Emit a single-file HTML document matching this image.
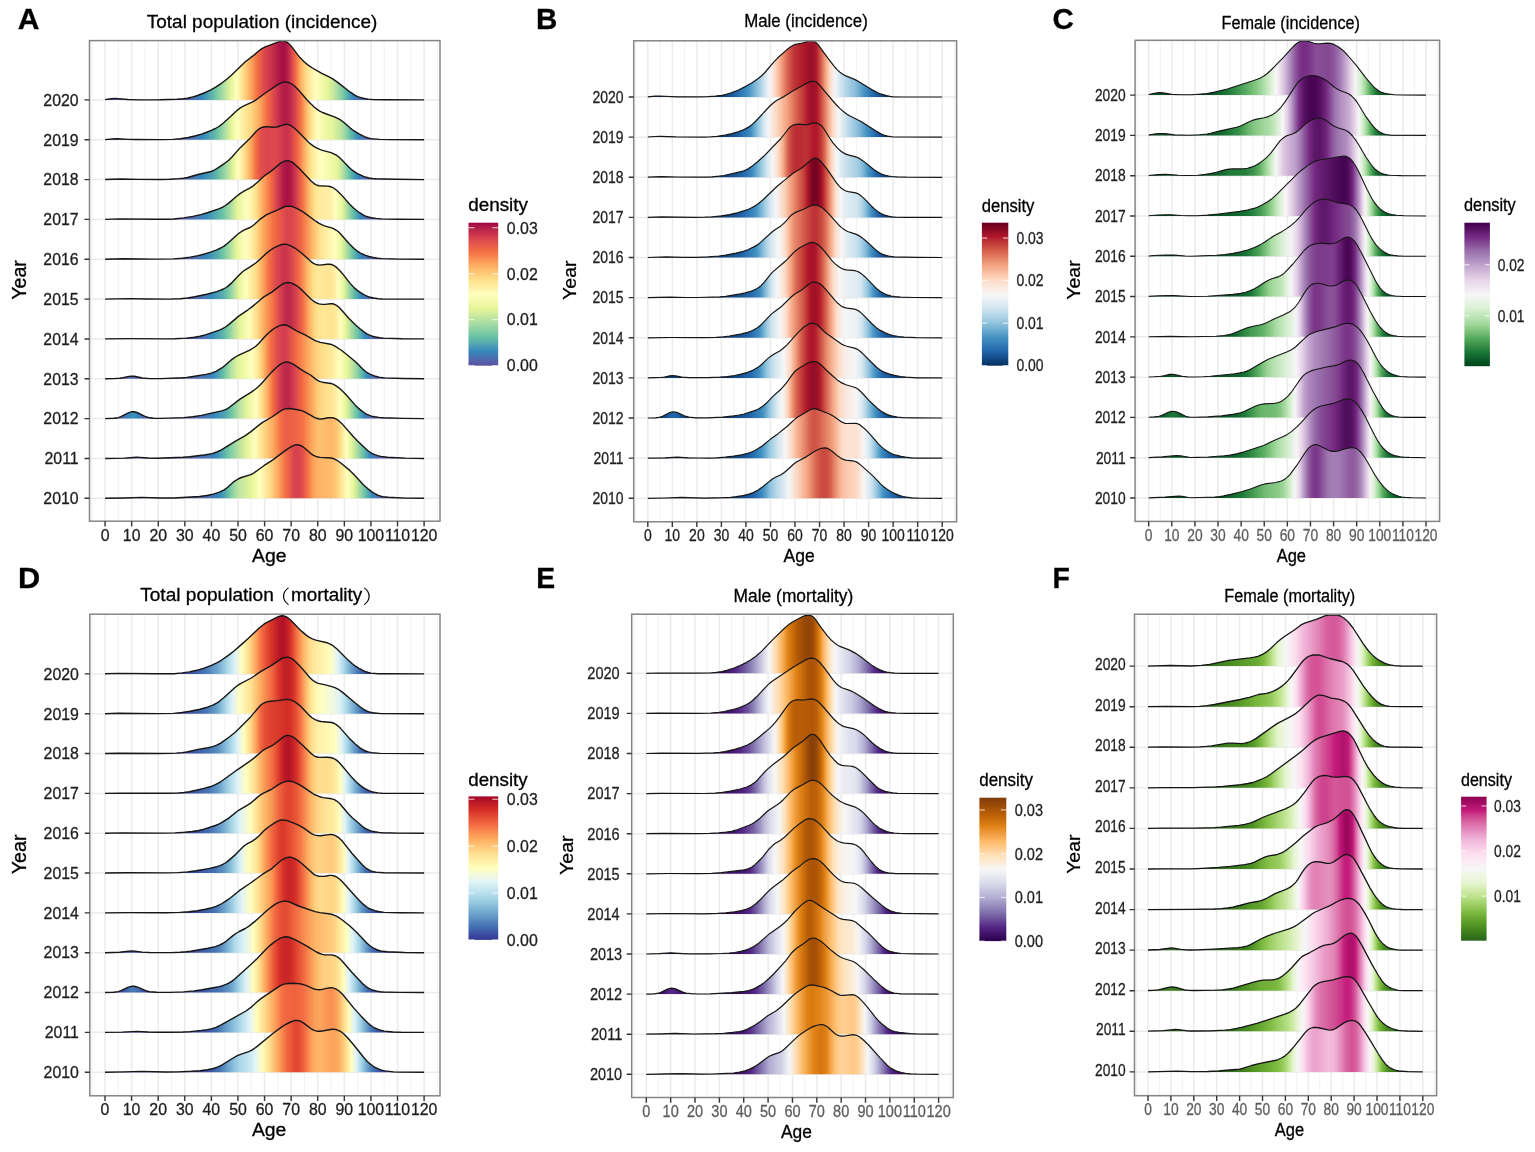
<!DOCTYPE html><html><head><meta charset="utf-8"><title>Ridgeline density plots</title><style>html,body{margin:0;padding:0;background:#fff;}svg{display:block;}text{stroke-width:0.3px;}</style></head><body><svg width="1535" height="1152" viewBox="0 0 1535 1152" style="font-family:'Liberation Sans',Arial,'Noto Sans CJK SC',sans-serif"><defs><clipPath id="clipA"><rect x="89.50" y="40.60" width="350.50" height="480.60"/></clipPath><linearGradient id="gA2020" gradientUnits="userSpaceOnUse" x1="105.10" y1="0" x2="424.10" y2="0"><stop offset="0.0000" stop-color="#5d52a3"/><stop offset="0.0333" stop-color="#585ea9"/><stop offset="0.0938" stop-color="#5e50a2"/><stop offset="0.2042" stop-color="#5c54a4"/><stop offset="0.2562" stop-color="#585ea9"/><stop offset="0.2854" stop-color="#4975b4"/><stop offset="0.3042" stop-color="#3489bd"/><stop offset="0.3292" stop-color="#58abaf"/><stop offset="0.3438" stop-color="#6ac3a5"/><stop offset="0.3771" stop-color="#bde4a1"/><stop offset="0.3937" stop-color="#e7f599"/><stop offset="0.4125" stop-color="#feffbe"/><stop offset="0.4333" stop-color="#fedc88"/><stop offset="0.4583" stop-color="#fca45c"/><stop offset="0.4771" stop-color="#f46f44"/><stop offset="0.4979" stop-color="#dc4a4d"/><stop offset="0.5208" stop-color="#c8334c"/><stop offset="0.5542" stop-color="#a60f44"/><stop offset="0.5625" stop-color="#a71044"/><stop offset="0.5729" stop-color="#b72348"/><stop offset="0.5854" stop-color="#d9454e"/><stop offset="0.5979" stop-color="#f46f44"/><stop offset="0.6125" stop-color="#fdae61"/><stop offset="0.6312" stop-color="#fede8a"/><stop offset="0.6604" stop-color="#ffffbf"/><stop offset="0.6979" stop-color="#e5f598"/><stop offset="0.7188" stop-color="#c0e5a0"/><stop offset="0.7438" stop-color="#7fcba5"/><stop offset="0.7521" stop-color="#65c0a6"/><stop offset="0.7688" stop-color="#4798b7"/><stop offset="0.7771" stop-color="#3487bc"/><stop offset="0.7875" stop-color="#4975b4"/><stop offset="0.8083" stop-color="#5760aa"/><stop offset="0.8396" stop-color="#5d53a4"/><stop offset="1.0000" stop-color="#5e4fa2"/></linearGradient><linearGradient id="gA2019" gradientUnits="userSpaceOnUse" x1="105.10" y1="0" x2="424.10" y2="0"><stop offset="0.0000" stop-color="#5e50a3"/><stop offset="0.0437" stop-color="#5b58a6"/><stop offset="0.1146" stop-color="#5d51a3"/><stop offset="0.2188" stop-color="#5c53a4"/><stop offset="0.2708" stop-color="#516baf"/><stop offset="0.2979" stop-color="#3d81b9"/><stop offset="0.3063" stop-color="#3389bd"/><stop offset="0.3333" stop-color="#56a9b0"/><stop offset="0.3500" stop-color="#66c2a5"/><stop offset="0.3792" stop-color="#b7e1a2"/><stop offset="0.3958" stop-color="#e6f598"/><stop offset="0.4146" stop-color="#feffbe"/><stop offset="0.4417" stop-color="#ffe694"/><stop offset="0.4604" stop-color="#fed27f"/><stop offset="0.4813" stop-color="#fdaf62"/><stop offset="0.5083" stop-color="#f36c44"/><stop offset="0.5375" stop-color="#d13a4e"/><stop offset="0.5542" stop-color="#b62248"/><stop offset="0.5667" stop-color="#b01c46"/><stop offset="0.5813" stop-color="#bd2949"/><stop offset="0.5958" stop-color="#d8434e"/><stop offset="0.6125" stop-color="#f47044"/><stop offset="0.6292" stop-color="#fdb365"/><stop offset="0.6458" stop-color="#fee28e"/><stop offset="0.6667" stop-color="#ffffbf"/><stop offset="0.6937" stop-color="#eef8a4"/><stop offset="0.7125" stop-color="#e3f499"/><stop offset="0.7354" stop-color="#c4e79f"/><stop offset="0.7500" stop-color="#a2d9a4"/><stop offset="0.7688" stop-color="#64bfa7"/><stop offset="0.7896" stop-color="#3f91b9"/><stop offset="0.7937" stop-color="#358abc"/><stop offset="0.7958" stop-color="#3586bc"/><stop offset="0.8083" stop-color="#4a74b3"/><stop offset="0.8292" stop-color="#595da8"/><stop offset="0.8688" stop-color="#5d51a3"/><stop offset="1.0000" stop-color="#5e4fa2"/></linearGradient><linearGradient id="gA2018" gradientUnits="userSpaceOnUse" x1="105.10" y1="0" x2="424.10" y2="0"><stop offset="0.0000" stop-color="#5e50a2"/><stop offset="0.0667" stop-color="#5c54a4"/><stop offset="0.1896" stop-color="#5d52a3"/><stop offset="0.2521" stop-color="#575fa9"/><stop offset="0.2812" stop-color="#4777b5"/><stop offset="0.3042" stop-color="#3288bd"/><stop offset="0.3333" stop-color="#4d9eb4"/><stop offset="0.3521" stop-color="#63bca8"/><stop offset="0.3604" stop-color="#75c7a5"/><stop offset="0.3875" stop-color="#bae3a1"/><stop offset="0.4021" stop-color="#e7f599"/><stop offset="0.4167" stop-color="#fdfebd"/><stop offset="0.4188" stop-color="#fffdbc"/><stop offset="0.4396" stop-color="#fed985"/><stop offset="0.4583" stop-color="#fca65d"/><stop offset="0.4729" stop-color="#f46d43"/><stop offset="0.4875" stop-color="#e1504b"/><stop offset="0.5042" stop-color="#da464e"/><stop offset="0.5354" stop-color="#dc494d"/><stop offset="0.5542" stop-color="#d03a4e"/><stop offset="0.5687" stop-color="#c7324c"/><stop offset="0.5813" stop-color="#d23b4e"/><stop offset="0.6042" stop-color="#f16944"/><stop offset="0.6083" stop-color="#f67647"/><stop offset="0.6271" stop-color="#feb769"/><stop offset="0.6438" stop-color="#fee18c"/><stop offset="0.6646" stop-color="#fff7b2"/><stop offset="0.6750" stop-color="#ffffbf"/><stop offset="0.7188" stop-color="#edf8a2"/><stop offset="0.7271" stop-color="#e6f598"/><stop offset="0.7417" stop-color="#c1e5a0"/><stop offset="0.7604" stop-color="#7ccaa5"/><stop offset="0.7667" stop-color="#65bfa6"/><stop offset="0.7833" stop-color="#4596b7"/><stop offset="0.7917" stop-color="#3387bd"/><stop offset="0.8042" stop-color="#4876b4"/><stop offset="0.8271" stop-color="#585fa9"/><stop offset="0.8646" stop-color="#5c54a4"/><stop offset="1.0000" stop-color="#5e4fa2"/></linearGradient><linearGradient id="gA2017" gradientUnits="userSpaceOnUse" x1="105.10" y1="0" x2="424.10" y2="0"><stop offset="0.0000" stop-color="#5e50a2"/><stop offset="0.0750" stop-color="#5d53a4"/><stop offset="0.2104" stop-color="#5d52a3"/><stop offset="0.2750" stop-color="#506cb0"/><stop offset="0.3042" stop-color="#3e80b9"/><stop offset="0.3146" stop-color="#3489bd"/><stop offset="0.3438" stop-color="#54a6b1"/><stop offset="0.3667" stop-color="#67c2a5"/><stop offset="0.3896" stop-color="#a0d8a4"/><stop offset="0.4146" stop-color="#e5f498"/><stop offset="0.4437" stop-color="#feffbe"/><stop offset="0.4604" stop-color="#fff1a7"/><stop offset="0.4750" stop-color="#fedc87"/><stop offset="0.4958" stop-color="#fca65d"/><stop offset="0.5188" stop-color="#f46d43"/><stop offset="0.5417" stop-color="#d13b4e"/><stop offset="0.5583" stop-color="#b01c46"/><stop offset="0.5708" stop-color="#a71144"/><stop offset="0.5833" stop-color="#b01c46"/><stop offset="0.5979" stop-color="#d03a4e"/><stop offset="0.6188" stop-color="#f46f44"/><stop offset="0.6375" stop-color="#fdb365"/><stop offset="0.6562" stop-color="#fee18d"/><stop offset="0.6687" stop-color="#ffeb9d"/><stop offset="0.7063" stop-color="#fff0a6"/><stop offset="0.7208" stop-color="#fffcba"/><stop offset="0.7229" stop-color="#ffffbf"/><stop offset="0.7438" stop-color="#e3f499"/><stop offset="0.7625" stop-color="#9ed7a4"/><stop offset="0.7771" stop-color="#66c1a5"/><stop offset="0.7937" stop-color="#4798b7"/><stop offset="0.8000" stop-color="#368abc"/><stop offset="0.8021" stop-color="#3586bc"/><stop offset="0.8125" stop-color="#4975b4"/><stop offset="0.8333" stop-color="#5761aa"/><stop offset="0.8750" stop-color="#5d53a4"/><stop offset="1.0000" stop-color="#5e4fa2"/></linearGradient><linearGradient id="gA2016" gradientUnits="userSpaceOnUse" x1="105.10" y1="0" x2="424.10" y2="0"><stop offset="0.0000" stop-color="#5e50a2"/><stop offset="0.0833" stop-color="#5c54a4"/><stop offset="0.2062" stop-color="#5d51a3"/><stop offset="0.2646" stop-color="#5663ab"/><stop offset="0.3021" stop-color="#457ab6"/><stop offset="0.3187" stop-color="#3387bd"/><stop offset="0.3563" stop-color="#5db2ac"/><stop offset="0.3667" stop-color="#66c2a5"/><stop offset="0.3937" stop-color="#b2e0a3"/><stop offset="0.4125" stop-color="#e7f599"/><stop offset="0.4375" stop-color="#fdfebd"/><stop offset="0.4417" stop-color="#fffebd"/><stop offset="0.4604" stop-color="#ffefa4"/><stop offset="0.4729" stop-color="#fedc87"/><stop offset="0.4938" stop-color="#fdad61"/><stop offset="0.5208" stop-color="#f67a48"/><stop offset="0.5312" stop-color="#f36b44"/><stop offset="0.5687" stop-color="#d9454e"/><stop offset="0.5854" stop-color="#db474d"/><stop offset="0.6104" stop-color="#ec6147"/><stop offset="0.6208" stop-color="#f57346"/><stop offset="0.6500" stop-color="#feb96a"/><stop offset="0.6729" stop-color="#fee18d"/><stop offset="0.6979" stop-color="#fff2a9"/><stop offset="0.7208" stop-color="#ffffbe"/><stop offset="0.7375" stop-color="#edf8a3"/><stop offset="0.7417" stop-color="#e7f599"/><stop offset="0.7646" stop-color="#94d3a4"/><stop offset="0.7771" stop-color="#65c0a6"/><stop offset="0.7937" stop-color="#4697b7"/><stop offset="0.8021" stop-color="#3288bd"/><stop offset="0.8146" stop-color="#4877b4"/><stop offset="0.8396" stop-color="#5761aa"/><stop offset="0.8792" stop-color="#5c54a4"/><stop offset="1.0000" stop-color="#5e4fa2"/></linearGradient><linearGradient id="gA2015" gradientUnits="userSpaceOnUse" x1="105.10" y1="0" x2="424.10" y2="0"><stop offset="0.0000" stop-color="#5e4fa2"/><stop offset="0.1021" stop-color="#5d53a4"/><stop offset="0.2250" stop-color="#5d51a3"/><stop offset="0.2708" stop-color="#5760aa"/><stop offset="0.3167" stop-color="#427cb7"/><stop offset="0.3333" stop-color="#3389bd"/><stop offset="0.3667" stop-color="#57a9b0"/><stop offset="0.3812" stop-color="#67c2a5"/><stop offset="0.4062" stop-color="#bae3a1"/><stop offset="0.4188" stop-color="#e4f498"/><stop offset="0.4417" stop-color="#ffffbe"/><stop offset="0.4729" stop-color="#fedc87"/><stop offset="0.4938" stop-color="#fda95f"/><stop offset="0.5125" stop-color="#f46f44"/><stop offset="0.5354" stop-color="#dd4b4c"/><stop offset="0.5563" stop-color="#cc364d"/><stop offset="0.5687" stop-color="#cb364d"/><stop offset="0.5875" stop-color="#dc4a4d"/><stop offset="0.6104" stop-color="#f57145"/><stop offset="0.6333" stop-color="#feb667"/><stop offset="0.6521" stop-color="#fede8a"/><stop offset="0.6667" stop-color="#ffe99a"/><stop offset="0.7063" stop-color="#ffe594"/><stop offset="0.7188" stop-color="#ffeda1"/><stop offset="0.7312" stop-color="#fffebe"/><stop offset="0.7458" stop-color="#eaf79e"/><stop offset="0.7479" stop-color="#e6f599"/><stop offset="0.7667" stop-color="#99d5a4"/><stop offset="0.7792" stop-color="#66c1a5"/><stop offset="0.7979" stop-color="#4192b9"/><stop offset="0.8021" stop-color="#358abc"/><stop offset="0.8042" stop-color="#3586bc"/><stop offset="0.8146" stop-color="#4a75b3"/><stop offset="0.8354" stop-color="#585ea9"/><stop offset="0.8708" stop-color="#5e50a2"/><stop offset="1.0000" stop-color="#5e4fa2"/></linearGradient><linearGradient id="gA2014" gradientUnits="userSpaceOnUse" x1="105.10" y1="0" x2="424.10" y2="0"><stop offset="0.0000" stop-color="#5e4fa2"/><stop offset="0.1708" stop-color="#5e50a2"/><stop offset="0.2354" stop-color="#5c54a4"/><stop offset="0.2917" stop-color="#5466ac"/><stop offset="0.3187" stop-color="#447bb6"/><stop offset="0.3333" stop-color="#3389bd"/><stop offset="0.3667" stop-color="#5bafad"/><stop offset="0.3771" stop-color="#66c2a5"/><stop offset="0.4062" stop-color="#bce4a1"/><stop offset="0.4229" stop-color="#e5f498"/><stop offset="0.4521" stop-color="#fffebd"/><stop offset="0.4771" stop-color="#feda86"/><stop offset="0.5000" stop-color="#fca75e"/><stop offset="0.5250" stop-color="#f57346"/><stop offset="0.5312" stop-color="#ef6546"/><stop offset="0.5542" stop-color="#cf394e"/><stop offset="0.5687" stop-color="#bd294a"/><stop offset="0.5813" stop-color="#bf2b4a"/><stop offset="0.6000" stop-color="#d7424e"/><stop offset="0.6208" stop-color="#f46d43"/><stop offset="0.6396" stop-color="#fdb063"/><stop offset="0.6562" stop-color="#fed582"/><stop offset="0.6687" stop-color="#fee390"/><stop offset="0.6875" stop-color="#ffe797"/><stop offset="0.7125" stop-color="#fee491"/><stop offset="0.7250" stop-color="#ffeb9e"/><stop offset="0.7375" stop-color="#fffdbc"/><stop offset="0.7396" stop-color="#fdfebc"/><stop offset="0.7542" stop-color="#e7f599"/><stop offset="0.7792" stop-color="#94d3a4"/><stop offset="0.7937" stop-color="#64bea7"/><stop offset="0.8104" stop-color="#4394b8"/><stop offset="0.8167" stop-color="#3387bd"/><stop offset="0.8271" stop-color="#4876b4"/><stop offset="0.8500" stop-color="#5761aa"/><stop offset="0.8854" stop-color="#5c56a5"/><stop offset="1.0000" stop-color="#5e4fa2"/></linearGradient><linearGradient id="gA2013" gradientUnits="userSpaceOnUse" x1="105.10" y1="0" x2="424.10" y2="0"><stop offset="0.0000" stop-color="#5e4fa2"/><stop offset="0.0521" stop-color="#5b56a5"/><stop offset="0.0813" stop-color="#5269ae"/><stop offset="0.1000" stop-color="#5662aa"/><stop offset="0.1271" stop-color="#5d53a4"/><stop offset="0.1854" stop-color="#5d52a3"/><stop offset="0.2625" stop-color="#575fa9"/><stop offset="0.3229" stop-color="#427db7"/><stop offset="0.3375" stop-color="#3288bd"/><stop offset="0.3583" stop-color="#55a7b1"/><stop offset="0.3708" stop-color="#67c2a5"/><stop offset="0.3958" stop-color="#b5e1a2"/><stop offset="0.4125" stop-color="#d9f09b"/><stop offset="0.4229" stop-color="#e7f69a"/><stop offset="0.4604" stop-color="#ffffbf"/><stop offset="0.4792" stop-color="#ffe797"/><stop offset="0.4854" stop-color="#feda86"/><stop offset="0.5021" stop-color="#fca65d"/><stop offset="0.5188" stop-color="#f46f44"/><stop offset="0.5417" stop-color="#dc4a4d"/><stop offset="0.5583" stop-color="#d33c4f"/><stop offset="0.5708" stop-color="#d8424e"/><stop offset="0.6021" stop-color="#f46f44"/><stop offset="0.6396" stop-color="#fdb062"/><stop offset="0.6646" stop-color="#fed480"/><stop offset="0.6896" stop-color="#fee28e"/><stop offset="0.7125" stop-color="#ffea9c"/><stop offset="0.7333" stop-color="#fffebd"/><stop offset="0.7458" stop-color="#f4fbae"/><stop offset="0.7604" stop-color="#e4f499"/><stop offset="0.7875" stop-color="#9ad6a4"/><stop offset="0.8021" stop-color="#64bfa6"/><stop offset="0.8187" stop-color="#3d8fba"/><stop offset="0.8229" stop-color="#3487bc"/><stop offset="0.8333" stop-color="#4877b4"/><stop offset="0.8583" stop-color="#5760aa"/><stop offset="0.8958" stop-color="#5c55a5"/><stop offset="1.0000" stop-color="#5e4fa2"/></linearGradient><linearGradient id="gA2012" gradientUnits="userSpaceOnUse" x1="105.10" y1="0" x2="424.10" y2="0"><stop offset="0.0000" stop-color="#5e4fa2"/><stop offset="0.0375" stop-color="#5c56a5"/><stop offset="0.0521" stop-color="#5465ac"/><stop offset="0.0708" stop-color="#3984bb"/><stop offset="0.0750" stop-color="#3389bd"/><stop offset="0.0854" stop-color="#3f90ba"/><stop offset="0.0958" stop-color="#3a8dbb"/><stop offset="0.1000" stop-color="#3489bd"/><stop offset="0.1229" stop-color="#5368ad"/><stop offset="0.1396" stop-color="#5b58a6"/><stop offset="0.1750" stop-color="#5d52a3"/><stop offset="0.2687" stop-color="#585fa9"/><stop offset="0.3125" stop-color="#4975b4"/><stop offset="0.3417" stop-color="#3389bd"/><stop offset="0.3729" stop-color="#4fa0b4"/><stop offset="0.3896" stop-color="#62bba8"/><stop offset="0.3958" stop-color="#70c5a5"/><stop offset="0.4208" stop-color="#b7e2a2"/><stop offset="0.4458" stop-color="#e7f59a"/><stop offset="0.4729" stop-color="#ffffbf"/><stop offset="0.4938" stop-color="#fedc88"/><stop offset="0.5125" stop-color="#fca15b"/><stop offset="0.5271" stop-color="#f26b44"/><stop offset="0.5479" stop-color="#d33d4f"/><stop offset="0.5625" stop-color="#bd294a"/><stop offset="0.5750" stop-color="#bc2849"/><stop offset="0.5938" stop-color="#d6404f"/><stop offset="0.6208" stop-color="#f46e43"/><stop offset="0.6500" stop-color="#fdab5f"/><stop offset="0.6687" stop-color="#fed07d"/><stop offset="0.6875" stop-color="#fede89"/><stop offset="0.7125" stop-color="#ffe695"/><stop offset="0.7292" stop-color="#fff6af"/><stop offset="0.7354" stop-color="#fffebd"/><stop offset="0.7417" stop-color="#f9fcb5"/><stop offset="0.7562" stop-color="#e3f499"/><stop offset="0.7771" stop-color="#96d4a4"/><stop offset="0.7896" stop-color="#65c0a6"/><stop offset="0.8063" stop-color="#4394b8"/><stop offset="0.8125" stop-color="#3487bc"/><stop offset="0.8229" stop-color="#4975b4"/><stop offset="0.8438" stop-color="#5662ab"/><stop offset="0.8833" stop-color="#5c56a5"/><stop offset="1.0000" stop-color="#5e4fa2"/></linearGradient><linearGradient id="gA2011" gradientUnits="userSpaceOnUse" x1="105.10" y1="0" x2="424.10" y2="0"><stop offset="0.0000" stop-color="#5e4fa2"/><stop offset="0.0792" stop-color="#5b57a5"/><stop offset="0.1104" stop-color="#5a5aa7"/><stop offset="0.1625" stop-color="#5d51a3"/><stop offset="0.2687" stop-color="#5761aa"/><stop offset="0.3292" stop-color="#4579b6"/><stop offset="0.3458" stop-color="#3387bd"/><stop offset="0.3708" stop-color="#59adae"/><stop offset="0.3833" stop-color="#6ac3a5"/><stop offset="0.4083" stop-color="#a3daa4"/><stop offset="0.4458" stop-color="#e7f59a"/><stop offset="0.4688" stop-color="#ffffbe"/><stop offset="0.4958" stop-color="#feda86"/><stop offset="0.5271" stop-color="#fca95e"/><stop offset="0.5521" stop-color="#f46d43"/><stop offset="0.5687" stop-color="#ea5e48"/><stop offset="0.5979" stop-color="#ee6446"/><stop offset="0.6188" stop-color="#f57044"/><stop offset="0.6458" stop-color="#fca35b"/><stop offset="0.6625" stop-color="#febc6c"/><stop offset="0.6771" stop-color="#fec272"/><stop offset="0.7083" stop-color="#feb668"/><stop offset="0.7229" stop-color="#fec070"/><stop offset="0.7375" stop-color="#fedc87"/><stop offset="0.7562" stop-color="#ffffbf"/><stop offset="0.7708" stop-color="#e8f69b"/><stop offset="0.7771" stop-color="#d5ee9c"/><stop offset="0.7958" stop-color="#97d5a4"/><stop offset="0.8104" stop-color="#64bfa7"/><stop offset="0.8250" stop-color="#4596b8"/><stop offset="0.8313" stop-color="#3388bd"/><stop offset="0.8438" stop-color="#4876b4"/><stop offset="0.8688" stop-color="#5662aa"/><stop offset="0.9500" stop-color="#5d52a3"/><stop offset="1.0000" stop-color="#5e4fa2"/></linearGradient><linearGradient id="gA2010" gradientUnits="userSpaceOnUse" x1="105.10" y1="0" x2="424.10" y2="0"><stop offset="0.0000" stop-color="#5e4fa2"/><stop offset="0.1333" stop-color="#5b57a5"/><stop offset="0.2146" stop-color="#5d52a3"/><stop offset="0.3083" stop-color="#5466ac"/><stop offset="0.3417" stop-color="#4579b6"/><stop offset="0.3563" stop-color="#3288bd"/><stop offset="0.3750" stop-color="#52a3b2"/><stop offset="0.3875" stop-color="#66c2a5"/><stop offset="0.4042" stop-color="#9ed7a4"/><stop offset="0.4188" stop-color="#bde4a1"/><stop offset="0.4583" stop-color="#e6f598"/><stop offset="0.4854" stop-color="#ffffbe"/><stop offset="0.5188" stop-color="#fed884"/><stop offset="0.5437" stop-color="#fca55d"/><stop offset="0.5667" stop-color="#f26b44"/><stop offset="0.5938" stop-color="#d8444e"/><stop offset="0.6062" stop-color="#d7414e"/><stop offset="0.6208" stop-color="#e2524b"/><stop offset="0.6354" stop-color="#f57245"/><stop offset="0.6500" stop-color="#fb9c58"/><stop offset="0.6625" stop-color="#fdaf62"/><stop offset="0.6875" stop-color="#feb869"/><stop offset="0.7125" stop-color="#febd6d"/><stop offset="0.7292" stop-color="#fed27f"/><stop offset="0.7458" stop-color="#ffec9f"/><stop offset="0.7583" stop-color="#fffdbc"/><stop offset="0.7604" stop-color="#feffbe"/><stop offset="0.7792" stop-color="#e6f598"/><stop offset="0.8021" stop-color="#99d5a4"/><stop offset="0.8146" stop-color="#68c3a5"/><stop offset="0.8333" stop-color="#4193b9"/><stop offset="0.8375" stop-color="#368abc"/><stop offset="0.8396" stop-color="#3487bc"/><stop offset="0.8500" stop-color="#4975b4"/><stop offset="0.8688" stop-color="#5760aa"/><stop offset="0.9104" stop-color="#5c55a5"/><stop offset="1.0000" stop-color="#5e4fa2"/></linearGradient><linearGradient id="legA" x1="0" y1="1" x2="0" y2="0"><stop offset="0.000" stop-color="#5e4fa2"/><stop offset="0.025" stop-color="#585ea9"/><stop offset="0.050" stop-color="#506caf"/><stop offset="0.075" stop-color="#447ab6"/><stop offset="0.100" stop-color="#3288bd"/><stop offset="0.125" stop-color="#4596b7"/><stop offset="0.150" stop-color="#53a4b2"/><stop offset="0.175" stop-color="#5eb3ac"/><stop offset="0.200" stop-color="#66c2a5"/><stop offset="0.225" stop-color="#79c9a5"/><stop offset="0.250" stop-color="#8bcfa5"/><stop offset="0.275" stop-color="#9bd6a4"/><stop offset="0.300" stop-color="#abdda4"/><stop offset="0.325" stop-color="#bae3a1"/><stop offset="0.350" stop-color="#c9e99e"/><stop offset="0.375" stop-color="#d8ef9b"/><stop offset="0.400" stop-color="#e6f598"/><stop offset="0.425" stop-color="#ecf8a2"/><stop offset="0.450" stop-color="#f3faac"/><stop offset="0.475" stop-color="#f9fdb5"/><stop offset="0.500" stop-color="#ffffbf"/><stop offset="0.525" stop-color="#fff7b2"/><stop offset="0.550" stop-color="#ffefa5"/><stop offset="0.575" stop-color="#ffe898"/><stop offset="0.600" stop-color="#fee08b"/><stop offset="0.625" stop-color="#fed480"/><stop offset="0.650" stop-color="#fec776"/><stop offset="0.675" stop-color="#febb6b"/><stop offset="0.700" stop-color="#fdae61"/><stop offset="0.725" stop-color="#fb9f59"/><stop offset="0.750" stop-color="#f98f52"/><stop offset="0.775" stop-color="#f77e4a"/><stop offset="0.800" stop-color="#f46d43"/><stop offset="0.825" stop-color="#ec6247"/><stop offset="0.850" stop-color="#e5574a"/><stop offset="0.875" stop-color="#dd4b4d"/><stop offset="0.900" stop-color="#d53e4f"/><stop offset="0.925" stop-color="#c7324c"/><stop offset="0.950" stop-color="#b92649"/><stop offset="0.975" stop-color="#ac1745"/><stop offset="1.000" stop-color="#9e0142"/></linearGradient><clipPath id="clipB"><rect x="633.70" y="40.80" width="322.90" height="481.00"/></clipPath><linearGradient id="gB2020" gradientUnits="userSpaceOnUse" x1="647.80" y1="0" x2="942.20" y2="0"><stop offset="0.0000" stop-color="#063163"/><stop offset="0.0417" stop-color="#0a396d"/><stop offset="0.1104" stop-color="#063263"/><stop offset="0.2104" stop-color="#073366"/><stop offset="0.2562" stop-color="#0e4179"/><stop offset="0.2875" stop-color="#1b599a"/><stop offset="0.3021" stop-color="#2368ad"/><stop offset="0.3417" stop-color="#4493c3"/><stop offset="0.3833" stop-color="#acd2e5"/><stop offset="0.4000" stop-color="#d8e8f1"/><stop offset="0.4146" stop-color="#f7f6f6"/><stop offset="0.4333" stop-color="#fdd6c0"/><stop offset="0.4521" stop-color="#f4a683"/><stop offset="0.4771" stop-color="#d45d4b"/><stop offset="0.4979" stop-color="#be3536"/><stop offset="0.5312" stop-color="#ae172a"/><stop offset="0.5521" stop-color="#9a1027"/><stop offset="0.5625" stop-color="#9d1128"/><stop offset="0.5729" stop-color="#b31b2c"/><stop offset="0.5896" stop-color="#d7624e"/><stop offset="0.6042" stop-color="#f4a784"/><stop offset="0.6188" stop-color="#fddbc7"/><stop offset="0.6354" stop-color="#f5f6f7"/><stop offset="0.6729" stop-color="#b3d5e7"/><stop offset="0.7042" stop-color="#8abfdb"/><stop offset="0.7229" stop-color="#64a5cd"/><stop offset="0.7354" stop-color="#4392c3"/><stop offset="0.7708" stop-color="#2063a8"/><stop offset="0.7937" stop-color="#124984"/><stop offset="0.8229" stop-color="#073568"/><stop offset="0.8625" stop-color="#053062"/><stop offset="1.0000" stop-color="#053061"/></linearGradient><linearGradient id="gB2019" gradientUnits="userSpaceOnUse" x1="647.80" y1="0" x2="942.20" y2="0"><stop offset="0.0000" stop-color="#053162"/><stop offset="0.0479" stop-color="#08366a"/><stop offset="0.1458" stop-color="#063163"/><stop offset="0.2146" stop-color="#063264"/><stop offset="0.2667" stop-color="#0f437b"/><stop offset="0.3042" stop-color="#1c5d9f"/><stop offset="0.3167" stop-color="#2368ad"/><stop offset="0.3458" stop-color="#3c88be"/><stop offset="0.3521" stop-color="#4393c3"/><stop offset="0.3771" stop-color="#9fcbe1"/><stop offset="0.3937" stop-color="#d4e6f1"/><stop offset="0.4104" stop-color="#f6f6f7"/><stop offset="0.4375" stop-color="#fdd7c1"/><stop offset="0.4708" stop-color="#f4a683"/><stop offset="0.5042" stop-color="#d7634f"/><stop offset="0.5312" stop-color="#bd3234"/><stop offset="0.5417" stop-color="#b2182b"/><stop offset="0.5542" stop-color="#9f1128"/><stop offset="0.5646" stop-color="#9d1128"/><stop offset="0.5729" stop-color="#aa152a"/><stop offset="0.5771" stop-color="#b41e2d"/><stop offset="0.5958" stop-color="#d86450"/><stop offset="0.6146" stop-color="#f6ae8e"/><stop offset="0.6292" stop-color="#fddcc8"/><stop offset="0.6479" stop-color="#f6f7f7"/><stop offset="0.6792" stop-color="#c1dceb"/><stop offset="0.7146" stop-color="#87bdda"/><stop offset="0.7375" stop-color="#559cc8"/><stop offset="0.7438" stop-color="#4393c3"/><stop offset="0.7750" stop-color="#2166ac"/><stop offset="0.7937" stop-color="#134b87"/><stop offset="0.8187" stop-color="#08366a"/><stop offset="0.8458" stop-color="#053162"/><stop offset="1.0000" stop-color="#053061"/></linearGradient><linearGradient id="gB2018" gradientUnits="userSpaceOnUse" x1="647.80" y1="0" x2="942.20" y2="0"><stop offset="0.0000" stop-color="#053162"/><stop offset="0.0625" stop-color="#073467"/><stop offset="0.1854" stop-color="#063163"/><stop offset="0.2417" stop-color="#0a396e"/><stop offset="0.2729" stop-color="#124782"/><stop offset="0.3271" stop-color="#2469ae"/><stop offset="0.3479" stop-color="#3881ba"/><stop offset="0.3583" stop-color="#4393c3"/><stop offset="0.3854" stop-color="#99c8e0"/><stop offset="0.4062" stop-color="#d5e7f1"/><stop offset="0.4229" stop-color="#f6f6f7"/><stop offset="0.4437" stop-color="#fddac6"/><stop offset="0.4604" stop-color="#f5a986"/><stop offset="0.4771" stop-color="#d55f4c"/><stop offset="0.4896" stop-color="#c23d3a"/><stop offset="0.5021" stop-color="#ba2c32"/><stop offset="0.5208" stop-color="#ba2c32"/><stop offset="0.5375" stop-color="#bd3335"/><stop offset="0.5500" stop-color="#b82730"/><stop offset="0.5604" stop-color="#b2182b"/><stop offset="0.5708" stop-color="#b0172b"/><stop offset="0.5792" stop-color="#b6222e"/><stop offset="0.5917" stop-color="#c6433d"/><stop offset="0.6000" stop-color="#d86551"/><stop offset="0.6125" stop-color="#f5a987"/><stop offset="0.6250" stop-color="#fddbc7"/><stop offset="0.6417" stop-color="#f6f7f7"/><stop offset="0.6625" stop-color="#d5e7f1"/><stop offset="0.6875" stop-color="#bad9e9"/><stop offset="0.7125" stop-color="#a4cee3"/><stop offset="0.7271" stop-color="#89beda"/><stop offset="0.7438" stop-color="#589ec9"/><stop offset="0.7500" stop-color="#4292c2"/><stop offset="0.7771" stop-color="#2064aa"/><stop offset="0.7937" stop-color="#154d8a"/><stop offset="0.8187" stop-color="#0b3b70"/><stop offset="0.8562" stop-color="#063263"/><stop offset="1.0000" stop-color="#053061"/></linearGradient><linearGradient id="gB2017" gradientUnits="userSpaceOnUse" x1="647.80" y1="0" x2="942.20" y2="0"><stop offset="0.0000" stop-color="#053062"/><stop offset="0.0688" stop-color="#073366"/><stop offset="0.2021" stop-color="#063264"/><stop offset="0.2604" stop-color="#0e4179"/><stop offset="0.3042" stop-color="#1a5899"/><stop offset="0.3250" stop-color="#2468ad"/><stop offset="0.3604" stop-color="#3e8abf"/><stop offset="0.3667" stop-color="#4393c3"/><stop offset="0.3875" stop-color="#81b9d8"/><stop offset="0.4021" stop-color="#aed3e6"/><stop offset="0.4167" stop-color="#d5e7f1"/><stop offset="0.4354" stop-color="#f6f7f7"/><stop offset="0.4625" stop-color="#fcd5bf"/><stop offset="0.4875" stop-color="#f29f7d"/><stop offset="0.5104" stop-color="#db6b55"/><stop offset="0.5312" stop-color="#c33e3a"/><stop offset="0.5396" stop-color="#b5222e"/><stop offset="0.5417" stop-color="#b2182b"/><stop offset="0.5563" stop-color="#820724"/><stop offset="0.5646" stop-color="#740321"/><stop offset="0.5729" stop-color="#750321"/><stop offset="0.5833" stop-color="#8b0a25"/><stop offset="0.5938" stop-color="#b2192b"/><stop offset="0.6021" stop-color="#c5433c"/><stop offset="0.6125" stop-color="#dd7059"/><stop offset="0.6250" stop-color="#f6ac8b"/><stop offset="0.6375" stop-color="#fddcc8"/><stop offset="0.6542" stop-color="#f7f7f7"/><stop offset="0.6708" stop-color="#e1edf3"/><stop offset="0.7104" stop-color="#d1e5f0"/><stop offset="0.7250" stop-color="#b6d7e8"/><stop offset="0.7396" stop-color="#8bc0db"/><stop offset="0.7583" stop-color="#4291c2"/><stop offset="0.7812" stop-color="#2064a9"/><stop offset="0.7958" stop-color="#144d89"/><stop offset="0.8187" stop-color="#0a3a6f"/><stop offset="0.8479" stop-color="#063264"/><stop offset="1.0000" stop-color="#053061"/></linearGradient><linearGradient id="gB2016" gradientUnits="userSpaceOnUse" x1="647.80" y1="0" x2="942.20" y2="0"><stop offset="0.0000" stop-color="#053062"/><stop offset="0.0792" stop-color="#073467"/><stop offset="0.1771" stop-color="#063264"/><stop offset="0.2562" stop-color="#0e427a"/><stop offset="0.3104" stop-color="#1d5da0"/><stop offset="0.3271" stop-color="#2469ae"/><stop offset="0.3688" stop-color="#4393c3"/><stop offset="0.3875" stop-color="#7bb5d5"/><stop offset="0.4000" stop-color="#a3cde3"/><stop offset="0.4167" stop-color="#d1e5f0"/><stop offset="0.4437" stop-color="#f7f7f7"/><stop offset="0.4625" stop-color="#fce4d6"/><stop offset="0.4708" stop-color="#fcd3bd"/><stop offset="0.4854" stop-color="#f5a987"/><stop offset="0.4979" stop-color="#e98a6d"/><stop offset="0.5437" stop-color="#c94940"/><stop offset="0.5625" stop-color="#bd3235"/><stop offset="0.5750" stop-color="#be3636"/><stop offset="0.5917" stop-color="#cc4f43"/><stop offset="0.6042" stop-color="#dd6f58"/><stop offset="0.6208" stop-color="#f5a987"/><stop offset="0.6375" stop-color="#fddbc7"/><stop offset="0.6583" stop-color="#f6f6f7"/><stop offset="0.6792" stop-color="#deebf2"/><stop offset="0.7063" stop-color="#cbe2ee"/><stop offset="0.7229" stop-color="#afd3e6"/><stop offset="0.7375" stop-color="#8cc0dc"/><stop offset="0.7542" stop-color="#549cc8"/><stop offset="0.7583" stop-color="#4392c3"/><stop offset="0.7812" stop-color="#2166ac"/><stop offset="0.7958" stop-color="#154f8c"/><stop offset="0.8187" stop-color="#0b3c71"/><stop offset="0.8458" stop-color="#073567"/><stop offset="1.0000" stop-color="#053061"/></linearGradient><linearGradient id="gB2015" gradientUnits="userSpaceOnUse" x1="647.80" y1="0" x2="942.20" y2="0"><stop offset="0.0000" stop-color="#053062"/><stop offset="0.0979" stop-color="#073366"/><stop offset="0.1833" stop-color="#063263"/><stop offset="0.2583" stop-color="#0a3a6f"/><stop offset="0.3312" stop-color="#1b5a9b"/><stop offset="0.3521" stop-color="#256aae"/><stop offset="0.3771" stop-color="#3b86bd"/><stop offset="0.3833" stop-color="#4291c2"/><stop offset="0.4000" stop-color="#86bcd9"/><stop offset="0.4167" stop-color="#c9e1ee"/><stop offset="0.4271" stop-color="#e0ecf3"/><stop offset="0.4417" stop-color="#f7f7f7"/><stop offset="0.4667" stop-color="#fdd9c4"/><stop offset="0.4875" stop-color="#f2a07e"/><stop offset="0.5042" stop-color="#da6853"/><stop offset="0.5250" stop-color="#c33f3a"/><stop offset="0.5437" stop-color="#b2182b"/><stop offset="0.5563" stop-color="#a41329"/><stop offset="0.5667" stop-color="#aa152a"/><stop offset="0.5708" stop-color="#b1182b"/><stop offset="0.5896" stop-color="#cc4e43"/><stop offset="0.6000" stop-color="#df745b"/><stop offset="0.6146" stop-color="#f6af8f"/><stop offset="0.6292" stop-color="#fddcc9"/><stop offset="0.6521" stop-color="#f7f6f6"/><stop offset="0.6729" stop-color="#e9f0f4"/><stop offset="0.7104" stop-color="#e0ecf3"/><stop offset="0.7250" stop-color="#d0e5f0"/><stop offset="0.7438" stop-color="#9ecbe1"/><stop offset="0.7542" stop-color="#7ab4d5"/><stop offset="0.7667" stop-color="#4594c4"/><stop offset="0.7875" stop-color="#256aae"/><stop offset="0.8104" stop-color="#144b87"/><stop offset="0.8333" stop-color="#0b3c71"/><stop offset="0.8771" stop-color="#063365"/><stop offset="1.0000" stop-color="#053061"/></linearGradient><linearGradient id="gB2014" gradientUnits="userSpaceOnUse" x1="647.80" y1="0" x2="942.20" y2="0"><stop offset="0.0000" stop-color="#053061"/><stop offset="0.1437" stop-color="#063163"/><stop offset="0.2313" stop-color="#073467"/><stop offset="0.2771" stop-color="#0d4077"/><stop offset="0.3292" stop-color="#1a5899"/><stop offset="0.3500" stop-color="#256aae"/><stop offset="0.3750" stop-color="#3c88bd"/><stop offset="0.3812" stop-color="#4393c3"/><stop offset="0.4042" stop-color="#9ccae1"/><stop offset="0.4208" stop-color="#cfe4ef"/><stop offset="0.4500" stop-color="#f7f6f5"/><stop offset="0.4708" stop-color="#fddbc7"/><stop offset="0.4875" stop-color="#f7af8f"/><stop offset="0.5000" stop-color="#ed9373"/><stop offset="0.5292" stop-color="#d05547"/><stop offset="0.5479" stop-color="#b5202d"/><stop offset="0.5500" stop-color="#b2192b"/><stop offset="0.5604" stop-color="#a01228"/><stop offset="0.5708" stop-color="#9f1228"/><stop offset="0.5833" stop-color="#b2192b"/><stop offset="0.6021" stop-color="#d05647"/><stop offset="0.6146" stop-color="#e78669"/><stop offset="0.6271" stop-color="#f8b495"/><stop offset="0.6417" stop-color="#fdddcb"/><stop offset="0.6604" stop-color="#f9f2ee"/><stop offset="0.6708" stop-color="#f6f7f7"/><stop offset="0.7083" stop-color="#ebf1f5"/><stop offset="0.7271" stop-color="#d2e6f0"/><stop offset="0.7500" stop-color="#8abfdb"/><stop offset="0.7688" stop-color="#4393c3"/><stop offset="0.7917" stop-color="#286db0"/><stop offset="0.8000" stop-color="#2063a8"/><stop offset="0.8250" stop-color="#134984"/><stop offset="0.8583" stop-color="#0a396e"/><stop offset="0.9146" stop-color="#053061"/><stop offset="1.0000" stop-color="#053061"/></linearGradient><linearGradient id="gB2013" gradientUnits="userSpaceOnUse" x1="647.80" y1="0" x2="942.20" y2="0"><stop offset="0.0000" stop-color="#053061"/><stop offset="0.0521" stop-color="#083669"/><stop offset="0.0813" stop-color="#10447d"/><stop offset="0.1000" stop-color="#0d3e75"/><stop offset="0.1271" stop-color="#073366"/><stop offset="0.1979" stop-color="#063264"/><stop offset="0.2667" stop-color="#0a3a6f"/><stop offset="0.3104" stop-color="#144c89"/><stop offset="0.3479" stop-color="#2469ae"/><stop offset="0.3729" stop-color="#3b86bc"/><stop offset="0.3812" stop-color="#4594c4"/><stop offset="0.4042" stop-color="#96c7df"/><stop offset="0.4208" stop-color="#c0dceb"/><stop offset="0.4333" stop-color="#d5e7f1"/><stop offset="0.4625" stop-color="#f7f7f7"/><stop offset="0.4833" stop-color="#fdd9c4"/><stop offset="0.5021" stop-color="#f29f7d"/><stop offset="0.5208" stop-color="#d45d4b"/><stop offset="0.5437" stop-color="#b6242f"/><stop offset="0.5500" stop-color="#b0172b"/><stop offset="0.5604" stop-color="#ab152a"/><stop offset="0.5687" stop-color="#b31b2c"/><stop offset="0.5875" stop-color="#cd5144"/><stop offset="0.6104" stop-color="#ed9374"/><stop offset="0.6292" stop-color="#f9ba9c"/><stop offset="0.6500" stop-color="#fdddcb"/><stop offset="0.6708" stop-color="#faede7"/><stop offset="0.7042" stop-color="#f4f6f6"/><stop offset="0.7229" stop-color="#dfebf3"/><stop offset="0.7333" stop-color="#cae1ee"/><stop offset="0.7542" stop-color="#87bdda"/><stop offset="0.7729" stop-color="#4291c2"/><stop offset="0.7937" stop-color="#286db0"/><stop offset="0.8021" stop-color="#2064a9"/><stop offset="0.8292" stop-color="#144c88"/><stop offset="0.8688" stop-color="#09386d"/><stop offset="0.9208" stop-color="#053162"/><stop offset="1.0000" stop-color="#053061"/></linearGradient><linearGradient id="gB2012" gradientUnits="userSpaceOnUse" x1="647.80" y1="0" x2="942.20" y2="0"><stop offset="0.0000" stop-color="#053061"/><stop offset="0.0375" stop-color="#083568"/><stop offset="0.0521" stop-color="#0f427a"/><stop offset="0.0771" stop-color="#1f62a7"/><stop offset="0.0896" stop-color="#2267ac"/><stop offset="0.1000" stop-color="#1e61a4"/><stop offset="0.1313" stop-color="#0b3c72"/><stop offset="0.1542" stop-color="#073366"/><stop offset="0.2229" stop-color="#063365"/><stop offset="0.2771" stop-color="#0c3d73"/><stop offset="0.3250" stop-color="#175391"/><stop offset="0.3521" stop-color="#2368ad"/><stop offset="0.3812" stop-color="#3983bb"/><stop offset="0.3917" stop-color="#4393c3"/><stop offset="0.4167" stop-color="#9ecbe1"/><stop offset="0.4354" stop-color="#d4e6f0"/><stop offset="0.4562" stop-color="#f7f7f7"/><stop offset="0.4729" stop-color="#fddbc8"/><stop offset="0.4875" stop-color="#f4a582"/><stop offset="0.5000" stop-color="#de725a"/><stop offset="0.5104" stop-color="#d05647"/><stop offset="0.5354" stop-color="#b41f2d"/><stop offset="0.5396" stop-color="#ae172a"/><stop offset="0.5563" stop-color="#960e27"/><stop offset="0.5687" stop-color="#950e27"/><stop offset="0.5792" stop-color="#a31329"/><stop offset="0.5854" stop-color="#b31b2c"/><stop offset="0.6021" stop-color="#d05547"/><stop offset="0.6292" stop-color="#f5a886"/><stop offset="0.6521" stop-color="#fdd9c4"/><stop offset="0.6729" stop-color="#fbe8dd"/><stop offset="0.7083" stop-color="#f6f6f7"/><stop offset="0.7271" stop-color="#d9e9f2"/><stop offset="0.7333" stop-color="#cae1ee"/><stop offset="0.7542" stop-color="#83bad8"/><stop offset="0.7729" stop-color="#4291c2"/><stop offset="0.7958" stop-color="#2267ac"/><stop offset="0.8167" stop-color="#144b87"/><stop offset="0.8417" stop-color="#0b3b70"/><stop offset="0.8792" stop-color="#063264"/><stop offset="1.0000" stop-color="#053061"/></linearGradient><linearGradient id="gB2011" gradientUnits="userSpaceOnUse" x1="647.80" y1="0" x2="942.20" y2="0"><stop offset="0.0000" stop-color="#053061"/><stop offset="0.0771" stop-color="#083669"/><stop offset="0.1083" stop-color="#09396d"/><stop offset="0.1625" stop-color="#063264"/><stop offset="0.2313" stop-color="#063365"/><stop offset="0.2812" stop-color="#0c3e74"/><stop offset="0.3292" stop-color="#185392"/><stop offset="0.3563" stop-color="#266bae"/><stop offset="0.3854" stop-color="#418fc1"/><stop offset="0.3875" stop-color="#4393c3"/><stop offset="0.4146" stop-color="#98c8e0"/><stop offset="0.4417" stop-color="#d2e6f0"/><stop offset="0.4667" stop-color="#f7f6f6"/><stop offset="0.4896" stop-color="#fdd9c4"/><stop offset="0.5042" stop-color="#f8b89a"/><stop offset="0.5271" stop-color="#ec9172"/><stop offset="0.5542" stop-color="#d35b4a"/><stop offset="0.5667" stop-color="#ce5345"/><stop offset="0.5833" stop-color="#d6614e"/><stop offset="0.6229" stop-color="#ef9978"/><stop offset="0.6375" stop-color="#f7b393"/><stop offset="0.6604" stop-color="#fddcc9"/><stop offset="0.6771" stop-color="#fce2d2"/><stop offset="0.7104" stop-color="#fce2d2"/><stop offset="0.7250" stop-color="#faede6"/><stop offset="0.7333" stop-color="#f7f6f6"/><stop offset="0.7542" stop-color="#d1e5f0"/><stop offset="0.7729" stop-color="#8fc2dd"/><stop offset="0.7917" stop-color="#4291c2"/><stop offset="0.8146" stop-color="#266bae"/><stop offset="0.8208" stop-color="#1f62a7"/><stop offset="0.8417" stop-color="#144b87"/><stop offset="0.8729" stop-color="#0a3a6f"/><stop offset="0.9167" stop-color="#053162"/><stop offset="1.0000" stop-color="#053061"/></linearGradient><linearGradient id="gB2010" gradientUnits="userSpaceOnUse" x1="647.80" y1="0" x2="942.20" y2="0"><stop offset="0.0000" stop-color="#053061"/><stop offset="0.1313" stop-color="#08376a"/><stop offset="0.2083" stop-color="#063263"/><stop offset="0.2917" stop-color="#0b3b70"/><stop offset="0.3312" stop-color="#144c89"/><stop offset="0.3563" stop-color="#1e61a5"/><stop offset="0.3646" stop-color="#256aae"/><stop offset="0.3917" stop-color="#4291c2"/><stop offset="0.4167" stop-color="#90c3dd"/><stop offset="0.4354" stop-color="#b4d6e8"/><stop offset="0.4792" stop-color="#f5f6f7"/><stop offset="0.5062" stop-color="#fdd8c3"/><stop offset="0.5437" stop-color="#f3a27f"/><stop offset="0.5750" stop-color="#d55f4c"/><stop offset="0.5938" stop-color="#c94a40"/><stop offset="0.6062" stop-color="#c94a40"/><stop offset="0.6208" stop-color="#d6604d"/><stop offset="0.6479" stop-color="#f5a987"/><stop offset="0.6625" stop-color="#fac0a4"/><stop offset="0.6813" stop-color="#fbcbb2"/><stop offset="0.7042" stop-color="#fcd4be"/><stop offset="0.7229" stop-color="#fbe8dd"/><stop offset="0.7354" stop-color="#f7f7f7"/><stop offset="0.7604" stop-color="#cce2ee"/><stop offset="0.7812" stop-color="#89beda"/><stop offset="0.8000" stop-color="#4292c3"/><stop offset="0.8271" stop-color="#2469ae"/><stop offset="0.8604" stop-color="#10447d"/><stop offset="0.8875" stop-color="#08376a"/><stop offset="0.9313" stop-color="#053162"/><stop offset="1.0000" stop-color="#053061"/></linearGradient><linearGradient id="legB" x1="0" y1="1" x2="0" y2="0"><stop offset="0.000" stop-color="#053061"/><stop offset="0.025" stop-color="#0c3d73"/><stop offset="0.050" stop-color="#134a86"/><stop offset="0.075" stop-color="#1a5899"/><stop offset="0.100" stop-color="#2166ac"/><stop offset="0.125" stop-color="#2b71b2"/><stop offset="0.150" stop-color="#347cb8"/><stop offset="0.175" stop-color="#3c88bd"/><stop offset="0.200" stop-color="#4393c3"/><stop offset="0.225" stop-color="#5a9fca"/><stop offset="0.250" stop-color="#6eacd1"/><stop offset="0.275" stop-color="#80b8d7"/><stop offset="0.300" stop-color="#92c5de"/><stop offset="0.325" stop-color="#a2cde3"/><stop offset="0.350" stop-color="#b2d5e7"/><stop offset="0.375" stop-color="#c2ddec"/><stop offset="0.400" stop-color="#d1e5f0"/><stop offset="0.425" stop-color="#dbe9f2"/><stop offset="0.450" stop-color="#e4eef4"/><stop offset="0.475" stop-color="#eef2f5"/><stop offset="0.500" stop-color="#f7f7f7"/><stop offset="0.525" stop-color="#f9f0eb"/><stop offset="0.550" stop-color="#fbe9df"/><stop offset="0.575" stop-color="#fce2d3"/><stop offset="0.600" stop-color="#fddbc7"/><stop offset="0.625" stop-color="#fccdb5"/><stop offset="0.650" stop-color="#fac0a4"/><stop offset="0.675" stop-color="#f7b293"/><stop offset="0.700" stop-color="#f4a582"/><stop offset="0.725" stop-color="#ed9474"/><stop offset="0.750" stop-color="#e68367"/><stop offset="0.775" stop-color="#de725a"/><stop offset="0.800" stop-color="#d6604d"/><stop offset="0.825" stop-color="#cd5144"/><stop offset="0.850" stop-color="#c4413c"/><stop offset="0.875" stop-color="#bb2f33"/><stop offset="0.900" stop-color="#b2182b"/><stop offset="0.925" stop-color="#9f1128"/><stop offset="0.950" stop-color="#8c0a25"/><stop offset="0.975" stop-color="#790422"/><stop offset="1.000" stop-color="#67001f"/></linearGradient><clipPath id="clipC"><rect x="1135.10" y="40.30" width="304.50" height="481.10"/></clipPath><linearGradient id="gC2020" gradientUnits="userSpaceOnUse" x1="1148.70" y1="0" x2="1426.00" y2="0"><stop offset="0.0000" stop-color="#01471d"/><stop offset="0.0375" stop-color="#085725"/><stop offset="0.0688" stop-color="#034d20"/><stop offset="0.1125" stop-color="#00441b"/><stop offset="0.1833" stop-color="#02491d"/><stop offset="0.2292" stop-color="#085625"/><stop offset="0.2875" stop-color="#1e7a39"/><stop offset="0.3625" stop-color="#66b56a"/><stop offset="0.4021" stop-color="#98d394"/><stop offset="0.4292" stop-color="#c6e8c0"/><stop offset="0.4437" stop-color="#e0f2dc"/><stop offset="0.4604" stop-color="#f7f7f7"/><stop offset="0.4833" stop-color="#e3cee5"/><stop offset="0.5062" stop-color="#b696c5"/><stop offset="0.5271" stop-color="#8f5da0"/><stop offset="0.5417" stop-color="#7e3a8c"/><stop offset="0.5563" stop-color="#762b83"/><stop offset="0.5708" stop-color="#782e85"/><stop offset="0.6021" stop-color="#874d96"/><stop offset="0.6250" stop-color="#874c96"/><stop offset="0.6500" stop-color="#854893"/><stop offset="0.6687" stop-color="#8c569c"/><stop offset="0.6896" stop-color="#a17ab2"/><stop offset="0.7146" stop-color="#ccb1d5"/><stop offset="0.7312" stop-color="#ead9ea"/><stop offset="0.7458" stop-color="#f6f5f6"/><stop offset="0.7646" stop-color="#d5efcf"/><stop offset="0.7812" stop-color="#a1d89c"/><stop offset="0.8000" stop-color="#55a95d"/><stop offset="0.8208" stop-color="#1a7636"/><stop offset="0.8375" stop-color="#0c5d28"/><stop offset="0.8667" stop-color="#024a1e"/><stop offset="0.9167" stop-color="#00441b"/><stop offset="1.0000" stop-color="#00441b"/></linearGradient><linearGradient id="gC2019" gradientUnits="userSpaceOnUse" x1="1148.70" y1="0" x2="1426.00" y2="0"><stop offset="0.0000" stop-color="#01461c"/><stop offset="0.0458" stop-color="#065223"/><stop offset="0.1146" stop-color="#00451b"/><stop offset="0.1812" stop-color="#01471d"/><stop offset="0.2229" stop-color="#065323"/><stop offset="0.2917" stop-color="#1f7a39"/><stop offset="0.3292" stop-color="#3d934c"/><stop offset="0.3604" stop-color="#6ab76e"/><stop offset="0.3875" stop-color="#8ccb89"/><stop offset="0.4333" stop-color="#acdda6"/><stop offset="0.4542" stop-color="#c7e8c0"/><stop offset="0.4813" stop-color="#f3f6f2"/><stop offset="0.4833" stop-color="#f7f7f7"/><stop offset="0.5000" stop-color="#e2cee5"/><stop offset="0.5146" stop-color="#bc9dca"/><stop offset="0.5292" stop-color="#9364a4"/><stop offset="0.5437" stop-color="#752982"/><stop offset="0.5583" stop-color="#5a1566"/><stop offset="0.5792" stop-color="#470552"/><stop offset="0.6021" stop-color="#480553"/><stop offset="0.6229" stop-color="#581364"/><stop offset="0.6438" stop-color="#782e85"/><stop offset="0.6708" stop-color="#9c74ae"/><stop offset="0.6917" stop-color="#b18fc0"/><stop offset="0.7250" stop-color="#cbb0d5"/><stop offset="0.7417" stop-color="#e5d2e7"/><stop offset="0.7583" stop-color="#f6f7f6"/><stop offset="0.7708" stop-color="#d9f0d3"/><stop offset="0.7854" stop-color="#a1d89c"/><stop offset="0.8000" stop-color="#5caf62"/><stop offset="0.8187" stop-color="#1f7b39"/><stop offset="0.8292" stop-color="#11662d"/><stop offset="0.8479" stop-color="#044f21"/><stop offset="0.8771" stop-color="#00441b"/><stop offset="1.0000" stop-color="#00441b"/></linearGradient><linearGradient id="gC2018" gradientUnits="userSpaceOnUse" x1="1148.70" y1="0" x2="1426.00" y2="0"><stop offset="0.0000" stop-color="#00441b"/><stop offset="0.0667" stop-color="#034d20"/><stop offset="0.1458" stop-color="#00441b"/><stop offset="0.2000" stop-color="#034b1f"/><stop offset="0.2479" stop-color="#0f612b"/><stop offset="0.2917" stop-color="#207b3a"/><stop offset="0.3187" stop-color="#247e3c"/><stop offset="0.3458" stop-color="#257f3c"/><stop offset="0.3750" stop-color="#3a904a"/><stop offset="0.3979" stop-color="#5aae61"/><stop offset="0.4208" stop-color="#97d293"/><stop offset="0.4354" stop-color="#bee5b7"/><stop offset="0.4479" stop-color="#def1d9"/><stop offset="0.4604" stop-color="#f6f7f5"/><stop offset="0.4833" stop-color="#e1cce4"/><stop offset="0.5021" stop-color="#cfb5d8"/><stop offset="0.5271" stop-color="#bfa1cc"/><stop offset="0.5458" stop-color="#a580b6"/><stop offset="0.5625" stop-color="#8b539a"/><stop offset="0.5792" stop-color="#752981"/><stop offset="0.5979" stop-color="#5e186a"/><stop offset="0.6167" stop-color="#591465"/><stop offset="0.6333" stop-color="#661e73"/><stop offset="0.6438" stop-color="#772b84"/><stop offset="0.6667" stop-color="#9160a2"/><stop offset="0.6813" stop-color="#9c74ae"/><stop offset="0.7125" stop-color="#af8dbf"/><stop offset="0.7292" stop-color="#c7abd2"/><stop offset="0.7479" stop-color="#ebdceb"/><stop offset="0.7583" stop-color="#f7f6f7"/><stop offset="0.7729" stop-color="#d2edcc"/><stop offset="0.7854" stop-color="#a0d79b"/><stop offset="0.8000" stop-color="#57ab5e"/><stop offset="0.8167" stop-color="#1f7b39"/><stop offset="0.8271" stop-color="#12672e"/><stop offset="0.8479" stop-color="#055021"/><stop offset="0.8771" stop-color="#00441b"/><stop offset="1.0000" stop-color="#00441b"/></linearGradient><linearGradient id="gC2017" gradientUnits="userSpaceOnUse" x1="1148.70" y1="0" x2="1426.00" y2="0"><stop offset="0.0000" stop-color="#00441b"/><stop offset="0.0729" stop-color="#034d20"/><stop offset="0.1562" stop-color="#00441b"/><stop offset="0.2396" stop-color="#044f21"/><stop offset="0.3500" stop-color="#187234"/><stop offset="0.3667" stop-color="#207b3a"/><stop offset="0.4000" stop-color="#429850"/><stop offset="0.4208" stop-color="#62b267"/><stop offset="0.4437" stop-color="#97d293"/><stop offset="0.4583" stop-color="#bae3b4"/><stop offset="0.4750" stop-color="#def1d8"/><stop offset="0.4938" stop-color="#f7f6f7"/><stop offset="0.5167" stop-color="#e4d0e6"/><stop offset="0.5583" stop-color="#a17ab2"/><stop offset="0.5938" stop-color="#793187"/><stop offset="0.6042" stop-color="#6f257c"/><stop offset="0.6354" stop-color="#5e186a"/><stop offset="0.7042" stop-color="#440350"/><stop offset="0.7188" stop-color="#4d0a59"/><stop offset="0.7292" stop-color="#621b6e"/><stop offset="0.7354" stop-color="#752982"/><stop offset="0.7521" stop-color="#a27bb3"/><stop offset="0.7646" stop-color="#d0b6d8"/><stop offset="0.7708" stop-color="#e7d4e8"/><stop offset="0.7792" stop-color="#f5f2f5"/><stop offset="0.7812" stop-color="#f5f7f5"/><stop offset="0.7917" stop-color="#d7efd1"/><stop offset="0.8042" stop-color="#9fd79a"/><stop offset="0.8167" stop-color="#5db064"/><stop offset="0.8333" stop-color="#28823e"/><stop offset="0.8396" stop-color="#197535"/><stop offset="0.8583" stop-color="#0b5b27"/><stop offset="0.8875" stop-color="#024a1e"/><stop offset="0.9333" stop-color="#00441b"/><stop offset="1.0000" stop-color="#00441b"/></linearGradient><linearGradient id="gC2016" gradientUnits="userSpaceOnUse" x1="1148.70" y1="0" x2="1426.00" y2="0"><stop offset="0.0000" stop-color="#00441b"/><stop offset="0.0771" stop-color="#034d20"/><stop offset="0.1583" stop-color="#00441b"/><stop offset="0.2729" stop-color="#055122"/><stop offset="0.3312" stop-color="#12672e"/><stop offset="0.3583" stop-color="#1e7a39"/><stop offset="0.3979" stop-color="#4ea258"/><stop offset="0.4125" stop-color="#66b56b"/><stop offset="0.4417" stop-color="#a9dca3"/><stop offset="0.4792" stop-color="#daf0d4"/><stop offset="0.5125" stop-color="#f6f5f6"/><stop offset="0.5375" stop-color="#e3cfe5"/><stop offset="0.5583" stop-color="#b898c6"/><stop offset="0.5792" stop-color="#905ea0"/><stop offset="0.6000" stop-color="#752982"/><stop offset="0.6188" stop-color="#611b6e"/><stop offset="0.6396" stop-color="#5e186a"/><stop offset="0.6687" stop-color="#732880"/><stop offset="0.6979" stop-color="#803e8e"/><stop offset="0.7229" stop-color="#874c96"/><stop offset="0.7375" stop-color="#9465a4"/><stop offset="0.7500" stop-color="#ab87bb"/><stop offset="0.7708" stop-color="#e8d6e9"/><stop offset="0.7812" stop-color="#f6f7f5"/><stop offset="0.7917" stop-color="#d8f0d2"/><stop offset="0.8042" stop-color="#a1d89c"/><stop offset="0.8167" stop-color="#60b165"/><stop offset="0.8313" stop-color="#308843"/><stop offset="0.8396" stop-color="#1a7636"/><stop offset="0.8604" stop-color="#095826"/><stop offset="0.8854" stop-color="#02491e"/><stop offset="0.9250" stop-color="#00441b"/><stop offset="1.0000" stop-color="#00441b"/></linearGradient><linearGradient id="gC2015" gradientUnits="userSpaceOnUse" x1="1148.70" y1="0" x2="1426.00" y2="0"><stop offset="0.0000" stop-color="#00441b"/><stop offset="0.0896" stop-color="#024a1e"/><stop offset="0.1625" stop-color="#00441b"/><stop offset="0.2500" stop-color="#034b1f"/><stop offset="0.3271" stop-color="#0b5b27"/><stop offset="0.3625" stop-color="#177133"/><stop offset="0.3729" stop-color="#207c3a"/><stop offset="0.4042" stop-color="#54a95d"/><stop offset="0.4333" stop-color="#93cf8f"/><stop offset="0.4521" stop-color="#a8dca2"/><stop offset="0.4771" stop-color="#bee5b7"/><stop offset="0.5000" stop-color="#e5f3e1"/><stop offset="0.5125" stop-color="#f6f7f6"/><stop offset="0.5333" stop-color="#e4d0e6"/><stop offset="0.5542" stop-color="#b695c4"/><stop offset="0.5708" stop-color="#976ca8"/><stop offset="0.5875" stop-color="#874d96"/><stop offset="0.6083" stop-color="#7e3c8c"/><stop offset="0.6312" stop-color="#7e3b8c"/><stop offset="0.6604" stop-color="#803f8e"/><stop offset="0.6750" stop-color="#7a3287"/><stop offset="0.7083" stop-color="#4d0958"/><stop offset="0.7208" stop-color="#480654"/><stop offset="0.7312" stop-color="#53105f"/><stop offset="0.7417" stop-color="#6d2379"/><stop offset="0.7458" stop-color="#793086"/><stop offset="0.7604" stop-color="#a079b1"/><stop offset="0.7750" stop-color="#d4bbdb"/><stop offset="0.7812" stop-color="#e8d6e9"/><stop offset="0.7917" stop-color="#f6f7f6"/><stop offset="0.8021" stop-color="#d9f0d3"/><stop offset="0.8125" stop-color="#a8dca2"/><stop offset="0.8250" stop-color="#5baf62"/><stop offset="0.8396" stop-color="#237e3b"/><stop offset="0.8438" stop-color="#197334"/><stop offset="0.8604" stop-color="#095826"/><stop offset="0.8833" stop-color="#02491d"/><stop offset="0.9271" stop-color="#00441b"/><stop offset="1.0000" stop-color="#00441b"/></linearGradient><linearGradient id="gC2014" gradientUnits="userSpaceOnUse" x1="1148.70" y1="0" x2="1426.00" y2="0"><stop offset="0.0000" stop-color="#00441b"/><stop offset="0.2313" stop-color="#01471d"/><stop offset="0.2792" stop-color="#055022"/><stop offset="0.3104" stop-color="#10642c"/><stop offset="0.3333" stop-color="#207b3a"/><stop offset="0.3646" stop-color="#41974f"/><stop offset="0.4104" stop-color="#5fb165"/><stop offset="0.4375" stop-color="#88c986"/><stop offset="0.4604" stop-color="#abdda5"/><stop offset="0.5000" stop-color="#d5eecf"/><stop offset="0.5250" stop-color="#f0f5ee"/><stop offset="0.5312" stop-color="#f6f4f6"/><stop offset="0.5458" stop-color="#e5d1e7"/><stop offset="0.5625" stop-color="#b493c3"/><stop offset="0.5750" stop-color="#9568a6"/><stop offset="0.5854" stop-color="#864a94"/><stop offset="0.5979" stop-color="#7c378a"/><stop offset="0.6125" stop-color="#7b3488"/><stop offset="0.6354" stop-color="#844793"/><stop offset="0.6542" stop-color="#8b549a"/><stop offset="0.6708" stop-color="#895098"/><stop offset="0.6896" stop-color="#7a3388"/><stop offset="0.7000" stop-color="#6e247b"/><stop offset="0.7167" stop-color="#611a6d"/><stop offset="0.7292" stop-color="#651e72"/><stop offset="0.7396" stop-color="#762a83"/><stop offset="0.7521" stop-color="#8e5b9e"/><stop offset="0.7646" stop-color="#b594c3"/><stop offset="0.7792" stop-color="#e7d5e8"/><stop offset="0.7896" stop-color="#f7f7f7"/><stop offset="0.8021" stop-color="#d4eecd"/><stop offset="0.8146" stop-color="#9cd598"/><stop offset="0.8271" stop-color="#5aae61"/><stop offset="0.8417" stop-color="#2a833f"/><stop offset="0.8479" stop-color="#197535"/><stop offset="0.8667" stop-color="#095826"/><stop offset="0.8938" stop-color="#02481d"/><stop offset="0.9458" stop-color="#00441b"/><stop offset="1.0000" stop-color="#00441b"/></linearGradient><linearGradient id="gC2013" gradientUnits="userSpaceOnUse" x1="1148.70" y1="0" x2="1426.00" y2="0"><stop offset="0.0000" stop-color="#00441b"/><stop offset="0.0500" stop-color="#034b1f"/><stop offset="0.0833" stop-color="#0b5b27"/><stop offset="0.1396" stop-color="#00441b"/><stop offset="0.2167" stop-color="#02491e"/><stop offset="0.3354" stop-color="#13692f"/><stop offset="0.3563" stop-color="#1c7837"/><stop offset="0.3979" stop-color="#60b165"/><stop offset="0.4271" stop-color="#99d395"/><stop offset="0.4458" stop-color="#b1e0ab"/><stop offset="0.4979" stop-color="#ddf1d8"/><stop offset="0.5271" stop-color="#f4f6f3"/><stop offset="0.5333" stop-color="#f5f2f5"/><stop offset="0.5542" stop-color="#e5d1e6"/><stop offset="0.5771" stop-color="#c4a7d0"/><stop offset="0.6000" stop-color="#af8dbf"/><stop offset="0.6625" stop-color="#9263a3"/><stop offset="0.7083" stop-color="#7b3588"/><stop offset="0.7229" stop-color="#7a3387"/><stop offset="0.7375" stop-color="#81418f"/><stop offset="0.7521" stop-color="#9160a1"/><stop offset="0.7667" stop-color="#ad89bc"/><stop offset="0.7875" stop-color="#e5d1e7"/><stop offset="0.8000" stop-color="#f7f7f7"/><stop offset="0.8125" stop-color="#d3eecd"/><stop offset="0.8229" stop-color="#a6dba0"/><stop offset="0.8354" stop-color="#63b368"/><stop offset="0.8438" stop-color="#459a51"/><stop offset="0.8583" stop-color="#1b7837"/><stop offset="0.8771" stop-color="#0c5c28"/><stop offset="0.9062" stop-color="#02481d"/><stop offset="0.9688" stop-color="#00441b"/><stop offset="1.0000" stop-color="#00441b"/></linearGradient><linearGradient id="gC2012" gradientUnits="userSpaceOnUse" x1="1148.70" y1="0" x2="1426.00" y2="0"><stop offset="0.0000" stop-color="#00441b"/><stop offset="0.0396" stop-color="#034d20"/><stop offset="0.0771" stop-color="#197435"/><stop offset="0.0938" stop-color="#1a7536"/><stop offset="0.1167" stop-color="#0e602a"/><stop offset="0.1396" stop-color="#01481d"/><stop offset="0.1708" stop-color="#00441b"/><stop offset="0.2625" stop-color="#044f21"/><stop offset="0.3271" stop-color="#12682e"/><stop offset="0.3458" stop-color="#1c7938"/><stop offset="0.3854" stop-color="#52a65b"/><stop offset="0.4083" stop-color="#68b66c"/><stop offset="0.4583" stop-color="#74bd75"/><stop offset="0.4750" stop-color="#87c885"/><stop offset="0.5000" stop-color="#bbe4b4"/><stop offset="0.5167" stop-color="#e2f2de"/><stop offset="0.5271" stop-color="#f7f7f7"/><stop offset="0.5437" stop-color="#e3cfe5"/><stop offset="0.5604" stop-color="#c1a3ce"/><stop offset="0.5771" stop-color="#ac88bc"/><stop offset="0.6125" stop-color="#986eaa"/><stop offset="0.6625" stop-color="#895098"/><stop offset="0.6854" stop-color="#7f3d8d"/><stop offset="0.7021" stop-color="#6e247b"/><stop offset="0.7208" stop-color="#5c1668"/><stop offset="0.7354" stop-color="#5d1769"/><stop offset="0.7479" stop-color="#6e247b"/><stop offset="0.7542" stop-color="#7b3488"/><stop offset="0.7688" stop-color="#9d76af"/><stop offset="0.7833" stop-color="#d0b7d9"/><stop offset="0.7896" stop-color="#e6d3e7"/><stop offset="0.8000" stop-color="#f6f5f6"/><stop offset="0.8125" stop-color="#d6efd0"/><stop offset="0.8250" stop-color="#a0d79b"/><stop offset="0.8375" stop-color="#59ad60"/><stop offset="0.8521" stop-color="#207b39"/><stop offset="0.8604" stop-color="#12682e"/><stop offset="0.8771" stop-color="#065222"/><stop offset="0.9083" stop-color="#00441b"/><stop offset="1.0000" stop-color="#00441b"/></linearGradient><linearGradient id="gC2011" gradientUnits="userSpaceOnUse" x1="1148.70" y1="0" x2="1426.00" y2="0"><stop offset="0.0000" stop-color="#00441b"/><stop offset="0.0771" stop-color="#054f21"/><stop offset="0.1083" stop-color="#075423"/><stop offset="0.1583" stop-color="#00441b"/><stop offset="0.2542" stop-color="#044f21"/><stop offset="0.3104" stop-color="#0d5f29"/><stop offset="0.3521" stop-color="#1e7a39"/><stop offset="0.4167" stop-color="#5eb064"/><stop offset="0.4625" stop-color="#a8dca2"/><stop offset="0.4979" stop-color="#ceebc8"/><stop offset="0.5333" stop-color="#f7f6f7"/><stop offset="0.5563" stop-color="#e3cee5"/><stop offset="0.5813" stop-color="#b290c1"/><stop offset="0.6000" stop-color="#966aa7"/><stop offset="0.6208" stop-color="#874d96"/><stop offset="0.6708" stop-color="#742880"/><stop offset="0.7063" stop-color="#510e5d"/><stop offset="0.7229" stop-color="#4f0c5b"/><stop offset="0.7375" stop-color="#5c1668"/><stop offset="0.7500" stop-color="#772d84"/><stop offset="0.7688" stop-color="#a37db4"/><stop offset="0.7854" stop-color="#d9c2df"/><stop offset="0.7896" stop-color="#e7d4e8"/><stop offset="0.8000" stop-color="#f7f6f7"/><stop offset="0.8125" stop-color="#d2edcc"/><stop offset="0.8229" stop-color="#a6dba0"/><stop offset="0.8354" stop-color="#63b368"/><stop offset="0.8438" stop-color="#459a51"/><stop offset="0.8583" stop-color="#1b7837"/><stop offset="0.8771" stop-color="#0c5d28"/><stop offset="0.9083" stop-color="#024a1e"/><stop offset="0.9833" stop-color="#00441b"/><stop offset="1.0000" stop-color="#00441b"/></linearGradient><linearGradient id="gC2010" gradientUnits="userSpaceOnUse" x1="1148.70" y1="0" x2="1426.00" y2="0"><stop offset="0.0000" stop-color="#00441b"/><stop offset="0.1187" stop-color="#055122"/><stop offset="0.1562" stop-color="#00441b"/><stop offset="0.2604" stop-color="#044f21"/><stop offset="0.3354" stop-color="#1d7938"/><stop offset="0.3896" stop-color="#52a65b"/><stop offset="0.4188" stop-color="#72bb74"/><stop offset="0.4688" stop-color="#8ccb89"/><stop offset="0.4854" stop-color="#a1d89c"/><stop offset="0.5021" stop-color="#c0e6ba"/><stop offset="0.5167" stop-color="#e2f2de"/><stop offset="0.5271" stop-color="#f5f7f5"/><stop offset="0.5354" stop-color="#f0e6f0"/><stop offset="0.5437" stop-color="#e5d2e7"/><stop offset="0.5604" stop-color="#b797c6"/><stop offset="0.5750" stop-color="#9364a4"/><stop offset="0.5854" stop-color="#854893"/><stop offset="0.5979" stop-color="#7d388a"/><stop offset="0.6104" stop-color="#7e3b8c"/><stop offset="0.6312" stop-color="#8f5d9f"/><stop offset="0.6458" stop-color="#9c74ae"/><stop offset="0.6646" stop-color="#a580b6"/><stop offset="0.6875" stop-color="#a07ab2"/><stop offset="0.7250" stop-color="#8f5c9f"/><stop offset="0.7396" stop-color="#8f5c9f"/><stop offset="0.7521" stop-color="#976ba8"/><stop offset="0.7667" stop-color="#af8cbe"/><stop offset="0.7896" stop-color="#e8d7e9"/><stop offset="0.8000" stop-color="#f6f5f6"/><stop offset="0.8125" stop-color="#daf0d4"/><stop offset="0.8271" stop-color="#a5da9f"/><stop offset="0.8438" stop-color="#5aae61"/><stop offset="0.8625" stop-color="#28813e"/><stop offset="0.8688" stop-color="#1a7636"/><stop offset="0.8938" stop-color="#085725"/><stop offset="0.9187" stop-color="#02491e"/><stop offset="0.9979" stop-color="#00441b"/><stop offset="1.0000" stop-color="#00441b"/></linearGradient><linearGradient id="legC" x1="0" y1="1" x2="0" y2="0"><stop offset="0.000" stop-color="#00441b"/><stop offset="0.025" stop-color="#055122"/><stop offset="0.050" stop-color="#0c5d29"/><stop offset="0.075" stop-color="#146b30"/><stop offset="0.100" stop-color="#1b7837"/><stop offset="0.125" stop-color="#2d8541"/><stop offset="0.150" stop-color="#3d934c"/><stop offset="0.175" stop-color="#4ba056"/><stop offset="0.200" stop-color="#5aae61"/><stop offset="0.225" stop-color="#6eb970"/><stop offset="0.250" stop-color="#81c480"/><stop offset="0.275" stop-color="#94d090"/><stop offset="0.300" stop-color="#a6dba0"/><stop offset="0.325" stop-color="#b3e0ad"/><stop offset="0.350" stop-color="#c0e6b9"/><stop offset="0.375" stop-color="#ccebc6"/><stop offset="0.400" stop-color="#d9f0d3"/><stop offset="0.425" stop-color="#e1f2dc"/><stop offset="0.450" stop-color="#e8f4e5"/><stop offset="0.475" stop-color="#f0f5ee"/><stop offset="0.500" stop-color="#f7f7f7"/><stop offset="0.525" stop-color="#f3eef3"/><stop offset="0.550" stop-color="#efe5f0"/><stop offset="0.575" stop-color="#ebddec"/><stop offset="0.600" stop-color="#e7d4e8"/><stop offset="0.625" stop-color="#dec8e2"/><stop offset="0.650" stop-color="#d4bcdb"/><stop offset="0.675" stop-color="#cbb1d5"/><stop offset="0.700" stop-color="#c2a5cf"/><stop offset="0.725" stop-color="#b898c6"/><stop offset="0.750" stop-color="#ad8abd"/><stop offset="0.775" stop-color="#a37db4"/><stop offset="0.800" stop-color="#9970ab"/><stop offset="0.825" stop-color="#915fa1"/><stop offset="0.850" stop-color="#884e97"/><stop offset="0.875" stop-color="#7f3d8d"/><stop offset="0.900" stop-color="#762a83"/><stop offset="0.925" stop-color="#682075"/><stop offset="0.950" stop-color="#5a1566"/><stop offset="0.975" stop-color="#4d0a58"/><stop offset="1.000" stop-color="#40004b"/></linearGradient><clipPath id="clipD"><rect x="89.80" y="614.20" width="350.20" height="481.60"/></clipPath><linearGradient id="gD2020" gradientUnits="userSpaceOnUse" x1="105.00" y1="0" x2="424.10" y2="0"><stop offset="0.0000" stop-color="#313795"/><stop offset="0.0667" stop-color="#333a97"/><stop offset="0.2188" stop-color="#323996"/><stop offset="0.2687" stop-color="#3b4ea1"/><stop offset="0.3104" stop-color="#4573b3"/><stop offset="0.3500" stop-color="#6ca3cc"/><stop offset="0.3646" stop-color="#84b9d8"/><stop offset="0.3875" stop-color="#b3ddeb"/><stop offset="0.4083" stop-color="#e1f3f7"/><stop offset="0.4292" stop-color="#ffffbf"/><stop offset="0.4521" stop-color="#fedb8b"/><stop offset="0.4729" stop-color="#fca45c"/><stop offset="0.4917" stop-color="#f26941"/><stop offset="0.5208" stop-color="#d83328"/><stop offset="0.5479" stop-color="#b61527"/><stop offset="0.5604" stop-color="#b41327"/><stop offset="0.5729" stop-color="#c32127"/><stop offset="0.5813" stop-color="#d62f27"/><stop offset="0.6021" stop-color="#f67647"/><stop offset="0.6188" stop-color="#fdae61"/><stop offset="0.6396" stop-color="#fed989"/><stop offset="0.6542" stop-color="#ffe79b"/><stop offset="0.7021" stop-color="#fffcba"/><stop offset="0.7104" stop-color="#fbfdc7"/><stop offset="0.7292" stop-color="#e2f4f5"/><stop offset="0.7333" stop-color="#d8eff6"/><stop offset="0.7521" stop-color="#a2d1e5"/><stop offset="0.7708" stop-color="#6fa7ce"/><stop offset="0.7937" stop-color="#4575b4"/><stop offset="0.8167" stop-color="#3b4ea1"/><stop offset="0.8375" stop-color="#343d98"/><stop offset="0.8958" stop-color="#313795"/><stop offset="1.0000" stop-color="#313695"/></linearGradient><linearGradient id="gD2019" gradientUnits="userSpaceOnUse" x1="105.00" y1="0" x2="424.10" y2="0"><stop offset="0.0000" stop-color="#313795"/><stop offset="0.0896" stop-color="#323996"/><stop offset="0.2125" stop-color="#333a97"/><stop offset="0.2667" stop-color="#3b4fa1"/><stop offset="0.3187" stop-color="#4878b6"/><stop offset="0.3438" stop-color="#6296c5"/><stop offset="0.3604" stop-color="#7db4d5"/><stop offset="0.3812" stop-color="#b1dceb"/><stop offset="0.4000" stop-color="#e1f3f7"/><stop offset="0.4208" stop-color="#fdfec3"/><stop offset="0.4562" stop-color="#fee394"/><stop offset="0.4792" stop-color="#febb6d"/><stop offset="0.4938" stop-color="#fb9e59"/><stop offset="0.5229" stop-color="#f16740"/><stop offset="0.5479" stop-color="#d52f27"/><stop offset="0.5625" stop-color="#c22027"/><stop offset="0.5750" stop-color="#c12027"/><stop offset="0.5896" stop-color="#d32d27"/><stop offset="0.6000" stop-color="#e34c32"/><stop offset="0.6125" stop-color="#f57546"/><stop offset="0.6292" stop-color="#feb769"/><stop offset="0.6438" stop-color="#fee292"/><stop offset="0.6604" stop-color="#fff6b2"/><stop offset="0.6771" stop-color="#feffc1"/><stop offset="0.7167" stop-color="#eff8e0"/><stop offset="0.7354" stop-color="#ddf2f7"/><stop offset="0.7604" stop-color="#a4d3e6"/><stop offset="0.7833" stop-color="#6ca3cc"/><stop offset="0.8042" stop-color="#4573b3"/><stop offset="0.8229" stop-color="#3b4fa1"/><stop offset="0.8417" stop-color="#353f99"/><stop offset="0.8833" stop-color="#313695"/><stop offset="1.0000" stop-color="#313695"/></linearGradient><linearGradient id="gD2018" gradientUnits="userSpaceOnUse" x1="105.00" y1="0" x2="424.10" y2="0"><stop offset="0.0000" stop-color="#313695"/><stop offset="0.0875" stop-color="#323996"/><stop offset="0.2188" stop-color="#333a97"/><stop offset="0.2604" stop-color="#39499f"/><stop offset="0.3104" stop-color="#436cb0"/><stop offset="0.3312" stop-color="#4979b6"/><stop offset="0.3542" stop-color="#5d90c2"/><stop offset="0.3729" stop-color="#7bb2d4"/><stop offset="0.4000" stop-color="#b5deec"/><stop offset="0.4167" stop-color="#dff3f8"/><stop offset="0.4354" stop-color="#fffebe"/><stop offset="0.4562" stop-color="#fed98a"/><stop offset="0.4729" stop-color="#fca25b"/><stop offset="0.4875" stop-color="#f26a41"/><stop offset="0.5000" stop-color="#e55034"/><stop offset="0.5188" stop-color="#de422e"/><stop offset="0.5687" stop-color="#d42e27"/><stop offset="0.5813" stop-color="#d83228"/><stop offset="0.6000" stop-color="#e65335"/><stop offset="0.6125" stop-color="#f57245"/><stop offset="0.6312" stop-color="#feb467"/><stop offset="0.6479" stop-color="#fede8e"/><stop offset="0.6667" stop-color="#ffefa7"/><stop offset="0.6937" stop-color="#fff6b2"/><stop offset="0.7146" stop-color="#fffbb9"/><stop offset="0.7229" stop-color="#fdfec4"/><stop offset="0.7375" stop-color="#e9f6ea"/><stop offset="0.7417" stop-color="#e0f3f7"/><stop offset="0.7604" stop-color="#a4d3e6"/><stop offset="0.7792" stop-color="#6da3cc"/><stop offset="0.7979" stop-color="#4575b4"/><stop offset="0.8146" stop-color="#3d54a4"/><stop offset="0.8333" stop-color="#36419a"/><stop offset="0.8750" stop-color="#313695"/><stop offset="1.0000" stop-color="#313695"/></linearGradient><linearGradient id="gD2017" gradientUnits="userSpaceOnUse" x1="105.00" y1="0" x2="424.10" y2="0"><stop offset="0.0000" stop-color="#313695"/><stop offset="0.1562" stop-color="#323796"/><stop offset="0.2292" stop-color="#333a97"/><stop offset="0.2687" stop-color="#3a4b9f"/><stop offset="0.3271" stop-color="#4979b6"/><stop offset="0.3521" stop-color="#6397c6"/><stop offset="0.3688" stop-color="#7eb5d5"/><stop offset="0.3937" stop-color="#b3ddeb"/><stop offset="0.4167" stop-color="#e1f3f6"/><stop offset="0.4437" stop-color="#ffffbf"/><stop offset="0.4708" stop-color="#fedb8b"/><stop offset="0.4917" stop-color="#fdaa5f"/><stop offset="0.5083" stop-color="#f8884e"/><stop offset="0.5271" stop-color="#f16740"/><stop offset="0.5437" stop-color="#dd3f2c"/><stop offset="0.5500" stop-color="#d32d27"/><stop offset="0.5646" stop-color="#b71727"/><stop offset="0.5750" stop-color="#b41327"/><stop offset="0.5896" stop-color="#c32127"/><stop offset="0.6000" stop-color="#d63027"/><stop offset="0.6229" stop-color="#f57446"/><stop offset="0.6417" stop-color="#fdb466"/><stop offset="0.6562" stop-color="#ffd283"/><stop offset="0.6687" stop-color="#fede8e"/><stop offset="0.7083" stop-color="#fee090"/><stop offset="0.7229" stop-color="#ffeba0"/><stop offset="0.7375" stop-color="#feffc1"/><stop offset="0.7521" stop-color="#e2f4f5"/><stop offset="0.7583" stop-color="#cde9f3"/><stop offset="0.7708" stop-color="#a3d2e5"/><stop offset="0.7875" stop-color="#70a8ce"/><stop offset="0.8083" stop-color="#4575b4"/><stop offset="0.8271" stop-color="#3c52a3"/><stop offset="0.8479" stop-color="#353f9a"/><stop offset="0.8833" stop-color="#313795"/><stop offset="1.0000" stop-color="#313695"/></linearGradient><linearGradient id="gD2016" gradientUnits="userSpaceOnUse" x1="105.00" y1="0" x2="424.10" y2="0"><stop offset="0.0000" stop-color="#313695"/><stop offset="0.1583" stop-color="#323796"/><stop offset="0.2375" stop-color="#343d98"/><stop offset="0.2896" stop-color="#3c50a2"/><stop offset="0.3250" stop-color="#4470b1"/><stop offset="0.3458" stop-color="#5485bd"/><stop offset="0.3708" stop-color="#71a9cf"/><stop offset="0.4021" stop-color="#b3ddeb"/><stop offset="0.4229" stop-color="#dff3f8"/><stop offset="0.4562" stop-color="#fffebe"/><stop offset="0.4792" stop-color="#fedc8c"/><stop offset="0.5000" stop-color="#feb86a"/><stop offset="0.5229" stop-color="#fa9655"/><stop offset="0.5458" stop-color="#ef633e"/><stop offset="0.5667" stop-color="#e14730"/><stop offset="0.5813" stop-color="#e0452f"/><stop offset="0.6021" stop-color="#eb5b3a"/><stop offset="0.6167" stop-color="#f57546"/><stop offset="0.6438" stop-color="#fdb466"/><stop offset="0.6667" stop-color="#fed585"/><stop offset="0.6875" stop-color="#fee293"/><stop offset="0.7167" stop-color="#ffeba0"/><stop offset="0.7312" stop-color="#fff9b6"/><stop offset="0.7354" stop-color="#feffc0"/><stop offset="0.7500" stop-color="#e3f4f3"/><stop offset="0.7521" stop-color="#ddf2f7"/><stop offset="0.7708" stop-color="#a0d0e4"/><stop offset="0.7917" stop-color="#6ca2cc"/><stop offset="0.8104" stop-color="#4574b4"/><stop offset="0.8271" stop-color="#3d55a4"/><stop offset="0.8521" stop-color="#36419a"/><stop offset="0.8917" stop-color="#323996"/><stop offset="1.0000" stop-color="#313695"/></linearGradient><linearGradient id="gD2015" gradientUnits="userSpaceOnUse" x1="105.00" y1="0" x2="424.10" y2="0"><stop offset="0.0000" stop-color="#313695"/><stop offset="0.1646" stop-color="#313796"/><stop offset="0.2396" stop-color="#343d99"/><stop offset="0.2958" stop-color="#3d54a4"/><stop offset="0.3438" stop-color="#4573b3"/><stop offset="0.3708" stop-color="#5e90c2"/><stop offset="0.3875" stop-color="#79b1d3"/><stop offset="0.4104" stop-color="#b4ddeb"/><stop offset="0.4250" stop-color="#def2f7"/><stop offset="0.4396" stop-color="#f6fbd2"/><stop offset="0.4521" stop-color="#fffdbc"/><stop offset="0.4750" stop-color="#fee496"/><stop offset="0.4875" stop-color="#fec778"/><stop offset="0.5000" stop-color="#fca35c"/><stop offset="0.5229" stop-color="#f16840"/><stop offset="0.5479" stop-color="#dc3d2c"/><stop offset="0.5604" stop-color="#da382a"/><stop offset="0.5896" stop-color="#e95738"/><stop offset="0.6125" stop-color="#f67847"/><stop offset="0.6375" stop-color="#fdb164"/><stop offset="0.6542" stop-color="#ffcb7c"/><stop offset="0.6708" stop-color="#fed384"/><stop offset="0.7104" stop-color="#ffca7b"/><stop offset="0.7250" stop-color="#fed787"/><stop offset="0.7396" stop-color="#ffeda4"/><stop offset="0.7500" stop-color="#fefec2"/><stop offset="0.7625" stop-color="#e3f4f4"/><stop offset="0.7646" stop-color="#dcf1f7"/><stop offset="0.7812" stop-color="#a3d2e5"/><stop offset="0.8000" stop-color="#689ec9"/><stop offset="0.8146" stop-color="#4574b3"/><stop offset="0.8292" stop-color="#3d53a4"/><stop offset="0.8479" stop-color="#36419b"/><stop offset="0.8812" stop-color="#323896"/><stop offset="1.0000" stop-color="#313695"/></linearGradient><linearGradient id="gD2014" gradientUnits="userSpaceOnUse" x1="105.00" y1="0" x2="424.10" y2="0"><stop offset="0.0000" stop-color="#313695"/><stop offset="0.1646" stop-color="#323796"/><stop offset="0.2458" stop-color="#343d99"/><stop offset="0.3000" stop-color="#3c52a3"/><stop offset="0.3375" stop-color="#446fb1"/><stop offset="0.3500" stop-color="#4d7db8"/><stop offset="0.3750" stop-color="#6da4cc"/><stop offset="0.4000" stop-color="#a1d1e5"/><stop offset="0.4146" stop-color="#c4e5f0"/><stop offset="0.4292" stop-color="#e1f3f7"/><stop offset="0.4562" stop-color="#ffffbf"/><stop offset="0.4833" stop-color="#fedc8c"/><stop offset="0.5104" stop-color="#fdae61"/><stop offset="0.5250" stop-color="#f98f52"/><stop offset="0.5375" stop-color="#f16740"/><stop offset="0.5583" stop-color="#d73127"/><stop offset="0.5750" stop-color="#c72427"/><stop offset="0.5875" stop-color="#cb2727"/><stop offset="0.5979" stop-color="#d73127"/><stop offset="0.6250" stop-color="#f67747"/><stop offset="0.6438" stop-color="#fdb264"/><stop offset="0.6604" stop-color="#ffd282"/><stop offset="0.6750" stop-color="#fedb8b"/><stop offset="0.7125" stop-color="#fed384"/><stop offset="0.7271" stop-color="#fee192"/><stop offset="0.7438" stop-color="#fff9b5"/><stop offset="0.7479" stop-color="#feffc1"/><stop offset="0.7646" stop-color="#e0f3f8"/><stop offset="0.7833" stop-color="#a3d2e5"/><stop offset="0.8021" stop-color="#6ba2cb"/><stop offset="0.8208" stop-color="#4573b3"/><stop offset="0.8375" stop-color="#3e57a5"/><stop offset="0.8646" stop-color="#353f9a"/><stop offset="0.9208" stop-color="#323896"/><stop offset="1.0000" stop-color="#313695"/></linearGradient><linearGradient id="gD2013" gradientUnits="userSpaceOnUse" x1="105.00" y1="0" x2="424.10" y2="0"><stop offset="0.0000" stop-color="#313695"/><stop offset="0.0563" stop-color="#343e99"/><stop offset="0.0854" stop-color="#39499e"/><stop offset="0.1354" stop-color="#323896"/><stop offset="0.2354" stop-color="#333b97"/><stop offset="0.2750" stop-color="#394a9f"/><stop offset="0.3417" stop-color="#4572b3"/><stop offset="0.3625" stop-color="#5788be"/><stop offset="0.3833" stop-color="#79b0d3"/><stop offset="0.4062" stop-color="#aedbea"/><stop offset="0.4271" stop-color="#d1ecf4"/><stop offset="0.4375" stop-color="#dff3f8"/><stop offset="0.4583" stop-color="#f8fcce"/><stop offset="0.4646" stop-color="#ffffbf"/><stop offset="0.4875" stop-color="#fedb8b"/><stop offset="0.5083" stop-color="#fca75d"/><stop offset="0.5333" stop-color="#f16840"/><stop offset="0.5542" stop-color="#e44d33"/><stop offset="0.5687" stop-color="#e24a32"/><stop offset="0.5917" stop-color="#ef643e"/><stop offset="0.6229" stop-color="#f98d51"/><stop offset="0.6604" stop-color="#feb668"/><stop offset="0.7125" stop-color="#ffcc7d"/><stop offset="0.7354" stop-color="#ffe79a"/><stop offset="0.7562" stop-color="#feffc1"/><stop offset="0.7771" stop-color="#e0f3f8"/><stop offset="0.7979" stop-color="#a5d4e6"/><stop offset="0.8187" stop-color="#689dc9"/><stop offset="0.8354" stop-color="#4472b3"/><stop offset="0.8542" stop-color="#3c53a3"/><stop offset="0.8750" stop-color="#36429b"/><stop offset="0.9729" stop-color="#313695"/><stop offset="1.0000" stop-color="#313695"/></linearGradient><linearGradient id="gD2012" gradientUnits="userSpaceOnUse" x1="105.00" y1="0" x2="424.10" y2="0"><stop offset="0.0000" stop-color="#313695"/><stop offset="0.0396" stop-color="#353e99"/><stop offset="0.0563" stop-color="#3c53a3"/><stop offset="0.0771" stop-color="#4573b3"/><stop offset="0.0896" stop-color="#4878b6"/><stop offset="0.1042" stop-color="#436caf"/><stop offset="0.1313" stop-color="#37459c"/><stop offset="0.1562" stop-color="#333a97"/><stop offset="0.2292" stop-color="#333a97"/><stop offset="0.2854" stop-color="#394a9f"/><stop offset="0.3625" stop-color="#4878b6"/><stop offset="0.3854" stop-color="#5e91c3"/><stop offset="0.4021" stop-color="#79b0d3"/><stop offset="0.4250" stop-color="#b2dceb"/><stop offset="0.4437" stop-color="#e1f3f7"/><stop offset="0.4646" stop-color="#fffdbc"/><stop offset="0.4833" stop-color="#fede8e"/><stop offset="0.5021" stop-color="#fca75e"/><stop offset="0.5229" stop-color="#f0663f"/><stop offset="0.5458" stop-color="#d73127"/><stop offset="0.5625" stop-color="#c82527"/><stop offset="0.5771" stop-color="#ca2727"/><stop offset="0.5917" stop-color="#d93529"/><stop offset="0.6312" stop-color="#f67948"/><stop offset="0.6604" stop-color="#feb668"/><stop offset="0.6813" stop-color="#ffcd7e"/><stop offset="0.7188" stop-color="#fed686"/><stop offset="0.7333" stop-color="#ffe79a"/><stop offset="0.7479" stop-color="#ffffbf"/><stop offset="0.7625" stop-color="#e3f4f4"/><stop offset="0.7646" stop-color="#ddf2f7"/><stop offset="0.7833" stop-color="#a3d2e5"/><stop offset="0.8021" stop-color="#6ba1cb"/><stop offset="0.8187" stop-color="#4573b3"/><stop offset="0.8333" stop-color="#3e57a5"/><stop offset="0.8583" stop-color="#36419a"/><stop offset="0.8938" stop-color="#323996"/><stop offset="1.0000" stop-color="#313695"/></linearGradient><linearGradient id="gD2011" gradientUnits="userSpaceOnUse" x1="105.00" y1="0" x2="424.10" y2="0"><stop offset="0.0000" stop-color="#313695"/><stop offset="0.1125" stop-color="#353f99"/><stop offset="0.1938" stop-color="#323896"/><stop offset="0.2667" stop-color="#353f99"/><stop offset="0.3292" stop-color="#3e58a6"/><stop offset="0.3521" stop-color="#4471b2"/><stop offset="0.3729" stop-color="#5e91c3"/><stop offset="0.3979" stop-color="#82b8d7"/><stop offset="0.4271" stop-color="#b2dceb"/><stop offset="0.4521" stop-color="#def2f8"/><stop offset="0.4646" stop-color="#f2f9db"/><stop offset="0.4750" stop-color="#fffebd"/><stop offset="0.5021" stop-color="#fed889"/><stop offset="0.5292" stop-color="#fca85e"/><stop offset="0.5521" stop-color="#f57647"/><stop offset="0.5646" stop-color="#f16740"/><stop offset="0.5958" stop-color="#ee623d"/><stop offset="0.6208" stop-color="#f46c43"/><stop offset="0.6562" stop-color="#fb9f59"/><stop offset="0.6729" stop-color="#fca55d"/><stop offset="0.7083" stop-color="#fa9052"/><stop offset="0.7208" stop-color="#fb9957"/><stop offset="0.7333" stop-color="#fdb265"/><stop offset="0.7500" stop-color="#fedd8d"/><stop offset="0.7646" stop-color="#fffdbc"/><stop offset="0.7812" stop-color="#dff2f8"/><stop offset="0.8000" stop-color="#a4d4e6"/><stop offset="0.8187" stop-color="#6ca3cc"/><stop offset="0.8333" stop-color="#4c7cb8"/><stop offset="0.8396" stop-color="#4470b1"/><stop offset="0.8604" stop-color="#3b50a2"/><stop offset="0.8854" stop-color="#353f99"/><stop offset="0.9354" stop-color="#313795"/><stop offset="1.0000" stop-color="#313695"/></linearGradient><linearGradient id="gD2010" gradientUnits="userSpaceOnUse" x1="105.00" y1="0" x2="424.10" y2="0"><stop offset="0.0000" stop-color="#313695"/><stop offset="0.1354" stop-color="#343d98"/><stop offset="0.2229" stop-color="#323996"/><stop offset="0.3042" stop-color="#39489e"/><stop offset="0.3396" stop-color="#3f5da8"/><stop offset="0.3604" stop-color="#4777b5"/><stop offset="0.3958" stop-color="#7eb5d5"/><stop offset="0.4208" stop-color="#a6d5e7"/><stop offset="0.4604" stop-color="#d1ebf4"/><stop offset="0.4688" stop-color="#dff3f8"/><stop offset="0.4917" stop-color="#ffffc0"/><stop offset="0.5167" stop-color="#fedb8c"/><stop offset="0.5417" stop-color="#fca75e"/><stop offset="0.5687" stop-color="#f26941"/><stop offset="0.5938" stop-color="#e24931"/><stop offset="0.6062" stop-color="#e24931"/><stop offset="0.6208" stop-color="#ec5d3b"/><stop offset="0.6333" stop-color="#f77c49"/><stop offset="0.6479" stop-color="#fca25b"/><stop offset="0.6604" stop-color="#fdb365"/><stop offset="0.6771" stop-color="#feb567"/><stop offset="0.7146" stop-color="#fca25b"/><stop offset="0.7292" stop-color="#fdab5f"/><stop offset="0.7438" stop-color="#fec172"/><stop offset="0.7604" stop-color="#ffe79b"/><stop offset="0.7729" stop-color="#ffffc0"/><stop offset="0.7875" stop-color="#e1f3f6"/><stop offset="0.8042" stop-color="#a5d4e7"/><stop offset="0.8208" stop-color="#6ea5cd"/><stop offset="0.8354" stop-color="#4f7fb9"/><stop offset="0.8438" stop-color="#446fb1"/><stop offset="0.8646" stop-color="#3b4ea1"/><stop offset="0.8917" stop-color="#343d98"/><stop offset="0.9437" stop-color="#313795"/><stop offset="1.0000" stop-color="#313695"/></linearGradient><linearGradient id="legD" x1="0" y1="1" x2="0" y2="0"><stop offset="0.000" stop-color="#313695"/><stop offset="0.025" stop-color="#38469d"/><stop offset="0.050" stop-color="#3d55a5"/><stop offset="0.075" stop-color="#4265ac"/><stop offset="0.100" stop-color="#4575b4"/><stop offset="0.125" stop-color="#5283bb"/><stop offset="0.150" stop-color="#5e91c3"/><stop offset="0.175" stop-color="#699fca"/><stop offset="0.200" stop-color="#74add1"/><stop offset="0.225" stop-color="#82b8d7"/><stop offset="0.250" stop-color="#90c3dd"/><stop offset="0.275" stop-color="#9ecee3"/><stop offset="0.300" stop-color="#abd9e9"/><stop offset="0.325" stop-color="#b9dfed"/><stop offset="0.350" stop-color="#c6e6f0"/><stop offset="0.375" stop-color="#d3ecf4"/><stop offset="0.400" stop-color="#e0f3f8"/><stop offset="0.425" stop-color="#e9f6ea"/><stop offset="0.450" stop-color="#f1f9dc"/><stop offset="0.475" stop-color="#f8fcce"/><stop offset="0.500" stop-color="#ffffbf"/><stop offset="0.525" stop-color="#fff7b3"/><stop offset="0.550" stop-color="#ffefa7"/><stop offset="0.575" stop-color="#ffe89c"/><stop offset="0.600" stop-color="#fee090"/><stop offset="0.625" stop-color="#fed484"/><stop offset="0.650" stop-color="#fec778"/><stop offset="0.675" stop-color="#febb6d"/><stop offset="0.700" stop-color="#fdae61"/><stop offset="0.725" stop-color="#fb9f59"/><stop offset="0.750" stop-color="#f98f52"/><stop offset="0.775" stop-color="#f77e4a"/><stop offset="0.800" stop-color="#f46d43"/><stop offset="0.825" stop-color="#ed5f3c"/><stop offset="0.850" stop-color="#e65135"/><stop offset="0.875" stop-color="#de422e"/><stop offset="0.900" stop-color="#d73027"/><stop offset="0.925" stop-color="#ca2727"/><stop offset="0.950" stop-color="#be1d27"/><stop offset="0.975" stop-color="#b11027"/><stop offset="1.000" stop-color="#a50026"/></linearGradient><clipPath id="clipE"><rect x="631.70" y="614.20" width="321.60" height="483.30"/></clipPath><linearGradient id="gE2020" gradientUnits="userSpaceOnUse" x1="646.30" y1="0" x2="938.60" y2="0"><stop offset="0.0000" stop-color="#2d004b"/><stop offset="0.2208" stop-color="#30024f"/><stop offset="0.2625" stop-color="#3a0c5e"/><stop offset="0.3083" stop-color="#562a89"/><stop offset="0.3458" stop-color="#7b6aa8"/><stop offset="0.3729" stop-color="#a69dc9"/><stop offset="0.4062" stop-color="#e0e1ee"/><stop offset="0.4208" stop-color="#f7f7f6"/><stop offset="0.4437" stop-color="#ffdbab"/><stop offset="0.4646" stop-color="#fbb35d"/><stop offset="0.4854" stop-color="#df8114"/><stop offset="0.5167" stop-color="#b35806"/><stop offset="0.5437" stop-color="#944708"/><stop offset="0.5604" stop-color="#924508"/><stop offset="0.5708" stop-color="#9f4d07"/><stop offset="0.5792" stop-color="#b75b07"/><stop offset="0.5917" stop-color="#de8114"/><stop offset="0.6021" stop-color="#f4a74c"/><stop offset="0.6083" stop-color="#febc6b"/><stop offset="0.6229" stop-color="#fedfb5"/><stop offset="0.6396" stop-color="#f9f2e9"/><stop offset="0.6458" stop-color="#f6f6f7"/><stop offset="0.6750" stop-color="#dfe1ee"/><stop offset="0.6958" stop-color="#d2d3e7"/><stop offset="0.7292" stop-color="#ada5ce"/><stop offset="0.7562" stop-color="#7c6ba8"/><stop offset="0.7812" stop-color="#552989"/><stop offset="0.8104" stop-color="#3b0d60"/><stop offset="0.8354" stop-color="#310350"/><stop offset="0.9021" stop-color="#2d004b"/><stop offset="1.0000" stop-color="#2d004b"/></linearGradient><linearGradient id="gE2019" gradientUnits="userSpaceOnUse" x1="646.30" y1="0" x2="938.60" y2="0"><stop offset="0.0000" stop-color="#2d004b"/><stop offset="0.2208" stop-color="#30024f"/><stop offset="0.2687" stop-color="#3a0c5f"/><stop offset="0.3146" stop-color="#502382"/><stop offset="0.3271" stop-color="#5a318c"/><stop offset="0.3500" stop-color="#735ba0"/><stop offset="0.3667" stop-color="#8d82b6"/><stop offset="0.3917" stop-color="#c4c1de"/><stop offset="0.4042" stop-color="#dddeed"/><stop offset="0.4208" stop-color="#f6f6f7"/><stop offset="0.4562" stop-color="#ffd9a8"/><stop offset="0.4833" stop-color="#fbb55f"/><stop offset="0.5146" stop-color="#df8114"/><stop offset="0.5521" stop-color="#b05606"/><stop offset="0.5667" stop-color="#a95207"/><stop offset="0.5813" stop-color="#b55a07"/><stop offset="0.5958" stop-color="#d0730f"/><stop offset="0.6021" stop-color="#e08214"/><stop offset="0.6125" stop-color="#f4a64b"/><stop offset="0.6188" stop-color="#febc6b"/><stop offset="0.6333" stop-color="#fee2bc"/><stop offset="0.6479" stop-color="#f8f6f4"/><stop offset="0.6542" stop-color="#eff0f4"/><stop offset="0.6750" stop-color="#dddfed"/><stop offset="0.6979" stop-color="#d0d0e6"/><stop offset="0.7292" stop-color="#afa8d0"/><stop offset="0.7604" stop-color="#7d6da9"/><stop offset="0.7896" stop-color="#522686"/><stop offset="0.8146" stop-color="#3c0f62"/><stop offset="0.8396" stop-color="#320452"/><stop offset="0.9146" stop-color="#2e004c"/><stop offset="1.0000" stop-color="#2d004b"/></linearGradient><linearGradient id="gE2018" gradientUnits="userSpaceOnUse" x1="646.30" y1="0" x2="938.60" y2="0"><stop offset="0.0000" stop-color="#2d004b"/><stop offset="0.2208" stop-color="#30024f"/><stop offset="0.2667" stop-color="#390b5d"/><stop offset="0.3208" stop-color="#522585"/><stop offset="0.3458" stop-color="#674797"/><stop offset="0.3708" stop-color="#887cb2"/><stop offset="0.4000" stop-color="#bdb8d9"/><stop offset="0.4229" stop-color="#dfe1ee"/><stop offset="0.4375" stop-color="#f6f6f7"/><stop offset="0.4542" stop-color="#fee0b6"/><stop offset="0.4688" stop-color="#fdb863"/><stop offset="0.4833" stop-color="#e18316"/><stop offset="0.4958" stop-color="#c5690b"/><stop offset="0.5104" stop-color="#b85d07"/><stop offset="0.5500" stop-color="#b55a07"/><stop offset="0.5687" stop-color="#b05606"/><stop offset="0.5833" stop-color="#bc6109"/><stop offset="0.5979" stop-color="#d97c12"/><stop offset="0.6000" stop-color="#de8013"/><stop offset="0.6146" stop-color="#f8ad55"/><stop offset="0.6229" stop-color="#fec379"/><stop offset="0.6375" stop-color="#fee1ba"/><stop offset="0.6562" stop-color="#f8f6f4"/><stop offset="0.6625" stop-color="#f1f2f5"/><stop offset="0.6896" stop-color="#e2e3ef"/><stop offset="0.7188" stop-color="#d6d7ea"/><stop offset="0.7438" stop-color="#b7b1d5"/><stop offset="0.7688" stop-color="#7f72ab"/><stop offset="0.7896" stop-color="#5a328d"/><stop offset="0.7958" stop-color="#512484"/><stop offset="0.8187" stop-color="#3b0e61"/><stop offset="0.8417" stop-color="#310352"/><stop offset="0.9000" stop-color="#2d004b"/><stop offset="1.0000" stop-color="#2d004b"/></linearGradient><linearGradient id="gE2017" gradientUnits="userSpaceOnUse" x1="646.30" y1="0" x2="938.60" y2="0"><stop offset="0.0000" stop-color="#2d004b"/><stop offset="0.2292" stop-color="#30024f"/><stop offset="0.2750" stop-color="#390b5d"/><stop offset="0.3312" stop-color="#502382"/><stop offset="0.3438" stop-color="#592f8b"/><stop offset="0.3625" stop-color="#6c509b"/><stop offset="0.3792" stop-color="#8a7eb4"/><stop offset="0.3979" stop-color="#bbb6d8"/><stop offset="0.4146" stop-color="#dadcec"/><stop offset="0.4375" stop-color="#f7f7f7"/><stop offset="0.4667" stop-color="#fedfb4"/><stop offset="0.4896" stop-color="#fcb560"/><stop offset="0.5104" stop-color="#e48821"/><stop offset="0.5146" stop-color="#df8214"/><stop offset="0.5417" stop-color="#b35806"/><stop offset="0.5604" stop-color="#8b4208"/><stop offset="0.5708" stop-color="#873f08"/><stop offset="0.5813" stop-color="#944708"/><stop offset="0.5938" stop-color="#b85d07"/><stop offset="0.6042" stop-color="#db7d12"/><stop offset="0.6062" stop-color="#e18418"/><stop offset="0.6125" stop-color="#ef9d3f"/><stop offset="0.6208" stop-color="#febb6a"/><stop offset="0.6354" stop-color="#fee0b7"/><stop offset="0.6521" stop-color="#f8f4ee"/><stop offset="0.6562" stop-color="#f6f6f7"/><stop offset="0.6750" stop-color="#ecedf3"/><stop offset="0.7125" stop-color="#e5e6f0"/><stop offset="0.7271" stop-color="#d6d8ea"/><stop offset="0.7500" stop-color="#ada5ce"/><stop offset="0.7708" stop-color="#7b69a7"/><stop offset="0.7896" stop-color="#562b8a"/><stop offset="0.8063" stop-color="#43166e"/><stop offset="0.8313" stop-color="#350757"/><stop offset="0.8750" stop-color="#2e014c"/><stop offset="1.0000" stop-color="#2d004b"/></linearGradient><linearGradient id="gE2016" gradientUnits="userSpaceOnUse" x1="646.30" y1="0" x2="938.60" y2="0"><stop offset="0.0000" stop-color="#2d004b"/><stop offset="0.2271" stop-color="#30024f"/><stop offset="0.2875" stop-color="#3a0d60"/><stop offset="0.3146" stop-color="#491c76"/><stop offset="0.3333" stop-color="#572c8a"/><stop offset="0.3646" stop-color="#745da1"/><stop offset="0.3812" stop-color="#8d81b6"/><stop offset="0.4042" stop-color="#bcb8d9"/><stop offset="0.4229" stop-color="#d9dbeb"/><stop offset="0.4542" stop-color="#f7f7f6"/><stop offset="0.4729" stop-color="#fee3bf"/><stop offset="0.4958" stop-color="#fdb762"/><stop offset="0.5146" stop-color="#eb9535"/><stop offset="0.5292" stop-color="#e08214"/><stop offset="0.5625" stop-color="#ba5f08"/><stop offset="0.5792" stop-color="#bc6009"/><stop offset="0.5958" stop-color="#d0730f"/><stop offset="0.6042" stop-color="#e08215"/><stop offset="0.6188" stop-color="#f6ab52"/><stop offset="0.6271" stop-color="#febf72"/><stop offset="0.6458" stop-color="#fee0b6"/><stop offset="0.6687" stop-color="#f9f2e8"/><stop offset="0.6792" stop-color="#f7f7f7"/><stop offset="0.7250" stop-color="#dddeed"/><stop offset="0.7375" stop-color="#cdcce4"/><stop offset="0.7562" stop-color="#a9a0cb"/><stop offset="0.7750" stop-color="#7966a6"/><stop offset="0.7937" stop-color="#562a89"/><stop offset="0.8146" stop-color="#401369"/><stop offset="0.8396" stop-color="#340555"/><stop offset="0.8854" stop-color="#2e014c"/><stop offset="1.0000" stop-color="#2d004b"/></linearGradient><linearGradient id="gE2015" gradientUnits="userSpaceOnUse" x1="646.30" y1="0" x2="938.60" y2="0"><stop offset="0.0000" stop-color="#2d004b"/><stop offset="0.2250" stop-color="#30024f"/><stop offset="0.2833" stop-color="#3a0d60"/><stop offset="0.3417" stop-color="#491c77"/><stop offset="0.3583" stop-color="#562a89"/><stop offset="0.3750" stop-color="#725aa0"/><stop offset="0.3896" stop-color="#9186b9"/><stop offset="0.4104" stop-color="#c7c5e0"/><stop offset="0.4188" stop-color="#dadcec"/><stop offset="0.4396" stop-color="#f7f7f7"/><stop offset="0.4667" stop-color="#fee3c0"/><stop offset="0.4771" stop-color="#ffd49e"/><stop offset="0.4938" stop-color="#fbb45e"/><stop offset="0.5146" stop-color="#e18317"/><stop offset="0.5437" stop-color="#b55a06"/><stop offset="0.5583" stop-color="#aa5307"/><stop offset="0.5729" stop-color="#b25806"/><stop offset="0.5896" stop-color="#cc6f0e"/><stop offset="0.5979" stop-color="#de8013"/><stop offset="0.6188" stop-color="#febb6a"/><stop offset="0.6375" stop-color="#fee0b5"/><stop offset="0.6542" stop-color="#fbedda"/><stop offset="0.6708" stop-color="#f9f3ec"/><stop offset="0.7083" stop-color="#f5f5f6"/><stop offset="0.7292" stop-color="#e4e5f0"/><stop offset="0.7396" stop-color="#d4d5e8"/><stop offset="0.7562" stop-color="#ada5ce"/><stop offset="0.7729" stop-color="#7967a6"/><stop offset="0.7896" stop-color="#542788"/><stop offset="0.8063" stop-color="#3f1267"/><stop offset="0.8271" stop-color="#330554"/><stop offset="0.8771" stop-color="#2d004c"/><stop offset="1.0000" stop-color="#2d004b"/></linearGradient><linearGradient id="gE2014" gradientUnits="userSpaceOnUse" x1="646.30" y1="0" x2="938.60" y2="0"><stop offset="0.0000" stop-color="#2d004b"/><stop offset="0.1313" stop-color="#2e014d"/><stop offset="0.2458" stop-color="#300250"/><stop offset="0.3083" stop-color="#3c0f62"/><stop offset="0.3417" stop-color="#4a1e79"/><stop offset="0.3563" stop-color="#572c8a"/><stop offset="0.3750" stop-color="#735ba1"/><stop offset="0.3917" stop-color="#968bbd"/><stop offset="0.4083" stop-color="#bdb9da"/><stop offset="0.4250" stop-color="#dbddec"/><stop offset="0.4500" stop-color="#f7f7f6"/><stop offset="0.4750" stop-color="#fee1b8"/><stop offset="0.4979" stop-color="#fdb863"/><stop offset="0.5229" stop-color="#e48922"/><stop offset="0.5271" stop-color="#df8114"/><stop offset="0.5521" stop-color="#b55a07"/><stop offset="0.5667" stop-color="#a95307"/><stop offset="0.5833" stop-color="#af5606"/><stop offset="0.5979" stop-color="#c3670b"/><stop offset="0.6104" stop-color="#de8013"/><stop offset="0.6312" stop-color="#fdba67"/><stop offset="0.6521" stop-color="#fee1b8"/><stop offset="0.6667" stop-color="#fbecd9"/><stop offset="0.6833" stop-color="#f9f2e9"/><stop offset="0.7125" stop-color="#f8f5f3"/><stop offset="0.7188" stop-color="#f5f5f6"/><stop offset="0.7458" stop-color="#d6d8ea"/><stop offset="0.7729" stop-color="#a79ec9"/><stop offset="0.7937" stop-color="#7d6ea9"/><stop offset="0.8187" stop-color="#522585"/><stop offset="0.8354" stop-color="#401369"/><stop offset="0.8625" stop-color="#330555"/><stop offset="0.9333" stop-color="#2e014c"/><stop offset="1.0000" stop-color="#2d004b"/></linearGradient><linearGradient id="gE2013" gradientUnits="userSpaceOnUse" x1="646.30" y1="0" x2="938.60" y2="0"><stop offset="0.0000" stop-color="#2d004b"/><stop offset="0.0667" stop-color="#330454"/><stop offset="0.0979" stop-color="#330555"/><stop offset="0.1583" stop-color="#2e014c"/><stop offset="0.2750" stop-color="#320453"/><stop offset="0.3187" stop-color="#3c0f62"/><stop offset="0.3479" stop-color="#4b1f7a"/><stop offset="0.3604" stop-color="#572c8a"/><stop offset="0.3833" stop-color="#7762a4"/><stop offset="0.4062" stop-color="#a49bc7"/><stop offset="0.4208" stop-color="#bfbbdb"/><stop offset="0.4437" stop-color="#dcdeed"/><stop offset="0.4688" stop-color="#f7f7f6"/><stop offset="0.4875" stop-color="#fee2ba"/><stop offset="0.5062" stop-color="#fdb862"/><stop offset="0.5271" stop-color="#e08214"/><stop offset="0.5500" stop-color="#bb6008"/><stop offset="0.5625" stop-color="#b75c07"/><stop offset="0.5813" stop-color="#cc6f0e"/><stop offset="0.5938" stop-color="#df8114"/><stop offset="0.6083" stop-color="#ee9b3d"/><stop offset="0.6312" stop-color="#febe70"/><stop offset="0.6583" stop-color="#fee0b6"/><stop offset="0.6729" stop-color="#fde5c6"/><stop offset="0.7063" stop-color="#fcebd5"/><stop offset="0.7188" stop-color="#f9f2ea"/><stop offset="0.7250" stop-color="#f6f6f7"/><stop offset="0.7500" stop-color="#d5d6e9"/><stop offset="0.7729" stop-color="#aca4cd"/><stop offset="0.7917" stop-color="#7e6eaa"/><stop offset="0.8125" stop-color="#542787"/><stop offset="0.8292" stop-color="#41146a"/><stop offset="0.8562" stop-color="#340656"/><stop offset="0.9021" stop-color="#2f014e"/><stop offset="1.0000" stop-color="#2d004b"/></linearGradient><linearGradient id="gE2012" gradientUnits="userSpaceOnUse" x1="646.30" y1="0" x2="938.60" y2="0"><stop offset="0.0000" stop-color="#2d004b"/><stop offset="0.0396" stop-color="#320452"/><stop offset="0.0563" stop-color="#3e1065"/><stop offset="0.0792" stop-color="#512483"/><stop offset="0.0917" stop-color="#532686"/><stop offset="0.1104" stop-color="#461a72"/><stop offset="0.1333" stop-color="#350757"/><stop offset="0.1688" stop-color="#2e014d"/><stop offset="0.2417" stop-color="#300250"/><stop offset="0.3187" stop-color="#3b0d60"/><stop offset="0.3563" stop-color="#471a74"/><stop offset="0.3750" stop-color="#562b8a"/><stop offset="0.4021" stop-color="#7b69a7"/><stop offset="0.4229" stop-color="#a49cc8"/><stop offset="0.4479" stop-color="#d7d9eb"/><stop offset="0.4667" stop-color="#f6f6f7"/><stop offset="0.4813" stop-color="#fde4c1"/><stop offset="0.5000" stop-color="#fdb863"/><stop offset="0.5167" stop-color="#e99230"/><stop offset="0.5271" stop-color="#de8013"/><stop offset="0.5583" stop-color="#ab5407"/><stop offset="0.5687" stop-color="#a24e07"/><stop offset="0.5833" stop-color="#aa5307"/><stop offset="0.6000" stop-color="#c2660a"/><stop offset="0.6146" stop-color="#de8013"/><stop offset="0.6312" stop-color="#f4a74d"/><stop offset="0.6438" stop-color="#febe71"/><stop offset="0.6646" stop-color="#ffdaab"/><stop offset="0.6771" stop-color="#fee3be"/><stop offset="0.7083" stop-color="#fbeedc"/><stop offset="0.7229" stop-color="#f6f6f6"/><stop offset="0.7479" stop-color="#d5d6e9"/><stop offset="0.7708" stop-color="#a8a0ca"/><stop offset="0.7917" stop-color="#7a68a7"/><stop offset="0.8125" stop-color="#542788"/><stop offset="0.8292" stop-color="#3f1267"/><stop offset="0.8500" stop-color="#330555"/><stop offset="0.8875" stop-color="#2e014d"/><stop offset="1.0000" stop-color="#2d004b"/></linearGradient><linearGradient id="gE2011" gradientUnits="userSpaceOnUse" x1="646.30" y1="0" x2="938.60" y2="0"><stop offset="0.0000" stop-color="#2d004b"/><stop offset="0.1146" stop-color="#310352"/><stop offset="0.2021" stop-color="#2f014e"/><stop offset="0.2812" stop-color="#360758"/><stop offset="0.3292" stop-color="#42156c"/><stop offset="0.3500" stop-color="#512484"/><stop offset="0.3688" stop-color="#684998"/><stop offset="0.3937" stop-color="#8d81b6"/><stop offset="0.4188" stop-color="#b8b2d6"/><stop offset="0.4625" stop-color="#ebebf2"/><stop offset="0.4708" stop-color="#f6f6f7"/><stop offset="0.4938" stop-color="#feddb0"/><stop offset="0.5146" stop-color="#febb6a"/><stop offset="0.5500" stop-color="#e08214"/><stop offset="0.5646" stop-color="#d77a11"/><stop offset="0.5896" stop-color="#e18316"/><stop offset="0.6167" stop-color="#ec9736"/><stop offset="0.6458" stop-color="#febd6d"/><stop offset="0.6625" stop-color="#ffcc8c"/><stop offset="0.6750" stop-color="#ffce91"/><stop offset="0.7042" stop-color="#ffc987"/><stop offset="0.7146" stop-color="#ffce90"/><stop offset="0.7250" stop-color="#ffdbab"/><stop offset="0.7479" stop-color="#f7f7f7"/><stop offset="0.7667" stop-color="#d3d4e8"/><stop offset="0.7854" stop-color="#a39ac7"/><stop offset="0.8021" stop-color="#7b6aa8"/><stop offset="0.8250" stop-color="#532687"/><stop offset="0.8417" stop-color="#43166d"/><stop offset="0.8750" stop-color="#360859"/><stop offset="0.9250" stop-color="#2e014d"/><stop offset="1.0000" stop-color="#2d004b"/></linearGradient><linearGradient id="gE2010" gradientUnits="userSpaceOnUse" x1="646.30" y1="0" x2="938.60" y2="0"><stop offset="0.0000" stop-color="#2d004b"/><stop offset="0.1417" stop-color="#300250"/><stop offset="0.2292" stop-color="#2f024e"/><stop offset="0.3063" stop-color="#37095b"/><stop offset="0.3396" stop-color="#44176e"/><stop offset="0.3604" stop-color="#552888"/><stop offset="0.3979" stop-color="#8a7fb4"/><stop offset="0.4208" stop-color="#b2abd2"/><stop offset="0.4625" stop-color="#d0d1e6"/><stop offset="0.4896" stop-color="#f6f6f7"/><stop offset="0.5146" stop-color="#ffdaaa"/><stop offset="0.5354" stop-color="#fdbb68"/><stop offset="0.5687" stop-color="#e38820"/><stop offset="0.5750" stop-color="#df8114"/><stop offset="0.5979" stop-color="#d47610"/><stop offset="0.6125" stop-color="#dc7e13"/><stop offset="0.6167" stop-color="#e18317"/><stop offset="0.6354" stop-color="#f8ae56"/><stop offset="0.6458" stop-color="#fec278"/><stop offset="0.6562" stop-color="#ffcd8f"/><stop offset="0.6687" stop-color="#ffd299"/><stop offset="0.6896" stop-color="#ffce91"/><stop offset="0.7083" stop-color="#ffc885"/><stop offset="0.7188" stop-color="#ffcc8e"/><stop offset="0.7312" stop-color="#ffd9a8"/><stop offset="0.7583" stop-color="#f6f6f7"/><stop offset="0.7792" stop-color="#d3d4e8"/><stop offset="0.8000" stop-color="#a59cc8"/><stop offset="0.8167" stop-color="#7b69a7"/><stop offset="0.8333" stop-color="#5a318d"/><stop offset="0.8396" stop-color="#512483"/><stop offset="0.8625" stop-color="#3d1064"/><stop offset="0.8958" stop-color="#310351"/><stop offset="0.9583" stop-color="#2d004b"/><stop offset="1.0000" stop-color="#2d004b"/></linearGradient><linearGradient id="legE" x1="0" y1="1" x2="0" y2="0"><stop offset="0.000" stop-color="#2d004b"/><stop offset="0.025" stop-color="#36085a"/><stop offset="0.050" stop-color="#401369"/><stop offset="0.075" stop-color="#4a1d78"/><stop offset="0.100" stop-color="#542788"/><stop offset="0.125" stop-color="#603b91"/><stop offset="0.150" stop-color="#6b4e9a"/><stop offset="0.175" stop-color="#7660a3"/><stop offset="0.200" stop-color="#8073ac"/><stop offset="0.225" stop-color="#8c81b5"/><stop offset="0.250" stop-color="#998fbf"/><stop offset="0.275" stop-color="#a59dc8"/><stop offset="0.300" stop-color="#b2abd2"/><stop offset="0.325" stop-color="#bbb7d8"/><stop offset="0.350" stop-color="#c5c2de"/><stop offset="0.375" stop-color="#cecee5"/><stop offset="0.400" stop-color="#d8daeb"/><stop offset="0.425" stop-color="#e0e1ee"/><stop offset="0.450" stop-color="#e8e8f1"/><stop offset="0.475" stop-color="#eff0f4"/><stop offset="0.500" stop-color="#f7f7f7"/><stop offset="0.525" stop-color="#faf1e7"/><stop offset="0.550" stop-color="#fcebd6"/><stop offset="0.575" stop-color="#fde6c6"/><stop offset="0.600" stop-color="#fee0b6"/><stop offset="0.625" stop-color="#ffd6a1"/><stop offset="0.650" stop-color="#ffcc8d"/><stop offset="0.675" stop-color="#fec278"/><stop offset="0.700" stop-color="#fdb863"/><stop offset="0.725" stop-color="#f6aa51"/><stop offset="0.750" stop-color="#ef9d3f"/><stop offset="0.775" stop-color="#e88f2c"/><stop offset="0.800" stop-color="#e08214"/><stop offset="0.825" stop-color="#d57710"/><stop offset="0.850" stop-color="#c96d0d"/><stop offset="0.875" stop-color="#be6209"/><stop offset="0.900" stop-color="#b35806"/><stop offset="0.925" stop-color="#a65107"/><stop offset="0.950" stop-color="#994908"/><stop offset="0.975" stop-color="#8c4208"/><stop offset="1.000" stop-color="#7f3b08"/></linearGradient><clipPath id="clipF"><rect x="1134.50" y="614.20" width="302.10" height="481.50"/></clipPath><linearGradient id="gF2020" gradientUnits="userSpaceOnUse" x1="1148.00" y1="0" x2="1422.80" y2="0"><stop offset="0.0000" stop-color="#276419"/><stop offset="0.1271" stop-color="#286519"/><stop offset="0.1938" stop-color="#2a681a"/><stop offset="0.2500" stop-color="#3a7a1d"/><stop offset="0.3125" stop-color="#4e9322"/><stop offset="0.3979" stop-color="#69a933"/><stop offset="0.4208" stop-color="#7fbc41"/><stop offset="0.4417" stop-color="#a6d571"/><stop offset="0.4562" stop-color="#c7e89e"/><stop offset="0.4729" stop-color="#e6f5d0"/><stop offset="0.5021" stop-color="#f7f7f7"/><stop offset="0.5375" stop-color="#fcdced"/><stop offset="0.5646" stop-color="#f2b8db"/><stop offset="0.6208" stop-color="#e283b6"/><stop offset="0.6500" stop-color="#d7609f"/><stop offset="0.6750" stop-color="#d5599a"/><stop offset="0.6937" stop-color="#d75f9e"/><stop offset="0.7104" stop-color="#df79b0"/><stop offset="0.7271" stop-color="#eca3cc"/><stop offset="0.7354" stop-color="#f3bcdd"/><stop offset="0.7521" stop-color="#fce4f0"/><stop offset="0.7646" stop-color="#f6f7f5"/><stop offset="0.7792" stop-color="#e3f4cb"/><stop offset="0.7958" stop-color="#b0dc7d"/><stop offset="0.8125" stop-color="#7ebb41"/><stop offset="0.8354" stop-color="#529624"/><stop offset="0.8667" stop-color="#35741c"/><stop offset="0.9000" stop-color="#286619"/><stop offset="1.0000" stop-color="#276419"/></linearGradient><linearGradient id="gF2019" gradientUnits="userSpaceOnUse" x1="1148.00" y1="0" x2="1422.80" y2="0"><stop offset="0.0000" stop-color="#276419"/><stop offset="0.1979" stop-color="#296719"/><stop offset="0.2583" stop-color="#39791d"/><stop offset="0.3312" stop-color="#539725"/><stop offset="0.3917" stop-color="#77b53c"/><stop offset="0.4271" stop-color="#87c14c"/><stop offset="0.4500" stop-color="#97cb5e"/><stop offset="0.4750" stop-color="#b7e085"/><stop offset="0.4958" stop-color="#d7eeb7"/><stop offset="0.5062" stop-color="#e8f5d4"/><stop offset="0.5229" stop-color="#f7f6f7"/><stop offset="0.5396" stop-color="#fcddee"/><stop offset="0.5563" stop-color="#efb0d6"/><stop offset="0.5729" stop-color="#e07eb2"/><stop offset="0.5875" stop-color="#d75f9e"/><stop offset="0.6021" stop-color="#d35296"/><stop offset="0.6229" stop-color="#d35396"/><stop offset="0.6458" stop-color="#db6ea8"/><stop offset="0.6792" stop-color="#e58bbc"/><stop offset="0.7125" stop-color="#eca3cc"/><stop offset="0.7375" stop-color="#f8cde5"/><stop offset="0.7479" stop-color="#fce3f0"/><stop offset="0.7604" stop-color="#f7f7f7"/><stop offset="0.7750" stop-color="#e5f5cf"/><stop offset="0.7917" stop-color="#b1dc7e"/><stop offset="0.8083" stop-color="#7dba3f"/><stop offset="0.8292" stop-color="#4c9121"/><stop offset="0.8500" stop-color="#34741c"/><stop offset="0.8750" stop-color="#296619"/><stop offset="1.0000" stop-color="#276419"/></linearGradient><linearGradient id="gF2018" gradientUnits="userSpaceOnUse" x1="1148.00" y1="0" x2="1422.80" y2="0"><stop offset="0.0000" stop-color="#276419"/><stop offset="0.2000" stop-color="#29671a"/><stop offset="0.2625" stop-color="#37771d"/><stop offset="0.3000" stop-color="#40821e"/><stop offset="0.3479" stop-color="#3e801e"/><stop offset="0.3750" stop-color="#4b9021"/><stop offset="0.4062" stop-color="#76b43b"/><stop offset="0.4146" stop-color="#84bf47"/><stop offset="0.4479" stop-color="#c1e594"/><stop offset="0.4750" stop-color="#e6f5d0"/><stop offset="0.5188" stop-color="#f7f6f7"/><stop offset="0.5500" stop-color="#fde1ef"/><stop offset="0.5771" stop-color="#efb0d5"/><stop offset="0.6083" stop-color="#d75f9e"/><stop offset="0.6208" stop-color="#d14d93"/><stop offset="0.6333" stop-color="#d14d93"/><stop offset="0.6708" stop-color="#dd74ac"/><stop offset="0.7042" stop-color="#e388b9"/><stop offset="0.7208" stop-color="#eba0ca"/><stop offset="0.7458" stop-color="#fddeee"/><stop offset="0.7604" stop-color="#f7f7f7"/><stop offset="0.7750" stop-color="#e3f4cc"/><stop offset="0.7896" stop-color="#b2dd7f"/><stop offset="0.8042" stop-color="#7ebb40"/><stop offset="0.8229" stop-color="#509423"/><stop offset="0.8458" stop-color="#35741c"/><stop offset="0.8708" stop-color="#286519"/><stop offset="1.0000" stop-color="#276419"/></linearGradient><linearGradient id="gF2017" gradientUnits="userSpaceOnUse" x1="1148.00" y1="0" x2="1422.80" y2="0"><stop offset="0.0000" stop-color="#276419"/><stop offset="0.2167" stop-color="#2a681a"/><stop offset="0.3229" stop-color="#38781d"/><stop offset="0.3792" stop-color="#468a20"/><stop offset="0.4021" stop-color="#569a27"/><stop offset="0.4375" stop-color="#7dba40"/><stop offset="0.4729" stop-color="#bce38d"/><stop offset="0.5021" stop-color="#e7f5d3"/><stop offset="0.5312" stop-color="#f7f6f7"/><stop offset="0.5604" stop-color="#fcdded"/><stop offset="0.5854" stop-color="#f0b2d7"/><stop offset="0.6083" stop-color="#e17fb4"/><stop offset="0.6333" stop-color="#d55b9b"/><stop offset="0.6687" stop-color="#c92e83"/><stop offset="0.6792" stop-color="#c51b7d"/><stop offset="0.7083" stop-color="#b2126e"/><stop offset="0.7229" stop-color="#b91673"/><stop offset="0.7292" stop-color="#c31a7b"/><stop offset="0.7417" stop-color="#d45899"/><stop offset="0.7604" stop-color="#f2b8db"/><stop offset="0.7708" stop-color="#fde1ef"/><stop offset="0.7812" stop-color="#f6f7f5"/><stop offset="0.7917" stop-color="#e7f5d1"/><stop offset="0.8063" stop-color="#b6e084"/><stop offset="0.8229" stop-color="#7ebb40"/><stop offset="0.8438" stop-color="#509423"/><stop offset="0.8667" stop-color="#38781d"/><stop offset="0.9042" stop-color="#296619"/><stop offset="1.0000" stop-color="#276419"/></linearGradient><linearGradient id="gF2016" gradientUnits="userSpaceOnUse" x1="1148.00" y1="0" x2="1422.80" y2="0"><stop offset="0.0000" stop-color="#276419"/><stop offset="0.2333" stop-color="#2a671a"/><stop offset="0.3479" stop-color="#3d7f1e"/><stop offset="0.3833" stop-color="#4f9322"/><stop offset="0.4333" stop-color="#83be46"/><stop offset="0.5000" stop-color="#c1e594"/><stop offset="0.5250" stop-color="#ddf1c1"/><stop offset="0.5354" stop-color="#e8f5d5"/><stop offset="0.5542" stop-color="#f7f7f7"/><stop offset="0.5729" stop-color="#fcdbed"/><stop offset="0.5875" stop-color="#f0b4d8"/><stop offset="0.6042" stop-color="#df79af"/><stop offset="0.6188" stop-color="#d45598"/><stop offset="0.6333" stop-color="#ce438d"/><stop offset="0.6479" stop-color="#ce438d"/><stop offset="0.6813" stop-color="#d5589a"/><stop offset="0.7063" stop-color="#d25195"/><stop offset="0.7271" stop-color="#d35195"/><stop offset="0.7375" stop-color="#d75f9e"/><stop offset="0.7521" stop-color="#e488b9"/><stop offset="0.7646" stop-color="#f2bbdc"/><stop offset="0.7750" stop-color="#fde0ef"/><stop offset="0.7854" stop-color="#f7f6f7"/><stop offset="0.7979" stop-color="#e3f4cc"/><stop offset="0.8125" stop-color="#aeda7a"/><stop offset="0.8250" stop-color="#7ebb40"/><stop offset="0.8417" stop-color="#549725"/><stop offset="0.8542" stop-color="#42851f"/><stop offset="0.8792" stop-color="#31701b"/><stop offset="0.9187" stop-color="#276419"/><stop offset="1.0000" stop-color="#276419"/></linearGradient><linearGradient id="gF2015" gradientUnits="userSpaceOnUse" x1="1148.00" y1="0" x2="1422.80" y2="0"><stop offset="0.0000" stop-color="#276419"/><stop offset="0.1938" stop-color="#29671a"/><stop offset="0.3292" stop-color="#3c7d1d"/><stop offset="0.3771" stop-color="#4a8e20"/><stop offset="0.4083" stop-color="#6aaa34"/><stop offset="0.4375" stop-color="#85c049"/><stop offset="0.4750" stop-color="#98cc60"/><stop offset="0.4958" stop-color="#b0dc7c"/><stop offset="0.5167" stop-color="#d0ebad"/><stop offset="0.5312" stop-color="#e7f5d2"/><stop offset="0.5563" stop-color="#f7f6f7"/><stop offset="0.5854" stop-color="#fbdaec"/><stop offset="0.6167" stop-color="#efb0d6"/><stop offset="0.6583" stop-color="#e388b9"/><stop offset="0.6750" stop-color="#da6ba6"/><stop offset="0.6875" stop-color="#d04790"/><stop offset="0.6937" stop-color="#c82d83"/><stop offset="0.6958" stop-color="#c6217f"/><stop offset="0.7000" stop-color="#bd1777"/><stop offset="0.7146" stop-color="#a10a61"/><stop offset="0.7250" stop-color="#9b075c"/><stop offset="0.7354" stop-color="#a60d65"/><stop offset="0.7458" stop-color="#c31a7b"/><stop offset="0.7562" stop-color="#d965a2"/><stop offset="0.7708" stop-color="#f3bbdd"/><stop offset="0.7812" stop-color="#fce3f0"/><stop offset="0.7896" stop-color="#f7f5f6"/><stop offset="0.7979" stop-color="#ebf6da"/><stop offset="0.8000" stop-color="#e7f5d2"/><stop offset="0.8125" stop-color="#b2dd7f"/><stop offset="0.8250" stop-color="#7dbb40"/><stop offset="0.8417" stop-color="#519523"/><stop offset="0.8604" stop-color="#38781d"/><stop offset="0.8833" stop-color="#2c691a"/><stop offset="0.9333" stop-color="#276419"/><stop offset="1.0000" stop-color="#276419"/></linearGradient><linearGradient id="gF2014" gradientUnits="userSpaceOnUse" x1="1148.00" y1="0" x2="1422.80" y2="0"><stop offset="0.0000" stop-color="#276419"/><stop offset="0.2479" stop-color="#2a681a"/><stop offset="0.3083" stop-color="#35751c"/><stop offset="0.3708" stop-color="#539725"/><stop offset="0.4146" stop-color="#66a631"/><stop offset="0.4396" stop-color="#80bd43"/><stop offset="0.4646" stop-color="#a4d46e"/><stop offset="0.5021" stop-color="#c6e79c"/><stop offset="0.5208" stop-color="#dcf0bf"/><stop offset="0.5312" stop-color="#e9f5d6"/><stop offset="0.5458" stop-color="#f7f7f6"/><stop offset="0.5604" stop-color="#fcddee"/><stop offset="0.5792" stop-color="#eeacd3"/><stop offset="0.5938" stop-color="#e58cbc"/><stop offset="0.6083" stop-color="#e181b5"/><stop offset="0.6312" stop-color="#e386b8"/><stop offset="0.6562" stop-color="#e691c0"/><stop offset="0.6708" stop-color="#e489ba"/><stop offset="0.6854" stop-color="#db6ea8"/><stop offset="0.7104" stop-color="#c82982"/><stop offset="0.7167" stop-color="#c41b7c"/><stop offset="0.7292" stop-color="#c41b7c"/><stop offset="0.7354" stop-color="#c82a82"/><stop offset="0.7479" stop-color="#d55a9b"/><stop offset="0.7688" stop-color="#f3bbdd"/><stop offset="0.7812" stop-color="#fce4f0"/><stop offset="0.7917" stop-color="#f6f7f5"/><stop offset="0.8021" stop-color="#e7f5d1"/><stop offset="0.8167" stop-color="#afdb7c"/><stop offset="0.8292" stop-color="#80bc42"/><stop offset="0.8479" stop-color="#509423"/><stop offset="0.8667" stop-color="#37781d"/><stop offset="0.8917" stop-color="#2b681a"/><stop offset="0.9396" stop-color="#276419"/><stop offset="1.0000" stop-color="#276419"/></linearGradient><linearGradient id="gF2013" gradientUnits="userSpaceOnUse" x1="1148.00" y1="0" x2="1422.80" y2="0"><stop offset="0.0000" stop-color="#276419"/><stop offset="0.0583" stop-color="#2d6b1a"/><stop offset="0.0896" stop-color="#33721c"/><stop offset="0.1500" stop-color="#276419"/><stop offset="0.3271" stop-color="#35751c"/><stop offset="0.3604" stop-color="#40821e"/><stop offset="0.3812" stop-color="#519624"/><stop offset="0.4208" stop-color="#82be44"/><stop offset="0.4604" stop-color="#a9d774"/><stop offset="0.4979" stop-color="#c4e699"/><stop offset="0.5312" stop-color="#def1c2"/><stop offset="0.5521" stop-color="#edf6e0"/><stop offset="0.5708" stop-color="#f7f6f7"/><stop offset="0.6042" stop-color="#fbdaec"/><stop offset="0.6521" stop-color="#efafd5"/><stop offset="0.6813" stop-color="#e385b7"/><stop offset="0.7083" stop-color="#d65c9c"/><stop offset="0.7271" stop-color="#d25095"/><stop offset="0.7417" stop-color="#d45899"/><stop offset="0.7542" stop-color="#db6da7"/><stop offset="0.7688" stop-color="#e897c4"/><stop offset="0.7792" stop-color="#f3bdde"/><stop offset="0.7917" stop-color="#fce3f0"/><stop offset="0.8021" stop-color="#f7f7f6"/><stop offset="0.8125" stop-color="#e7f5d2"/><stop offset="0.8250" stop-color="#b5df82"/><stop offset="0.8375" stop-color="#7dbb40"/><stop offset="0.8542" stop-color="#509423"/><stop offset="0.8729" stop-color="#37781d"/><stop offset="0.9021" stop-color="#296619"/><stop offset="1.0000" stop-color="#276419"/></linearGradient><linearGradient id="gF2012" gradientUnits="userSpaceOnUse" x1="1148.00" y1="0" x2="1422.80" y2="0"><stop offset="0.0000" stop-color="#276419"/><stop offset="0.0458" stop-color="#2e6d1b"/><stop offset="0.0833" stop-color="#3d7e1e"/><stop offset="0.1104" stop-color="#37771c"/><stop offset="0.1458" stop-color="#286519"/><stop offset="0.2750" stop-color="#2d6b1a"/><stop offset="0.3187" stop-color="#3a7b1d"/><stop offset="0.3646" stop-color="#539725"/><stop offset="0.4146" stop-color="#70af37"/><stop offset="0.4625" stop-color="#77b53c"/><stop offset="0.4771" stop-color="#83be46"/><stop offset="0.4979" stop-color="#a7d672"/><stop offset="0.5167" stop-color="#ceeaa8"/><stop offset="0.5292" stop-color="#e7f5d3"/><stop offset="0.5479" stop-color="#f7f6f7"/><stop offset="0.5729" stop-color="#fde2f0"/><stop offset="0.6125" stop-color="#f3bcdd"/><stop offset="0.6417" stop-color="#e99ac6"/><stop offset="0.6729" stop-color="#e388b9"/><stop offset="0.6875" stop-color="#dc70a9"/><stop offset="0.7042" stop-color="#cd3f8b"/><stop offset="0.7125" stop-color="#c51e7e"/><stop offset="0.7312" stop-color="#ae116b"/><stop offset="0.7438" stop-color="#af116b"/><stop offset="0.7542" stop-color="#c01979"/><stop offset="0.7562" stop-color="#c51c7d"/><stop offset="0.7646" stop-color="#d25095"/><stop offset="0.7854" stop-color="#f3bbdd"/><stop offset="0.7958" stop-color="#fde1ef"/><stop offset="0.8063" stop-color="#f7f6f7"/><stop offset="0.8187" stop-color="#e6f5d1"/><stop offset="0.8333" stop-color="#b1dc7e"/><stop offset="0.8458" stop-color="#7dba40"/><stop offset="0.8604" stop-color="#539725"/><stop offset="0.8750" stop-color="#3e801e"/><stop offset="0.9021" stop-color="#2b691a"/><stop offset="0.9375" stop-color="#276419"/><stop offset="1.0000" stop-color="#276419"/></linearGradient><linearGradient id="gF2011" gradientUnits="userSpaceOnUse" x1="1148.00" y1="0" x2="1422.80" y2="0"><stop offset="0.0000" stop-color="#276419"/><stop offset="0.0792" stop-color="#2e6c1a"/><stop offset="0.1125" stop-color="#306e1b"/><stop offset="0.1646" stop-color="#286519"/><stop offset="0.2896" stop-color="#2e6d1b"/><stop offset="0.3479" stop-color="#42841f"/><stop offset="0.3833" stop-color="#549826"/><stop offset="0.4479" stop-color="#81bd44"/><stop offset="0.5104" stop-color="#b8e187"/><stop offset="0.5312" stop-color="#d2ecae"/><stop offset="0.5458" stop-color="#e8f5d5"/><stop offset="0.5625" stop-color="#f7f6f7"/><stop offset="0.5792" stop-color="#fcdeee"/><stop offset="0.5979" stop-color="#efaed4"/><stop offset="0.6125" stop-color="#e489ba"/><stop offset="0.6292" stop-color="#dc72aa"/><stop offset="0.6833" stop-color="#d04b92"/><stop offset="0.7208" stop-color="#c51d7e"/><stop offset="0.7312" stop-color="#c61f7e"/><stop offset="0.7417" stop-color="#ca3285"/><stop offset="0.7542" stop-color="#d55a9b"/><stop offset="0.7750" stop-color="#f1b7db"/><stop offset="0.7875" stop-color="#fde1ef"/><stop offset="0.8000" stop-color="#f6f7f5"/><stop offset="0.8125" stop-color="#e6f5cf"/><stop offset="0.8271" stop-color="#b1dc7d"/><stop offset="0.8396" stop-color="#82be45"/><stop offset="0.8521" stop-color="#63a42f"/><stop offset="0.8667" stop-color="#498e20"/><stop offset="0.8938" stop-color="#33731c"/><stop offset="0.9250" stop-color="#29671a"/><stop offset="1.0000" stop-color="#276419"/></linearGradient><linearGradient id="gF2010" gradientUnits="userSpaceOnUse" x1="1148.00" y1="0" x2="1422.80" y2="0"><stop offset="0.0000" stop-color="#276419"/><stop offset="0.1354" stop-color="#296619"/><stop offset="0.2479" stop-color="#2b681a"/><stop offset="0.3396" stop-color="#3a7a1d"/><stop offset="0.3854" stop-color="#549725"/><stop offset="0.4708" stop-color="#7ebb40"/><stop offset="0.4917" stop-color="#97cb5e"/><stop offset="0.5083" stop-color="#b8e186"/><stop offset="0.5292" stop-color="#e6f5d1"/><stop offset="0.5458" stop-color="#f6f7f5"/><stop offset="0.5646" stop-color="#fcddee"/><stop offset="0.5833" stop-color="#f2b9db"/><stop offset="0.5979" stop-color="#eca6ce"/><stop offset="0.6146" stop-color="#eca4cd"/><stop offset="0.6562" stop-color="#f3bbdc"/><stop offset="0.6750" stop-color="#f2b8db"/><stop offset="0.6917" stop-color="#eb9fca"/><stop offset="0.7229" stop-color="#d864a1"/><stop offset="0.7396" stop-color="#d45598"/><stop offset="0.7521" stop-color="#d55a9b"/><stop offset="0.7625" stop-color="#db6da7"/><stop offset="0.7771" stop-color="#ea9ec9"/><stop offset="0.7854" stop-color="#f3bddd"/><stop offset="0.8000" stop-color="#fce4f1"/><stop offset="0.8104" stop-color="#f7f6f7"/><stop offset="0.8229" stop-color="#e8f5d4"/><stop offset="0.8292" stop-color="#d5eeb4"/><stop offset="0.8396" stop-color="#afdb7c"/><stop offset="0.8521" stop-color="#7ebb40"/><stop offset="0.8688" stop-color="#509523"/><stop offset="0.8875" stop-color="#397a1d"/><stop offset="0.9125" stop-color="#2b691a"/><stop offset="0.9938" stop-color="#276419"/><stop offset="1.0000" stop-color="#276419"/></linearGradient><linearGradient id="legF" x1="0" y1="1" x2="0" y2="0"><stop offset="0.000" stop-color="#276419"/><stop offset="0.025" stop-color="#306f1b"/><stop offset="0.050" stop-color="#3a7b1d"/><stop offset="0.075" stop-color="#43861f"/><stop offset="0.100" stop-color="#4d9221"/><stop offset="0.125" stop-color="#5a9c29"/><stop offset="0.150" stop-color="#66a731"/><stop offset="0.175" stop-color="#73b139"/><stop offset="0.200" stop-color="#7fbc41"/><stop offset="0.225" stop-color="#8ec553"/><stop offset="0.250" stop-color="#9cce64"/><stop offset="0.275" stop-color="#aad875"/><stop offset="0.300" stop-color="#b8e186"/><stop offset="0.325" stop-color="#c4e699"/><stop offset="0.350" stop-color="#d0ebab"/><stop offset="0.375" stop-color="#dbf0bd"/><stop offset="0.400" stop-color="#e6f5d0"/><stop offset="0.425" stop-color="#eaf6da"/><stop offset="0.450" stop-color="#eff6e3"/><stop offset="0.475" stop-color="#f3f7ed"/><stop offset="0.500" stop-color="#f7f7f7"/><stop offset="0.525" stop-color="#f9f1f5"/><stop offset="0.550" stop-color="#faecf3"/><stop offset="0.575" stop-color="#fce6f1"/><stop offset="0.600" stop-color="#fde0ef"/><stop offset="0.625" stop-color="#fad6ea"/><stop offset="0.650" stop-color="#f7cbe4"/><stop offset="0.675" stop-color="#f4c1df"/><stop offset="0.700" stop-color="#f1b6da"/><stop offset="0.725" stop-color="#eda7cf"/><stop offset="0.750" stop-color="#e897c4"/><stop offset="0.775" stop-color="#e387b9"/><stop offset="0.800" stop-color="#de77ae"/><stop offset="0.825" stop-color="#d865a1"/><stop offset="0.850" stop-color="#d25195"/><stop offset="0.875" stop-color="#cc3a89"/><stop offset="0.900" stop-color="#c51b7d"/><stop offset="0.925" stop-color="#b71572"/><stop offset="0.950" stop-color="#a90e67"/><stop offset="0.975" stop-color="#9b075c"/><stop offset="1.000" stop-color="#8e0152"/></linearGradient></defs><rect width="1535" height="1152" fill="#fff"/><rect x="89.50" y="40.60" width="350.50" height="480.60" fill="#fff"/>
<g><line x1="91.81" y1="40.60" x2="91.81" y2="521.20" stroke="#f3f3f3" stroke-width="1.1"/><line x1="105.10" y1="40.60" x2="105.10" y2="521.20" stroke="#ebebeb" stroke-width="1.5"/><line x1="118.39" y1="40.60" x2="118.39" y2="521.20" stroke="#f3f3f3" stroke-width="1.1"/><line x1="131.68" y1="40.60" x2="131.68" y2="521.20" stroke="#ebebeb" stroke-width="1.5"/><line x1="144.97" y1="40.60" x2="144.97" y2="521.20" stroke="#f3f3f3" stroke-width="1.1"/><line x1="158.27" y1="40.60" x2="158.27" y2="521.20" stroke="#ebebeb" stroke-width="1.5"/><line x1="171.56" y1="40.60" x2="171.56" y2="521.20" stroke="#f3f3f3" stroke-width="1.1"/><line x1="184.85" y1="40.60" x2="184.85" y2="521.20" stroke="#ebebeb" stroke-width="1.5"/><line x1="198.14" y1="40.60" x2="198.14" y2="521.20" stroke="#f3f3f3" stroke-width="1.1"/><line x1="211.43" y1="40.60" x2="211.43" y2="521.20" stroke="#ebebeb" stroke-width="1.5"/><line x1="224.72" y1="40.60" x2="224.72" y2="521.20" stroke="#f3f3f3" stroke-width="1.1"/><line x1="238.02" y1="40.60" x2="238.02" y2="521.20" stroke="#ebebeb" stroke-width="1.5"/><line x1="251.31" y1="40.60" x2="251.31" y2="521.20" stroke="#f3f3f3" stroke-width="1.1"/><line x1="264.60" y1="40.60" x2="264.60" y2="521.20" stroke="#ebebeb" stroke-width="1.5"/><line x1="277.89" y1="40.60" x2="277.89" y2="521.20" stroke="#f3f3f3" stroke-width="1.1"/><line x1="291.18" y1="40.60" x2="291.18" y2="521.20" stroke="#ebebeb" stroke-width="1.5"/><line x1="304.48" y1="40.60" x2="304.48" y2="521.20" stroke="#f3f3f3" stroke-width="1.1"/><line x1="317.77" y1="40.60" x2="317.77" y2="521.20" stroke="#ebebeb" stroke-width="1.5"/><line x1="331.06" y1="40.60" x2="331.06" y2="521.20" stroke="#f3f3f3" stroke-width="1.1"/><line x1="344.35" y1="40.60" x2="344.35" y2="521.20" stroke="#ebebeb" stroke-width="1.5"/><line x1="357.64" y1="40.60" x2="357.64" y2="521.20" stroke="#f3f3f3" stroke-width="1.1"/><line x1="370.93" y1="40.60" x2="370.93" y2="521.20" stroke="#ebebeb" stroke-width="1.5"/><line x1="384.23" y1="40.60" x2="384.23" y2="521.20" stroke="#f3f3f3" stroke-width="1.1"/><line x1="397.52" y1="40.60" x2="397.52" y2="521.20" stroke="#ebebeb" stroke-width="1.5"/><line x1="410.81" y1="40.60" x2="410.81" y2="521.20" stroke="#f3f3f3" stroke-width="1.1"/><line x1="424.10" y1="40.60" x2="424.10" y2="521.20" stroke="#ebebeb" stroke-width="1.5"/><line x1="437.39" y1="40.60" x2="437.39" y2="521.20" stroke="#f3f3f3" stroke-width="1.1"/><line x1="89.50" y1="498.30" x2="440.00" y2="498.30" stroke="#ebebeb" stroke-width="1.5"/><line x1="89.50" y1="458.46" x2="440.00" y2="458.46" stroke="#ebebeb" stroke-width="1.5"/><line x1="89.50" y1="418.62" x2="440.00" y2="418.62" stroke="#ebebeb" stroke-width="1.5"/><line x1="89.50" y1="378.78" x2="440.00" y2="378.78" stroke="#ebebeb" stroke-width="1.5"/><line x1="89.50" y1="338.94" x2="440.00" y2="338.94" stroke="#ebebeb" stroke-width="1.5"/><line x1="89.50" y1="299.10" x2="440.00" y2="299.10" stroke="#ebebeb" stroke-width="1.5"/><line x1="89.50" y1="259.26" x2="440.00" y2="259.26" stroke="#ebebeb" stroke-width="1.5"/><line x1="89.50" y1="219.42" x2="440.00" y2="219.42" stroke="#ebebeb" stroke-width="1.5"/><line x1="89.50" y1="179.58" x2="440.00" y2="179.58" stroke="#ebebeb" stroke-width="1.5"/><line x1="89.50" y1="139.74" x2="440.00" y2="139.74" stroke="#ebebeb" stroke-width="1.5"/><line x1="89.50" y1="99.90" x2="440.00" y2="99.90" stroke="#ebebeb" stroke-width="1.5"/></g>
<g clip-path="url(#clipA)"><path d="M105.1 99.6 111.1 98.7 115.1 98.4 118.4 98.6 127.7 99.5 139 99.9 159.6 99.8 176.9 99.2 183.5 98.8 187.5 98.2 191.5 97.3 197.5 95.5 204.1 93 210.8 89.9 216.1 86.8 222.1 82.8 226.7 79.2 231.4 75.2 245.3 61.8 253.3 55.6 259.3 50.5 261.9 48.6 265.9 46.6 278.6 41.9 281.2 41.1 283.2 40.9 284.5 41.1 285.9 41.6 287.2 42.4 289.2 44 291.8 46.9 297.8 54.9 300.5 58.1 303.8 61.5 307.8 64.9 312.4 68 317.8 71.2 321.8 73.3 329.1 76.8 332.4 78.6 337.7 82.4 350.3 92.2 354.3 94.9 357.6 96.6 361 97.7 364.3 98.5 368.3 99.1 372.3 99.5 385.6 99.7 424.1 99.9L424.1 99.9L105.1 99.9Z" fill="url(#gA2020)"/><path d="M105.1 99.6 111.1 98.7 115.1 98.4 118.4 98.6 127.7 99.5 139 99.9 159.6 99.8 176.9 99.2 183.5 98.8 187.5 98.2 191.5 97.3 197.5 95.5 204.1 93 210.8 89.9 216.1 86.8 222.1 82.8 226.7 79.2 231.4 75.2 245.3 61.8 253.3 55.6 259.3 50.5 261.9 48.6 265.9 46.6 278.6 41.9 281.2 41.1 283.2 40.9 284.5 41.1 285.9 41.6 287.2 42.4 289.2 44 291.8 46.9 297.8 54.9 300.5 58.1 303.8 61.5 307.8 64.9 312.4 68 317.8 71.2 321.8 73.3 329.1 76.8 332.4 78.6 337.7 82.4 350.3 92.2 354.3 94.9 357.6 96.6 361 97.7 364.3 98.5 368.3 99.1 372.3 99.5 385.6 99.7 424.1 99.9" fill="none" stroke="#161616" stroke-width="1.40" stroke-linejoin="round"/><path d="M105.1 139.6 112.4 139 117.1 138.8 128.4 139.4 135 139.5 160.3 139.6 172.9 139.4 180.2 138.7 188.2 137.5 194.8 136 201.5 134.1 206.1 132.5 211.4 130.3 215.4 128.5 218.1 127 220.7 125.2 223.4 123 230 117.1 236.7 110.7 240 108.1 243.3 106.2 252 102.2 255.3 100.3 258 98.5 264.6 93.5 278.6 84.2 281.9 82.6 283.9 82.1 285.2 81.9 287.2 82.1 289.9 83 292.5 84.5 294.5 86 298.5 89.9 307.1 100 310.5 103.6 314.4 107.3 317.8 109.9 319.8 111.1 322.4 112.5 335 117.1 339.7 119.4 343.7 122.2 350.3 128.1 353.7 130.7 359 133.9 365 136.8 368.3 138 370.9 138.6 379.6 139.4 389.5 139.6 424.1 139.7L424.1 139.7L105.1 139.7Z" fill="url(#gA2019)"/><path d="M105.1 139.6 112.4 139 117.1 138.8 128.4 139.4 135 139.5 160.3 139.6 172.9 139.4 180.2 138.7 188.2 137.5 194.8 136 201.5 134.1 206.1 132.5 211.4 130.3 215.4 128.5 218.1 127 220.7 125.2 223.4 123 230 117.1 236.7 110.7 240 108.1 243.3 106.2 252 102.2 255.3 100.3 258 98.5 264.6 93.5 278.6 84.2 281.9 82.6 283.9 82.1 285.2 81.9 287.2 82.1 289.9 83 292.5 84.5 294.5 86 298.5 89.9 307.1 100 310.5 103.6 314.4 107.3 317.8 109.9 319.8 111.1 322.4 112.5 335 117.1 339.7 119.4 343.7 122.2 350.3 128.1 353.7 130.7 359 133.9 365 136.8 368.3 138 370.9 138.6 379.6 139.4 389.5 139.6 424.1 139.7" fill="none" stroke="#161616" stroke-width="1.40" stroke-linejoin="round"/><path d="M105.1 179.5 120.4 179 138.3 179.4 159.6 179.5 169.6 179.2 178.9 178.6 183.5 178.2 187.5 177.5 198.1 174.5 210.1 171.8 213.4 170.5 216.8 168.6 224.7 163.3 228.7 160.2 232 157 240 147.9 249.3 139.1 256.6 131 258.6 129.3 259.9 128.4 262.6 127.2 265.3 126.7 267.9 126.7 273.2 127.3 275.9 127.1 278.6 126.5 283.9 124.7 286.5 124.3 287.9 124.4 289.9 125.1 291.8 126.2 294.5 128.2 298.5 131.9 307.8 141.5 310.5 143.9 313.1 145.9 316.4 147.9 319.8 149.4 322.4 150.3 331.1 152.7 333.7 153.8 336.4 155.2 338.4 156.6 341 158.9 349 167.3 352.3 170.2 357 173.3 363 176.1 366.3 177.3 368.9 178 372.3 178.5 376.2 178.8 395.5 179.3 424.1 179.6L424.1 179.6L105.1 179.6Z" fill="url(#gA2018)"/><path d="M105.1 179.5 120.4 179 138.3 179.4 159.6 179.5 169.6 179.2 178.9 178.6 183.5 178.2 187.5 177.5 198.1 174.5 210.1 171.8 213.4 170.5 216.8 168.6 224.7 163.3 228.7 160.2 232 157 240 147.9 249.3 139.1 256.6 131 258.6 129.3 259.9 128.4 262.6 127.2 265.3 126.7 267.9 126.7 273.2 127.3 275.9 127.1 278.6 126.5 283.9 124.7 286.5 124.3 287.9 124.4 289.9 125.1 291.8 126.2 294.5 128.2 298.5 131.9 307.8 141.5 310.5 143.9 313.1 145.9 316.4 147.9 319.8 149.4 322.4 150.3 331.1 152.7 333.7 153.8 336.4 155.2 338.4 156.6 341 158.9 349 167.3 352.3 170.2 357 173.3 363 176.1 366.3 177.3 368.9 178 372.3 178.5 376.2 178.8 395.5 179.3 424.1 179.6" fill="none" stroke="#161616" stroke-width="1.40" stroke-linejoin="round"/><path d="M105.1 219.4 119.7 218.9 155.6 219.3 167.6 219.2 173.6 219 183.5 217.9 192.8 216.4 200.8 214.6 208.1 212.5 219.4 208.6 222.7 207.1 225.4 205.5 228.7 203.1 236 196.7 240 193.6 244 191.1 250.6 187.6 253.3 185.8 256.6 183 263.9 176.3 271.2 171.1 279.9 163.7 281.9 162.4 283.9 161.4 285.9 160.8 287.2 160.7 288.5 160.8 290.5 161.4 292.5 162.4 294.5 163.9 299.8 169 311.1 180.9 313.8 183.3 315.8 184.6 317.1 185.2 319.1 185.7 327.1 186.1 329.7 186.5 332.4 187.4 334.4 188.5 337.7 191.2 341 194.4 349.7 204.3 353 207.5 356.3 210.3 359.6 212.7 362.3 214.4 365 215.8 368.3 217 371.6 217.8 376.2 218.4 381.6 218.9 397.5 219.3 424.1 219.4L424.1 219.4L105.1 219.4Z" fill="url(#gA2017)"/><path d="M105.1 219.4 119.7 218.9 155.6 219.3 167.6 219.2 173.6 219 183.5 217.9 192.8 216.4 200.8 214.6 208.1 212.5 219.4 208.6 222.7 207.1 225.4 205.5 228.7 203.1 236 196.7 240 193.6 244 191.1 250.6 187.6 253.3 185.8 256.6 183 263.9 176.3 271.2 171.1 279.9 163.7 281.9 162.4 283.9 161.4 285.9 160.8 287.2 160.7 288.5 160.8 290.5 161.4 292.5 162.4 294.5 163.9 299.8 169 311.1 180.9 313.8 183.3 315.8 184.6 317.1 185.2 319.1 185.7 327.1 186.1 329.7 186.5 332.4 187.4 334.4 188.5 337.7 191.2 341 194.4 349.7 204.3 353 207.5 356.3 210.3 359.6 212.7 362.3 214.4 365 215.8 368.3 217 371.6 217.8 376.2 218.4 381.6 218.9 397.5 219.3 424.1 219.4" fill="none" stroke="#161616" stroke-width="1.40" stroke-linejoin="round"/><path d="M105.1 259.2 124.4 258.7 152.9 259.1 173.6 258.9 182.2 258.2 190.2 257.1 198.1 255.6 205.5 253.7 211.4 251.8 216.8 249.8 220.7 248 224.1 246.1 228 243 236 235.7 239.3 233 243.3 230.4 250 227.5 252 226.3 254 224.7 260.6 218.8 265.9 215.2 270.6 212.8 277.9 209.8 283.9 207 286.5 206.2 288.5 206.1 290.5 206.3 293.2 206.9 297.8 208.8 303.8 212.4 315.8 221.2 319.1 223.3 321.8 224.7 324.4 225.8 332.4 228.2 334.4 229.1 336.4 230.3 338.4 231.8 340.4 233.7 349 243.5 354.3 248.7 357 250.8 359.6 252.6 362.3 254 365.6 255.4 368.9 256.5 372.3 257.3 377.6 258.2 382.2 258.6 399.5 259.1 424.1 259.3L424.1 259.3L105.1 259.3Z" fill="url(#gA2016)"/><path d="M105.1 259.2 124.4 258.7 152.9 259.1 173.6 258.9 182.2 258.2 190.2 257.1 198.1 255.6 205.5 253.7 211.4 251.8 216.8 249.8 220.7 248 224.1 246.1 228 243 236 235.7 239.3 233 243.3 230.4 250 227.5 252 226.3 254 224.7 260.6 218.8 265.9 215.2 270.6 212.8 277.9 209.8 283.9 207 286.5 206.2 288.5 206.1 290.5 206.3 293.2 206.9 297.8 208.8 303.8 212.4 315.8 221.2 319.1 223.3 321.8 224.7 324.4 225.8 332.4 228.2 334.4 229.1 336.4 230.3 338.4 231.8 340.4 233.7 349 243.5 354.3 248.7 357 250.8 359.6 252.6 362.3 254 365.6 255.4 368.9 256.5 372.3 257.3 377.6 258.2 382.2 258.6 399.5 259.1 424.1 259.3" fill="none" stroke="#161616" stroke-width="1.40" stroke-linejoin="round"/><path d="M105.1 299.1 129.7 298.6 146.3 299 169.6 299.1 180.2 298.7 187.5 298 194.8 296.8 206.8 294.2 216.8 291.6 220.7 290.2 223.4 289 226.1 287.5 228 286.1 232 282.6 238.7 275.4 242 272.3 245.3 269.8 252 265.6 256 262.7 259.3 259.9 266.6 253.1 270.6 250 273.9 247.9 278.6 245.6 281.9 244.5 284.5 244.1 286.5 244.3 289.2 245.1 291.8 246.3 295.2 248.3 301.2 252.7 310.5 261.1 313.1 263.1 315.1 264.1 317.1 264.8 319.8 265.1 327.1 264.3 329.7 264.2 332.4 264.8 334.4 265.8 337 267.9 340.4 271.2 343.7 275.1 349.7 282.9 354.3 287.9 357.6 290.6 361 292.9 364.3 294.9 367.6 296.4 370.3 297.3 373.6 298 378.2 298.7 382.2 299 424.1 299.1L424.1 299.1L105.1 299.1Z" fill="url(#gA2015)"/><path d="M105.1 299.1 129.7 298.6 146.3 299 169.6 299.1 180.2 298.7 187.5 298 194.8 296.8 206.8 294.2 216.8 291.6 220.7 290.2 223.4 289 226.1 287.5 228 286.1 232 282.6 238.7 275.4 242 272.3 245.3 269.8 252 265.6 256 262.7 259.3 259.9 266.6 253.1 270.6 250 273.9 247.9 278.6 245.6 281.9 244.5 284.5 244.1 286.5 244.3 289.2 245.1 291.8 246.3 295.2 248.3 301.2 252.7 310.5 261.1 313.1 263.1 315.1 264.1 317.1 264.8 319.8 265.1 327.1 264.3 329.7 264.2 332.4 264.8 334.4 265.8 337 267.9 340.4 271.2 343.7 275.1 349.7 282.9 354.3 287.9 357.6 290.6 361 292.9 364.3 294.9 367.6 296.4 370.3 297.3 373.6 298 378.2 298.7 382.2 299 424.1 299.1" fill="none" stroke="#161616" stroke-width="1.40" stroke-linejoin="round"/><path d="M105.1 338.9 129.7 338.6 166.9 338.9 174.9 338.8 186.2 338.1 194.2 337.2 200.1 336.2 206.1 334.6 218.7 330.3 222.1 328.9 225.4 327 228.7 324.6 238.7 316.1 248 309.8 252 306.9 261.3 299 263.9 296.9 271.9 292.1 278.6 286.9 281.9 284.5 285.2 282.9 287.9 282.5 289.9 282.7 292.5 283.5 295.2 284.8 297.8 286.5 301.8 289.9 311.1 299.2 313.8 301.3 316.4 302.9 319.1 303.9 322.4 304.4 325.1 304.4 330.4 303.7 332.4 303.8 334.4 304.3 336.4 305.3 337.7 306.2 339.7 308 349 318.5 355.6 325 360.3 329 364.3 332.1 366.9 333.9 369.6 335.2 372.3 336.2 375.6 337 379.6 337.7 383.6 338.1 402.2 338.7 424.1 338.9L424.1 338.9L105.1 338.9Z" fill="url(#gA2014)"/><path d="M105.1 338.9 129.7 338.6 166.9 338.9 174.9 338.8 186.2 338.1 194.2 337.2 200.1 336.2 206.1 334.6 218.7 330.3 222.1 328.9 225.4 327 228.7 324.6 238.7 316.1 248 309.8 252 306.9 261.3 299 263.9 296.9 271.9 292.1 278.6 286.9 281.9 284.5 285.2 282.9 287.9 282.5 289.9 282.7 292.5 283.5 295.2 284.8 297.8 286.5 301.8 289.9 311.1 299.2 313.8 301.3 316.4 302.9 319.1 303.9 322.4 304.4 325.1 304.4 330.4 303.7 332.4 303.8 334.4 304.3 336.4 305.3 337.7 306.2 339.7 308 349 318.5 355.6 325 360.3 329 364.3 332.1 366.9 333.9 369.6 335.2 372.3 336.2 375.6 337 379.6 337.7 383.6 338.1 402.2 338.7 424.1 338.9" fill="none" stroke="#161616" stroke-width="1.40" stroke-linejoin="round"/><path d="M105.1 378.8 113.1 378.6 119.7 378.3 123 377.8 129 376.4 131.7 376.1 134.3 376.3 142.3 378 149.6 378.6 160.9 378.6 182.2 377.7 186.8 377.4 191.5 376.7 206.1 374.4 211.4 373.2 216.1 371.4 221.4 368.2 224.7 365.7 232 359.3 235.4 357 239.3 354.9 249.3 350.4 253.3 348 256 346.1 258 344.3 266.6 334.7 269.3 332.2 271.9 330.1 275.2 327.8 278.6 326.1 281.2 325.1 283.9 324.8 285.9 325 288.5 326.1 296.5 330.8 305.1 334.9 313.8 339.9 316.4 341.2 320.4 342.4 330.4 344.2 332.4 344.9 335 346.2 341.7 350.5 348.3 355.7 356.3 362.5 363 369.2 365.6 371.5 368.9 373.7 372.3 375.2 375.6 376.3 378.9 377.1 384.9 377.9 403.5 378.5 424.1 378.8L424.1 378.8L105.1 378.8Z" fill="url(#gA2013)"/><path d="M105.1 378.8 113.1 378.6 119.7 378.3 123 377.8 129 376.4 131.7 376.1 134.3 376.3 142.3 378 149.6 378.6 160.9 378.6 182.2 377.7 186.8 377.4 191.5 376.7 206.1 374.4 211.4 373.2 216.1 371.4 221.4 368.2 224.7 365.7 232 359.3 235.4 357 239.3 354.9 249.3 350.4 253.3 348 256 346.1 258 344.3 266.6 334.7 269.3 332.2 271.9 330.1 275.2 327.8 278.6 326.1 281.2 325.1 283.9 324.8 285.9 325 288.5 326.1 296.5 330.8 305.1 334.9 313.8 339.9 316.4 341.2 320.4 342.4 330.4 344.2 332.4 344.9 335 346.2 341.7 350.5 348.3 355.7 356.3 362.5 363 369.2 365.6 371.5 368.9 373.7 372.3 375.2 375.6 376.3 378.9 377.1 384.9 377.9 403.5 378.5 424.1 378.8" fill="none" stroke="#161616" stroke-width="1.40" stroke-linejoin="round"/><path d="M105.1 418.6 113.7 418.3 118.4 417.7 121 416.7 128.4 412.8 130.4 412.1 132.3 411.7 134.3 411.8 137 412.5 145 416.4 148.3 417.5 153.6 418.2 160.3 418.4 183.5 417.6 192.8 416.8 201.5 415.4 222.7 410.6 226.1 409.3 229.4 407.3 240 399.1 251.3 392.1 255.3 389.3 258 387 260.6 384.5 271.9 371.9 276.6 367.2 279.2 365.1 281.9 363.4 284.5 362.3 286.5 361.9 287.9 362 289.9 362.6 293.2 364.2 303.1 370.9 310.5 375 315.8 379.1 318.4 380.8 320.4 381.6 322.4 382.2 331.1 383.5 333.1 384.1 335.7 385.6 339.7 388.5 343.7 392.2 347.7 396.5 355 404.9 358.3 408.1 361 410.4 364.3 412.8 366.9 414.3 368.9 415.2 371.6 416.1 374.9 416.8 378.9 417.4 383.6 417.8 402.8 418.4 424.1 418.6L424.1 418.6L105.1 418.6Z" fill="url(#gA2012)"/><path d="M105.1 418.6 113.7 418.3 118.4 417.7 121 416.7 128.4 412.8 130.4 412.1 132.3 411.7 134.3 411.8 137 412.5 145 416.4 148.3 417.5 153.6 418.2 160.3 418.4 183.5 417.6 192.8 416.8 201.5 415.4 222.7 410.6 226.1 409.3 229.4 407.3 240 399.1 251.3 392.1 255.3 389.3 258 387 260.6 384.5 271.9 371.9 276.6 367.2 279.2 365.1 281.9 363.4 284.5 362.3 286.5 361.9 287.9 362 289.9 362.6 293.2 364.2 303.1 370.9 310.5 375 315.8 379.1 318.4 380.8 320.4 381.6 322.4 382.2 331.1 383.5 333.1 384.1 335.7 385.6 339.7 388.5 343.7 392.2 347.7 396.5 355 404.9 358.3 408.1 361 410.4 364.3 412.8 366.9 414.3 368.9 415.2 371.6 416.1 374.9 416.8 378.9 417.4 383.6 417.8 402.8 418.4 424.1 418.6" fill="none" stroke="#161616" stroke-width="1.40" stroke-linejoin="round"/><path d="M105.1 458.5 124.4 458.1 136.3 457.3 139.7 457.4 148.3 458 156.9 458.2 182.9 457.3 189.5 456.8 204.1 455 208.8 454.3 212.1 453.6 216.8 452 221.4 449.8 234.7 441.7 245.3 435.6 250.6 431.9 258.6 425.4 262.6 422.4 271.9 417 281.2 410.7 283.2 409.6 285.2 408.9 288.5 408.5 291.2 408.8 297.8 409.8 302.5 410.9 306.5 412.8 314.4 417.4 316.4 418.3 318.4 418.8 319.8 419 321.8 419 328.4 417.8 331.1 417.6 333.7 418 336.4 419.1 339 420.9 341.7 423.4 353 436.3 358.3 441.7 365 448.1 367.6 450.5 370.3 452.4 372.3 453.6 374.9 454.7 377.6 455.6 380.9 456.4 387.5 457.2 405.5 458.1 424.1 458.5L424.1 458.5L105.1 458.5Z" fill="url(#gA2011)"/><path d="M105.1 458.5 124.4 458.1 136.3 457.3 139.7 457.4 148.3 458 156.9 458.2 182.9 457.3 189.5 456.8 204.1 455 208.8 454.3 212.1 453.6 216.8 452 221.4 449.8 234.7 441.7 245.3 435.6 250.6 431.9 258.6 425.4 262.6 422.4 271.9 417 281.2 410.7 283.2 409.6 285.2 408.9 288.5 408.5 291.2 408.8 297.8 409.8 302.5 410.9 306.5 412.8 314.4 417.4 316.4 418.3 318.4 418.8 319.8 419 321.8 419 328.4 417.8 331.1 417.6 333.7 418 336.4 419.1 339 420.9 341.7 423.4 353 436.3 358.3 441.7 365 448.1 367.6 450.5 370.3 452.4 372.3 453.6 374.9 454.7 377.6 455.6 380.9 456.4 387.5 457.2 405.5 458.1 424.1 458.5" fill="none" stroke="#161616" stroke-width="1.40" stroke-linejoin="round"/><path d="M105.1 498.3 124.4 498 141.7 497.4 160.3 498 174.2 498 199.5 496.5 206.8 495.5 213.4 494.1 220.1 491.8 224.1 489.9 227.4 487.5 234 481.6 238 479 241.3 477.5 250 474.9 253.3 473.3 263.9 465.7 273.2 459.6 283.9 451.6 288.5 448.4 291.8 446.4 293.8 445.4 295.8 444.8 297.2 444.7 299.8 445.2 302.5 446.5 305.1 448.5 311.1 453.8 313.1 455.1 315.8 456.4 317.8 457 320.4 457.4 331.1 458 333.7 458.7 337 460.3 341.7 463.7 349.7 470.4 353.7 474.3 363.6 484.9 367.6 488.6 372.3 492.1 375.6 494 378.2 495.3 380.9 496.2 382.9 496.7 388.2 497.3 405.5 498.1 424.1 498.3L424.1 498.3L105.1 498.3Z" fill="url(#gA2010)"/><path d="M105.1 498.3 124.4 498 141.7 497.4 160.3 498 174.2 498 199.5 496.5 206.8 495.5 213.4 494.1 220.1 491.8 224.1 489.9 227.4 487.5 234 481.6 238 479 241.3 477.5 250 474.9 253.3 473.3 263.9 465.7 273.2 459.6 283.9 451.6 288.5 448.4 291.8 446.4 293.8 445.4 295.8 444.8 297.2 444.7 299.8 445.2 302.5 446.5 305.1 448.5 311.1 453.8 313.1 455.1 315.8 456.4 317.8 457 320.4 457.4 331.1 458 333.7 458.7 337 460.3 341.7 463.7 349.7 470.4 353.7 474.3 363.6 484.9 367.6 488.6 372.3 492.1 375.6 494 378.2 495.3 380.9 496.2 382.9 496.7 388.2 497.3 405.5 498.1 424.1 498.3" fill="none" stroke="#161616" stroke-width="1.40" stroke-linejoin="round"/></g>
<rect x="89.50" y="40.60" width="350.50" height="480.60" fill="none" stroke="#858585" stroke-width="1.5"/>
<path d="M105.10 521.20v5.2M131.68 521.20v5.2M158.27 521.20v5.2M184.85 521.20v5.2M211.43 521.20v5.2M238.02 521.20v5.2M264.60 521.20v5.2M291.18 521.20v5.2M317.77 521.20v5.2M344.35 521.20v5.2M370.93 521.20v5.2M397.52 521.20v5.2M424.10 521.20v5.2M89.50 498.30h-5.0M89.50 458.46h-5.0M89.50 418.62h-5.0M89.50 378.78h-5.0M89.50 338.94h-5.0M89.50 299.10h-5.0M89.50 259.26h-5.0M89.50 219.42h-5.0M89.50 179.58h-5.0M89.50 139.74h-5.0M89.50 99.90h-5.0" stroke="#333" stroke-width="1.4" fill="none"/>
<g><text transform="translate(78.60 504.07) scale(0.9620 1)" font-size="16.50" fill="#1f1f1f" stroke="#1f1f1f" text-anchor="end">2010</text><text transform="translate(78.60 464.24) scale(0.9620 1)" font-size="16.50" fill="#1f1f1f" stroke="#1f1f1f" text-anchor="end">2011</text><text transform="translate(78.60 424.39) scale(0.9620 1)" font-size="16.50" fill="#1f1f1f" stroke="#1f1f1f" text-anchor="end">2012</text><text transform="translate(78.60 384.56) scale(0.9620 1)" font-size="16.50" fill="#1f1f1f" stroke="#1f1f1f" text-anchor="end">2013</text><text transform="translate(78.60 344.72) scale(0.9620 1)" font-size="16.50" fill="#1f1f1f" stroke="#1f1f1f" text-anchor="end">2014</text><text transform="translate(78.60 304.88) scale(0.9620 1)" font-size="16.50" fill="#1f1f1f" stroke="#1f1f1f" text-anchor="end">2015</text><text transform="translate(78.60 265.04) scale(0.9620 1)" font-size="16.50" fill="#1f1f1f" stroke="#1f1f1f" text-anchor="end">2016</text><text transform="translate(78.60 225.20) scale(0.9620 1)" font-size="16.50" fill="#1f1f1f" stroke="#1f1f1f" text-anchor="end">2017</text><text transform="translate(78.60 185.36) scale(0.9620 1)" font-size="16.50" fill="#1f1f1f" stroke="#1f1f1f" text-anchor="end">2018</text><text transform="translate(78.60 145.52) scale(0.9620 1)" font-size="16.50" fill="#1f1f1f" stroke="#1f1f1f" text-anchor="end">2019</text><text transform="translate(78.60 105.68) scale(0.9620 1)" font-size="16.50" fill="#1f1f1f" stroke="#1f1f1f" text-anchor="end">2020</text><text transform="translate(105.10 541.25) scale(0.9620 1)" font-size="16.50" fill="#1f1f1f" stroke="#1f1f1f" text-anchor="middle">0</text><text transform="translate(131.68 541.25) scale(0.9620 1)" font-size="16.50" fill="#1f1f1f" stroke="#1f1f1f" text-anchor="middle">10</text><text transform="translate(158.27 541.25) scale(0.9620 1)" font-size="16.50" fill="#1f1f1f" stroke="#1f1f1f" text-anchor="middle">20</text><text transform="translate(184.85 541.25) scale(0.9620 1)" font-size="16.50" fill="#1f1f1f" stroke="#1f1f1f" text-anchor="middle">30</text><text transform="translate(211.43 541.25) scale(0.9620 1)" font-size="16.50" fill="#1f1f1f" stroke="#1f1f1f" text-anchor="middle">40</text><text transform="translate(238.02 541.25) scale(0.9620 1)" font-size="16.50" fill="#1f1f1f" stroke="#1f1f1f" text-anchor="middle">50</text><text transform="translate(264.60 541.25) scale(0.9620 1)" font-size="16.50" fill="#1f1f1f" stroke="#1f1f1f" text-anchor="middle">60</text><text transform="translate(291.18 541.25) scale(0.9620 1)" font-size="16.50" fill="#1f1f1f" stroke="#1f1f1f" text-anchor="middle">70</text><text transform="translate(317.77 541.25) scale(0.9620 1)" font-size="16.50" fill="#1f1f1f" stroke="#1f1f1f" text-anchor="middle">80</text><text transform="translate(344.35 541.25) scale(0.9620 1)" font-size="16.50" fill="#1f1f1f" stroke="#1f1f1f" text-anchor="middle">90</text><text transform="translate(370.93 541.25) scale(0.9620 1)" font-size="16.50" fill="#1f1f1f" stroke="#1f1f1f" text-anchor="middle">100</text><text transform="translate(397.52 541.25) scale(0.9620 1)" font-size="16.50" fill="#1f1f1f" stroke="#1f1f1f" text-anchor="middle">110</text><text transform="translate(424.10 541.25) scale(0.9620 1)" font-size="16.50" fill="#1f1f1f" stroke="#1f1f1f" text-anchor="middle">120</text></g>
<text transform="translate(252.00 561.70) scale(1.0498 1)" font-size="18.50" fill="#000" stroke="#000">Age</text>
<text transform="translate(26.00 279.90) scale(1.0696 1) rotate(-90)" font-size="19.65" fill="#000" stroke="#000" x="-19.94">Year</text>
<text transform="translate(146.83 27.50) scale(0.9969 1)" font-size="19.00" fill="#000" stroke="#000">Total population (incidence)</text>
<text transform="translate(17.85 28.90) scale(1.0000 1)" font-size="30.00" fill="#000" stroke="#000" font-weight="bold">A</text>
<rect x="468.50" y="222.70" width="29.70" height="143.00" fill="url(#legA)"/>
<path d="M468.50 365.70h5.94M492.26 365.70h5.94" stroke="#fff" stroke-width="1" opacity="0.8"/><text transform="translate(506.87 371.47) scale(0.9620 1)" font-size="16.50" fill="#1f1f1f" stroke="#1f1f1f">0.00</text><path d="M468.50 319.72h5.94M492.26 319.72h5.94" stroke="#fff" stroke-width="1" opacity="0.8"/><text transform="translate(506.87 325.49) scale(0.9620 1)" font-size="16.50" fill="#1f1f1f" stroke="#1f1f1f">0.01</text><path d="M468.50 273.74h5.94M492.26 273.74h5.94" stroke="#fff" stroke-width="1" opacity="0.8"/><text transform="translate(506.87 279.51) scale(0.9620 1)" font-size="16.50" fill="#1f1f1f" stroke="#1f1f1f">0.02</text><path d="M468.50 227.76h5.94M492.26 227.76h5.94" stroke="#fff" stroke-width="1" opacity="0.8"/><text transform="translate(506.87 233.53) scale(0.9620 1)" font-size="16.50" fill="#1f1f1f" stroke="#1f1f1f">0.03</text>
<text transform="translate(468.14 211.40) scale(1.0334 1)" font-size="18.30" fill="#000" stroke="#000">density</text>
<rect x="633.70" y="40.80" width="322.90" height="481.00" fill="#fff"/>
<g><line x1="635.53" y1="40.80" x2="635.53" y2="521.80" stroke="#f3f3f3" stroke-width="1.1"/><line x1="647.80" y1="40.80" x2="647.80" y2="521.80" stroke="#ebebeb" stroke-width="1.5"/><line x1="660.07" y1="40.80" x2="660.07" y2="521.80" stroke="#f3f3f3" stroke-width="1.1"/><line x1="672.33" y1="40.80" x2="672.33" y2="521.80" stroke="#ebebeb" stroke-width="1.5"/><line x1="684.60" y1="40.80" x2="684.60" y2="521.80" stroke="#f3f3f3" stroke-width="1.1"/><line x1="696.87" y1="40.80" x2="696.87" y2="521.80" stroke="#ebebeb" stroke-width="1.5"/><line x1="709.13" y1="40.80" x2="709.13" y2="521.80" stroke="#f3f3f3" stroke-width="1.1"/><line x1="721.40" y1="40.80" x2="721.40" y2="521.80" stroke="#ebebeb" stroke-width="1.5"/><line x1="733.67" y1="40.80" x2="733.67" y2="521.80" stroke="#f3f3f3" stroke-width="1.1"/><line x1="745.93" y1="40.80" x2="745.93" y2="521.80" stroke="#ebebeb" stroke-width="1.5"/><line x1="758.20" y1="40.80" x2="758.20" y2="521.80" stroke="#f3f3f3" stroke-width="1.1"/><line x1="770.47" y1="40.80" x2="770.47" y2="521.80" stroke="#ebebeb" stroke-width="1.5"/><line x1="782.73" y1="40.80" x2="782.73" y2="521.80" stroke="#f3f3f3" stroke-width="1.1"/><line x1="795.00" y1="40.80" x2="795.00" y2="521.80" stroke="#ebebeb" stroke-width="1.5"/><line x1="807.27" y1="40.80" x2="807.27" y2="521.80" stroke="#f3f3f3" stroke-width="1.1"/><line x1="819.53" y1="40.80" x2="819.53" y2="521.80" stroke="#ebebeb" stroke-width="1.5"/><line x1="831.80" y1="40.80" x2="831.80" y2="521.80" stroke="#f3f3f3" stroke-width="1.1"/><line x1="844.07" y1="40.80" x2="844.07" y2="521.80" stroke="#ebebeb" stroke-width="1.5"/><line x1="856.33" y1="40.80" x2="856.33" y2="521.80" stroke="#f3f3f3" stroke-width="1.1"/><line x1="868.60" y1="40.80" x2="868.60" y2="521.80" stroke="#ebebeb" stroke-width="1.5"/><line x1="880.87" y1="40.80" x2="880.87" y2="521.80" stroke="#f3f3f3" stroke-width="1.1"/><line x1="893.13" y1="40.80" x2="893.13" y2="521.80" stroke="#ebebeb" stroke-width="1.5"/><line x1="905.40" y1="40.80" x2="905.40" y2="521.80" stroke="#f3f3f3" stroke-width="1.1"/><line x1="917.67" y1="40.80" x2="917.67" y2="521.80" stroke="#ebebeb" stroke-width="1.5"/><line x1="929.93" y1="40.80" x2="929.93" y2="521.80" stroke="#f3f3f3" stroke-width="1.1"/><line x1="942.20" y1="40.80" x2="942.20" y2="521.80" stroke="#ebebeb" stroke-width="1.5"/><line x1="954.47" y1="40.80" x2="954.47" y2="521.80" stroke="#f3f3f3" stroke-width="1.1"/><line x1="633.70" y1="498.30" x2="956.60" y2="498.30" stroke="#ebebeb" stroke-width="1.5"/><line x1="633.70" y1="458.17" x2="956.60" y2="458.17" stroke="#ebebeb" stroke-width="1.5"/><line x1="633.70" y1="418.04" x2="956.60" y2="418.04" stroke="#ebebeb" stroke-width="1.5"/><line x1="633.70" y1="377.91" x2="956.60" y2="377.91" stroke="#ebebeb" stroke-width="1.5"/><line x1="633.70" y1="337.78" x2="956.60" y2="337.78" stroke="#ebebeb" stroke-width="1.5"/><line x1="633.70" y1="297.65" x2="956.60" y2="297.65" stroke="#ebebeb" stroke-width="1.5"/><line x1="633.70" y1="257.52" x2="956.60" y2="257.52" stroke="#ebebeb" stroke-width="1.5"/><line x1="633.70" y1="217.39" x2="956.60" y2="217.39" stroke="#ebebeb" stroke-width="1.5"/><line x1="633.70" y1="177.26" x2="956.60" y2="177.26" stroke="#ebebeb" stroke-width="1.5"/><line x1="633.70" y1="137.13" x2="956.60" y2="137.13" stroke="#ebebeb" stroke-width="1.5"/><line x1="633.70" y1="97.00" x2="956.60" y2="97.00" stroke="#ebebeb" stroke-width="1.5"/></g>
<g clip-path="url(#clipB)"><path d="M647.8 96.9 655.2 96.1 659.5 96 676.6 96.8 697.5 96.9 708.5 96.7 715.3 96.1 722 95.3 726.3 94.3 731.2 92.8 738 90.2 745.3 86.6 752.1 82.8 758.2 78.5 761.9 75.5 764.9 72.5 773.5 62.4 777.8 57.8 786.4 50.1 790.7 46.8 793.2 45.3 795.6 44.4 802.4 43 808.5 41.2 811.6 40.9 813.4 41.2 814.6 41.7 815.9 42.5 817.7 44.2 820.1 47.3 827.5 57.6 833.6 65.6 837.3 69.9 840.4 72.6 842.8 74.3 845.9 75.9 854.5 79.4 857.6 80.9 871.7 89.6 877.8 92.7 881.5 94.2 886.4 95.6 890.1 96.4 893.1 96.8 903.6 97 942.2 97L942.2 97L647.8 97Z" fill="url(#gB2020)"/><path d="M647.8 96.9 655.2 96.1 659.5 96 676.6 96.8 697.5 96.9 708.5 96.7 715.3 96.1 722 95.3 726.3 94.3 731.2 92.8 738 90.2 745.3 86.6 752.1 82.8 758.2 78.5 761.9 75.5 764.9 72.5 773.5 62.4 777.8 57.8 786.4 50.1 790.7 46.8 793.2 45.3 795.6 44.4 802.4 43 808.5 41.2 811.6 40.9 813.4 41.2 814.6 41.7 815.9 42.5 817.7 44.2 820.1 47.3 827.5 57.6 833.6 65.6 837.3 69.9 840.4 72.6 842.8 74.3 845.9 75.9 854.5 79.4 857.6 80.9 871.7 89.6 877.8 92.7 881.5 94.2 886.4 95.6 890.1 96.4 893.1 96.8 903.6 97 942.2 97" fill="none" stroke="#161616" stroke-width="1.20" stroke-linejoin="round"/><path d="M647.8 137 655.2 136.5 660.1 136.4 676 136.9 703.6 137.1 709.1 137 717.1 136.3 725.1 135.2 731.8 133.7 738 131.9 742.3 130.3 745.9 128.6 749 126.9 751.5 125.1 756.4 120.5 769.9 106 772.9 103.2 775.4 101.3 777.8 99.8 784 96.6 791.9 91.6 806.7 83.3 810.3 81.6 812.8 81.2 814.6 81.5 815.9 82 817.1 82.8 818.9 84.4 835.5 104 839.8 108.4 844.1 112.1 846.5 113.9 849.6 115.7 857.6 119.7 861.9 122.1 876 131.1 880.9 133.8 883.9 135 887.6 136.1 890.7 136.7 893.7 137 942.2 137.1L942.2 137.1L647.8 137.1Z" fill="url(#gB2019)"/><path d="M647.8 137 655.2 136.5 660.1 136.4 676 136.9 703.6 137.1 709.1 137 717.1 136.3 725.1 135.2 731.8 133.7 738 131.9 742.3 130.3 745.9 128.6 749 126.9 751.5 125.1 756.4 120.5 769.9 106 772.9 103.2 775.4 101.3 777.8 99.8 784 96.6 791.9 91.6 806.7 83.3 810.3 81.6 812.8 81.2 814.6 81.5 815.9 82 817.1 82.8 818.9 84.4 835.5 104 839.8 108.4 844.1 112.1 846.5 113.9 849.6 115.7 857.6 119.7 861.9 122.1 876 131.1 880.9 133.8 883.9 135 887.6 136.1 890.7 136.7 893.7 137 942.2 137.1" fill="none" stroke="#161616" stroke-width="1.20" stroke-linejoin="round"/><path d="M647.8 177.2 661.3 176.7 677.2 177 693.8 177.2 704.8 177.1 712.2 176.8 718.9 176.2 723.9 175.5 741 171.7 744.1 170.8 747.8 169.1 751.5 166.6 757.6 161.8 763.7 156.3 780.9 138.5 783.3 135.5 788.3 129 790.1 127.1 791.3 126.2 793.2 125.1 795.6 124.4 799.3 124.2 806 124.9 807.9 124.6 812.2 123.2 814.6 122.9 816.5 123.1 818.3 123.7 820.1 124.7 822 126.3 824.4 129.5 829.3 137.5 833 142.9 837.3 147.9 841 151.3 843.5 152.9 845.9 154.1 849 155.1 855.7 156.8 859.4 158.4 863.1 160.9 874.1 169.7 877.8 172.1 880.9 173.7 884.5 175 888.8 176 892.5 176.5 897.4 176.9 906.6 177.2 942.2 177.3L942.2 177.3L647.8 177.3Z" fill="url(#gB2018)"/><path d="M647.8 177.2 661.3 176.7 677.2 177 693.8 177.2 704.8 177.1 712.2 176.8 718.9 176.2 723.9 175.5 741 171.7 744.1 170.8 747.8 169.1 751.5 166.6 757.6 161.8 763.7 156.3 780.9 138.5 783.3 135.5 788.3 129 790.1 127.1 791.3 126.2 793.2 125.1 795.6 124.4 799.3 124.2 806 124.9 807.9 124.6 812.2 123.2 814.6 122.9 816.5 123.1 818.3 123.7 820.1 124.7 822 126.3 824.4 129.5 829.3 137.5 833 142.9 837.3 147.9 841 151.3 843.5 152.9 845.9 154.1 849 155.1 855.7 156.8 859.4 158.4 863.1 160.9 874.1 169.7 877.8 172.1 880.9 173.7 884.5 175 888.8 176 892.5 176.5 897.4 176.9 906.6 177.2 942.2 177.3" fill="none" stroke="#161616" stroke-width="1.20" stroke-linejoin="round"/><path d="M647.8 217.3 661.3 216.9 695 217.3 704.8 217.2 710.4 217 721.4 215.8 729.4 214.6 737.3 212.8 744.7 210.6 748.4 209.2 752.1 207.5 755.7 205.4 758.8 203.3 762.5 200.2 777.2 186.3 784 180.6 793.8 172.8 800.5 168.7 803 167 811.6 159.4 813.4 158.4 815.2 158.1 817.1 158.6 818.9 159.7 820.8 161.3 822.6 163.3 826.9 168.9 836.7 183.1 839.2 186.1 841.6 188.5 843.5 189.8 845.9 191 848.4 191.6 855.7 192.9 857.6 193.6 859.4 194.6 861.2 195.9 863.7 198.1 871.1 205.7 874.7 209.1 878.4 212 881.5 213.8 884.5 215 888.2 216.1 891.9 216.8 895.6 217.1 905.4 217.4 942.2 217.4L942.2 217.4L647.8 217.4Z" fill="url(#gB2017)"/><path d="M647.8 217.3 661.3 216.9 695 217.3 704.8 217.2 710.4 217 721.4 215.8 729.4 214.6 737.3 212.8 744.7 210.6 748.4 209.2 752.1 207.5 755.7 205.4 758.8 203.3 762.5 200.2 777.2 186.3 784 180.6 793.8 172.8 800.5 168.7 803 167 811.6 159.4 813.4 158.4 815.2 158.1 817.1 158.6 818.9 159.7 820.8 161.3 822.6 163.3 826.9 168.9 836.7 183.1 839.2 186.1 841.6 188.5 843.5 189.8 845.9 191 848.4 191.6 855.7 192.9 857.6 193.6 859.4 194.6 861.2 195.9 863.7 198.1 871.1 205.7 874.7 209.1 878.4 212 881.5 213.8 884.5 215 888.2 216.1 891.9 216.8 895.6 217.1 905.4 217.4 942.2 217.4" fill="none" stroke="#161616" stroke-width="1.20" stroke-linejoin="round"/><path d="M647.8 257.5 666.2 256.9 682.8 257.3 696.3 257.4 708.5 256.8 718.9 256 725.7 255.1 736.1 253.1 743.5 251.3 747.8 249.7 753.3 247.1 757 245.1 759.4 243.4 772.3 231.8 775.4 229.5 780.9 225.9 782.7 224.4 784.6 222.6 790.1 216.4 791.9 214.8 793.8 213.4 796.2 212.1 802.4 209.8 810.3 206 812.8 205.2 814.6 205 816.5 205.2 818.9 206 821.4 207.3 823.8 209 828.1 213.1 838.5 224.7 841 227.1 843.5 229.1 845.3 230.3 847.7 231.5 855.7 234.1 859.4 235.9 862.5 238.1 865.5 240.5 876.6 250.6 879.6 252.7 882.7 254.3 885.8 255.4 888.8 256.2 894.4 256.9 917.1 257.3 942.2 257.5L942.2 257.5L647.8 257.5Z" fill="url(#gB2016)"/><path d="M647.8 257.5 666.2 256.9 682.8 257.3 696.3 257.4 708.5 256.8 718.9 256 725.7 255.1 736.1 253.1 743.5 251.3 747.8 249.7 753.3 247.1 757 245.1 759.4 243.4 772.3 231.8 775.4 229.5 780.9 225.9 782.7 224.4 784.6 222.6 790.1 216.4 791.9 214.8 793.8 213.4 796.2 212.1 802.4 209.8 810.3 206 812.8 205.2 814.6 205 816.5 205.2 818.9 206 821.4 207.3 823.8 209 828.1 213.1 838.5 224.7 841 227.1 843.5 229.1 845.3 230.3 847.7 231.5 855.7 234.1 859.4 235.9 862.5 238.1 865.5 240.5 876.6 250.6 879.6 252.7 882.7 254.3 885.8 255.4 888.8 256.2 894.4 256.9 917.1 257.3 942.2 257.5" fill="none" stroke="#161616" stroke-width="1.20" stroke-linejoin="round"/><path d="M647.8 297.6 669.9 297.2 685.8 297.5 697.5 297.5 719.6 296.9 725.7 296.3 740.4 293.9 745.3 292.9 749.6 291.7 752.7 290.6 755.7 289.2 758.2 287.7 760.7 285.9 764.3 282.1 769.9 275.1 772.3 272.4 786.4 260.2 793.8 252.4 796.2 250.2 800.5 247.3 807.3 243.8 809.7 242.7 812.2 242.4 814 242.7 815.9 243.4 817.7 244.5 820.1 246.5 824.4 251.2 832.4 261.1 835.5 264.1 838.5 266.5 841.6 268.5 844.1 269.4 846.5 269.9 852.7 270.4 855.1 270.7 857.6 271.5 859.4 272.4 861.9 274.1 864.9 276.7 874.7 286.7 877.8 289.6 880.9 291.9 884.5 293.8 888.2 295.2 891.3 296 895 296.6 900.5 297.1 913.4 297.5 942.2 297.6L942.2 297.6L647.8 297.6Z" fill="url(#gB2015)"/><path d="M647.8 297.6 669.9 297.2 685.8 297.5 697.5 297.5 719.6 296.9 725.7 296.3 740.4 293.9 745.3 292.9 749.6 291.7 752.7 290.6 755.7 289.2 758.2 287.7 760.7 285.9 764.3 282.1 769.9 275.1 772.3 272.4 786.4 260.2 793.8 252.4 796.2 250.2 800.5 247.3 807.3 243.8 809.7 242.7 812.2 242.4 814 242.7 815.9 243.4 817.7 244.5 820.1 246.5 824.4 251.2 832.4 261.1 835.5 264.1 838.5 266.5 841.6 268.5 844.1 269.4 846.5 269.9 852.7 270.4 855.1 270.7 857.6 271.5 859.4 272.4 861.9 274.1 864.9 276.7 874.7 286.7 877.8 289.6 880.9 291.9 884.5 293.8 888.2 295.2 891.3 296 895 296.6 900.5 297.1 913.4 297.5 942.2 297.6" fill="none" stroke="#161616" stroke-width="1.20" stroke-linejoin="round"/><path d="M647.8 337.8 670.5 337.5 703 337.7 715.9 337.3 723.2 336.8 729.4 336 741.6 333.9 747.8 332.4 750.8 331.2 753.9 329.8 757 328 759.4 326.3 762.5 323.4 771.1 314.4 774.1 311.9 782.1 305.9 789.5 298.5 793.2 295.3 795.6 293.6 801.7 290 807.9 285 810.3 283.3 812.8 282.2 814.6 282 816.5 282.3 818.3 283 820.1 284.1 822 285.5 825.7 289.3 835.5 300.8 837.9 303.3 840.4 305.4 842.8 306.9 844.7 307.6 847.1 308.1 854.5 309.1 856.3 309.7 858.2 310.6 860 311.9 862.5 314.1 871.7 323.5 876 327.4 880.3 330.4 885.2 332.9 889.5 334.5 893.1 335.5 898.7 336.5 904.2 337.1 916.4 337.7 942.2 337.8L942.2 337.8L647.8 337.8Z" fill="url(#gB2014)"/><path d="M647.8 337.8 670.5 337.5 703 337.7 715.9 337.3 723.2 336.8 729.4 336 741.6 333.9 747.8 332.4 750.8 331.2 753.9 329.8 757 328 759.4 326.3 762.5 323.4 771.1 314.4 774.1 311.9 782.1 305.9 789.5 298.5 793.2 295.3 795.6 293.6 801.7 290 807.9 285 810.3 283.3 812.8 282.2 814.6 282 816.5 282.3 818.3 283 820.1 284.1 822 285.5 825.7 289.3 835.5 300.8 837.9 303.3 840.4 305.4 842.8 306.9 844.7 307.6 847.1 308.1 854.5 309.1 856.3 309.7 858.2 310.6 860 311.9 862.5 314.1 871.7 323.5 876 327.4 880.3 330.4 885.2 332.9 889.5 334.5 893.1 335.5 898.7 336.5 904.2 337.1 916.4 337.7 942.2 337.8" fill="none" stroke="#161616" stroke-width="1.20" stroke-linejoin="round"/><path d="M647.8 377.9 661.3 377.4 664.4 377 669.9 375.8 672.3 375.6 675.4 375.9 682.1 377.2 688.9 377.7 707.9 377.7 719.6 377.2 726.9 376.6 734.9 375.5 741 374.2 747.8 372.3 753.3 370.1 757.6 367.6 761.3 364.7 767.4 358.9 770.5 356.4 772.9 354.7 779.7 350.9 782.7 348.8 787 344.9 797.5 333.2 802.4 328.3 805.4 325.9 807.9 324.4 810.3 323.4 812.2 323.1 814.6 323.6 817.1 325 819.5 327 824.4 331.7 826.9 333.8 842.2 344.4 844.1 345.3 845.9 346 854.5 348.1 856.9 349.1 858.8 350.3 862.5 353.3 871.1 362 877.2 367.8 880.9 370.5 884.5 372.4 888.8 373.9 894.4 375.3 900.5 376.5 906 377.2 917.1 377.8 942.2 377.9L942.2 377.9L647.8 377.9Z" fill="url(#gB2013)"/><path d="M647.8 377.9 661.3 377.4 664.4 377 669.9 375.8 672.3 375.6 675.4 375.9 682.1 377.2 688.9 377.7 707.9 377.7 719.6 377.2 726.9 376.6 734.9 375.5 741 374.2 747.8 372.3 753.3 370.1 757.6 367.6 761.3 364.7 767.4 358.9 770.5 356.4 772.9 354.7 779.7 350.9 782.7 348.8 787 344.9 797.5 333.2 802.4 328.3 805.4 325.9 807.9 324.4 810.3 323.4 812.2 323.1 814.6 323.6 817.1 325 819.5 327 824.4 331.7 826.9 333.8 842.2 344.4 844.1 345.3 845.9 346 854.5 348.1 856.9 349.1 858.8 350.3 862.5 353.3 871.1 362 877.2 367.8 880.9 370.5 884.5 372.4 888.8 373.9 894.4 375.3 900.5 376.5 906 377.2 917.1 377.8 942.2 377.9" fill="none" stroke="#161616" stroke-width="1.20" stroke-linejoin="round"/><path d="M647.8 418 655.8 417.8 660.1 417.1 662.5 416.3 669.3 412.8 671.1 412.2 672.9 411.9 674.8 412 676.6 412.4 679.1 413.3 685.2 416.2 688.9 417.2 695.6 417.8 707.3 417.9 722.6 417.2 733.7 415.9 739.2 415 744.1 414 753.9 410.9 757.6 409.5 760 408.1 763.1 406 766.2 403.3 772.9 396.4 780.9 389.2 783.3 386.6 786.4 382.8 792.5 374.3 794.4 372 796.2 370.3 799.9 367.7 807.3 363.3 810.9 361.9 814 361.5 815.9 361.7 817.1 362.1 818.3 362.7 820.1 364 827.5 371.2 833.6 376.8 837.3 379.9 840.4 382.1 842.8 383.4 845.9 384.7 855.1 387.5 858.2 389.3 861.2 392 869.2 400.7 878.4 409.1 882.1 411.9 885.8 413.9 888.8 415.1 892.5 416.2 897.4 417 902.3 417.6 914.6 417.9 942.2 418L942.2 418L647.8 418Z" fill="url(#gB2012)"/><path d="M647.8 418 655.8 417.8 660.1 417.1 662.5 416.3 669.3 412.8 671.1 412.2 672.9 411.9 674.8 412 676.6 412.4 679.1 413.3 685.2 416.2 688.9 417.2 695.6 417.8 707.3 417.9 722.6 417.2 733.7 415.9 739.2 415 744.1 414 753.9 410.9 757.6 409.5 760 408.1 763.1 406 766.2 403.3 772.9 396.4 780.9 389.2 783.3 386.6 786.4 382.8 792.5 374.3 794.4 372 796.2 370.3 799.9 367.7 807.3 363.3 810.9 361.9 814 361.5 815.9 361.7 817.1 362.1 818.3 362.7 820.1 364 827.5 371.2 833.6 376.8 837.3 379.9 840.4 382.1 842.8 383.4 845.9 384.7 855.1 387.5 858.2 389.3 861.2 392 869.2 400.7 878.4 409.1 882.1 411.9 885.8 413.9 888.8 415.1 892.5 416.2 897.4 417 902.3 417.6 914.6 417.9 942.2 418" fill="none" stroke="#161616" stroke-width="1.20" stroke-linejoin="round"/><path d="M647.8 458.2 665 457.8 677.2 457.1 688.3 457.8 700.5 458 708.5 458.1 717.1 457.8 725.1 457.2 733.7 456.1 741.6 454.8 747.8 453.3 751.5 452 754.5 450.7 758.2 448.6 761.3 446.6 764.3 444.2 770.5 439.1 777.8 433.9 786.4 427 788.9 424.8 793.8 420.1 796.2 418.1 810.3 409.8 812.8 408.9 814.6 408.7 817.7 409.4 826.3 412.7 830 414.3 834.3 416.8 841 421.6 843.5 422.8 845.3 423.3 847.1 423.5 855.7 423.3 857.6 423.7 859.4 424.6 862.5 426.9 866.8 430.8 870.4 434.7 878.4 443.9 881.5 446.9 883.9 448.9 887 451.1 890.1 452.9 892.5 454 896.2 455.2 901.1 456.4 905.4 457.1 911.5 457.8 918.9 458.1 942.2 458.2L942.2 458.2L647.8 458.2Z" fill="url(#gB2011)"/><path d="M647.8 458.2 665 457.8 677.2 457.1 688.3 457.8 700.5 458 708.5 458.1 717.1 457.8 725.1 457.2 733.7 456.1 741.6 454.8 747.8 453.3 751.5 452 754.5 450.7 758.2 448.6 761.3 446.6 764.3 444.2 770.5 439.1 777.8 433.9 786.4 427 788.9 424.8 793.8 420.1 796.2 418.1 810.3 409.8 812.8 408.9 814.6 408.7 817.7 409.4 826.3 412.7 830 414.3 834.3 416.8 841 421.6 843.5 422.8 845.3 423.3 847.1 423.5 855.7 423.3 857.6 423.7 859.4 424.6 862.5 426.9 866.8 430.8 870.4 434.7 878.4 443.9 881.5 446.9 883.9 448.9 887 451.1 890.1 452.9 892.5 454 896.2 455.2 901.1 456.4 905.4 457.1 911.5 457.8 918.9 458.1 942.2 458.2" fill="none" stroke="#161616" stroke-width="1.20" stroke-linejoin="round"/><path d="M647.8 498.3 665.6 498 681.5 497.4 704.2 498.1 722.6 497.7 730.6 497.3 736.1 496.7 742.9 495.6 749 494.1 753.3 492.6 758.2 490 763.1 486.5 769.9 480.9 772.3 479.1 775.4 477.3 780.9 474.7 783.3 473.2 786.4 470.8 793.2 464.5 796.8 461.8 806.7 456.6 814 451.8 817.1 450 821.4 448.3 824.4 447.8 826.9 448.1 829.3 449.3 832.4 451.5 838.5 456.6 842.2 458.9 844.1 459.6 845.9 460.1 854.5 461.2 856.3 461.9 857.6 462.6 860 464.4 870.4 473.6 874.1 477.1 880.3 483.6 883.3 486.4 886.4 488.7 889.5 490.8 892.5 492.5 895.6 493.9 899.3 495.4 902.9 496.5 906.6 497.2 911.5 497.8 918.9 498.2 942.2 498.3L942.2 498.3L647.8 498.3Z" fill="url(#gB2010)"/><path d="M647.8 498.3 665.6 498 681.5 497.4 704.2 498.1 722.6 497.7 730.6 497.3 736.1 496.7 742.9 495.6 749 494.1 753.3 492.6 758.2 490 763.1 486.5 769.9 480.9 772.3 479.1 775.4 477.3 780.9 474.7 783.3 473.2 786.4 470.8 793.2 464.5 796.8 461.8 806.7 456.6 814 451.8 817.1 450 821.4 448.3 824.4 447.8 826.9 448.1 829.3 449.3 832.4 451.5 838.5 456.6 842.2 458.9 844.1 459.6 845.9 460.1 854.5 461.2 856.3 461.9 857.6 462.6 860 464.4 870.4 473.6 874.1 477.1 880.3 483.6 883.3 486.4 886.4 488.7 889.5 490.8 892.5 492.5 895.6 493.9 899.3 495.4 902.9 496.5 906.6 497.2 911.5 497.8 918.9 498.2 942.2 498.3" fill="none" stroke="#161616" stroke-width="1.20" stroke-linejoin="round"/></g>
<rect x="633.70" y="40.80" width="322.90" height="481.00" fill="none" stroke="#858585" stroke-width="1.5"/>
<path d="M647.80 521.80v5.2M672.33 521.80v5.2M696.87 521.80v5.2M721.40 521.80v5.2M745.93 521.80v5.2M770.47 521.80v5.2M795.00 521.80v5.2M819.53 521.80v5.2M844.07 521.80v5.2M868.60 521.80v5.2M893.13 521.80v5.2M917.67 521.80v5.2M942.20 521.80v5.2M633.70 498.30h-5.0M633.70 458.17h-5.0M633.70 418.04h-5.0M633.70 377.91h-5.0M633.70 337.78h-5.0M633.70 297.65h-5.0M633.70 257.52h-5.0M633.70 217.39h-5.0M633.70 177.26h-5.0M633.70 137.13h-5.0M633.70 97.00h-5.0" stroke="#333" stroke-width="1.4" fill="none"/>
<g><text transform="translate(623.50 504.07) scale(0.8460 1)" font-size="16.50" fill="#1f1f1f" stroke="#1f1f1f" text-anchor="end">2010</text><text transform="translate(623.50 463.94) scale(0.8460 1)" font-size="16.50" fill="#1f1f1f" stroke="#1f1f1f" text-anchor="end">2011</text><text transform="translate(623.50 423.81) scale(0.8460 1)" font-size="16.50" fill="#1f1f1f" stroke="#1f1f1f" text-anchor="end">2012</text><text transform="translate(623.50 383.68) scale(0.8460 1)" font-size="16.50" fill="#1f1f1f" stroke="#1f1f1f" text-anchor="end">2013</text><text transform="translate(623.50 343.55) scale(0.8460 1)" font-size="16.50" fill="#1f1f1f" stroke="#1f1f1f" text-anchor="end">2014</text><text transform="translate(623.50 303.42) scale(0.8460 1)" font-size="16.50" fill="#1f1f1f" stroke="#1f1f1f" text-anchor="end">2015</text><text transform="translate(623.50 263.29) scale(0.8460 1)" font-size="16.50" fill="#1f1f1f" stroke="#1f1f1f" text-anchor="end">2016</text><text transform="translate(623.50 223.16) scale(0.8460 1)" font-size="16.50" fill="#1f1f1f" stroke="#1f1f1f" text-anchor="end">2017</text><text transform="translate(623.50 183.03) scale(0.8460 1)" font-size="16.50" fill="#1f1f1f" stroke="#1f1f1f" text-anchor="end">2018</text><text transform="translate(623.50 142.91) scale(0.8460 1)" font-size="16.50" fill="#1f1f1f" stroke="#1f1f1f" text-anchor="end">2019</text><text transform="translate(623.50 102.78) scale(0.8460 1)" font-size="16.50" fill="#1f1f1f" stroke="#1f1f1f" text-anchor="end">2020</text><text transform="translate(647.80 540.85) scale(0.8460 1)" font-size="16.50" fill="#1f1f1f" stroke="#1f1f1f" text-anchor="middle">0</text><text transform="translate(672.33 540.85) scale(0.8460 1)" font-size="16.50" fill="#1f1f1f" stroke="#1f1f1f" text-anchor="middle">10</text><text transform="translate(696.87 540.85) scale(0.8460 1)" font-size="16.50" fill="#1f1f1f" stroke="#1f1f1f" text-anchor="middle">20</text><text transform="translate(721.40 540.85) scale(0.8460 1)" font-size="16.50" fill="#1f1f1f" stroke="#1f1f1f" text-anchor="middle">30</text><text transform="translate(745.93 540.85) scale(0.8460 1)" font-size="16.50" fill="#1f1f1f" stroke="#1f1f1f" text-anchor="middle">40</text><text transform="translate(770.47 540.85) scale(0.8460 1)" font-size="16.50" fill="#1f1f1f" stroke="#1f1f1f" text-anchor="middle">50</text><text transform="translate(795.00 540.85) scale(0.8460 1)" font-size="16.50" fill="#1f1f1f" stroke="#1f1f1f" text-anchor="middle">60</text><text transform="translate(819.53 540.85) scale(0.8460 1)" font-size="16.50" fill="#1f1f1f" stroke="#1f1f1f" text-anchor="middle">70</text><text transform="translate(844.07 540.85) scale(0.8460 1)" font-size="16.50" fill="#1f1f1f" stroke="#1f1f1f" text-anchor="middle">80</text><text transform="translate(868.60 540.85) scale(0.8460 1)" font-size="16.50" fill="#1f1f1f" stroke="#1f1f1f" text-anchor="middle">90</text><text transform="translate(893.13 540.85) scale(0.8460 1)" font-size="16.50" fill="#1f1f1f" stroke="#1f1f1f" text-anchor="middle">100</text><text transform="translate(917.67 540.85) scale(0.8460 1)" font-size="16.50" fill="#1f1f1f" stroke="#1f1f1f" text-anchor="middle">110</text><text transform="translate(942.20 540.85) scale(0.8460 1)" font-size="16.50" fill="#1f1f1f" stroke="#1f1f1f" text-anchor="middle">120</text></g>
<text transform="translate(783.61 561.70) scale(0.9467 1)" font-size="18.50" fill="#000" stroke="#000">Age</text>
<text transform="translate(576.40 280.10) scale(0.9293 1) rotate(-90)" font-size="19.49" fill="#000" stroke="#000" x="-19.79">Year</text>
<text transform="translate(744.15 26.90) scale(0.8827 1)" font-size="19.10" fill="#000" stroke="#000">Male (incidence)</text>
<text transform="translate(536.08 28.70) scale(0.9836 1)" font-size="30.00" fill="#000" stroke="#000" font-weight="bold">B</text>
<rect x="981.90" y="222.70" width="26.40" height="143.00" fill="url(#legB)"/>
<path d="M981.90 365.70h5.28M1003.02 365.70h5.28" stroke="#fff" stroke-width="1" opacity="0.8"/><text transform="translate(1016.44 371.47) scale(0.8460 1)" font-size="16.50" fill="#1f1f1f" stroke="#1f1f1f">0.00</text><path d="M981.90 323.14h5.28M1003.02 323.14h5.28" stroke="#fff" stroke-width="1" opacity="0.8"/><text transform="translate(1016.44 328.92) scale(0.8460 1)" font-size="16.50" fill="#1f1f1f" stroke="#1f1f1f">0.01</text><path d="M981.90 280.58h5.28M1003.02 280.58h5.28" stroke="#fff" stroke-width="1" opacity="0.8"/><text transform="translate(1016.44 286.36) scale(0.8460 1)" font-size="16.50" fill="#1f1f1f" stroke="#1f1f1f">0.02</text><path d="M981.90 238.02h5.28M1003.02 238.02h5.28" stroke="#fff" stroke-width="1" opacity="0.8"/><text transform="translate(1016.44 243.80) scale(0.8460 1)" font-size="16.50" fill="#1f1f1f" stroke="#1f1f1f">0.03</text>
<text transform="translate(981.73 211.50) scale(0.9093 1)" font-size="18.30" fill="#000" stroke="#000">density</text>
<rect x="1135.10" y="40.30" width="304.50" height="481.10" fill="#fff"/>
<g><line x1="1137.15" y1="40.30" x2="1137.15" y2="521.40" stroke="#f3f3f3" stroke-width="1.1"/><line x1="1148.70" y1="40.30" x2="1148.70" y2="521.40" stroke="#ebebeb" stroke-width="1.5"/><line x1="1160.25" y1="40.30" x2="1160.25" y2="521.40" stroke="#f3f3f3" stroke-width="1.1"/><line x1="1171.81" y1="40.30" x2="1171.81" y2="521.40" stroke="#ebebeb" stroke-width="1.5"/><line x1="1183.36" y1="40.30" x2="1183.36" y2="521.40" stroke="#f3f3f3" stroke-width="1.1"/><line x1="1194.92" y1="40.30" x2="1194.92" y2="521.40" stroke="#ebebeb" stroke-width="1.5"/><line x1="1206.47" y1="40.30" x2="1206.47" y2="521.40" stroke="#f3f3f3" stroke-width="1.1"/><line x1="1218.03" y1="40.30" x2="1218.03" y2="521.40" stroke="#ebebeb" stroke-width="1.5"/><line x1="1229.58" y1="40.30" x2="1229.58" y2="521.40" stroke="#f3f3f3" stroke-width="1.1"/><line x1="1241.13" y1="40.30" x2="1241.13" y2="521.40" stroke="#ebebeb" stroke-width="1.5"/><line x1="1252.69" y1="40.30" x2="1252.69" y2="521.40" stroke="#f3f3f3" stroke-width="1.1"/><line x1="1264.24" y1="40.30" x2="1264.24" y2="521.40" stroke="#ebebeb" stroke-width="1.5"/><line x1="1275.80" y1="40.30" x2="1275.80" y2="521.40" stroke="#f3f3f3" stroke-width="1.1"/><line x1="1287.35" y1="40.30" x2="1287.35" y2="521.40" stroke="#ebebeb" stroke-width="1.5"/><line x1="1298.90" y1="40.30" x2="1298.90" y2="521.40" stroke="#f3f3f3" stroke-width="1.1"/><line x1="1310.46" y1="40.30" x2="1310.46" y2="521.40" stroke="#ebebeb" stroke-width="1.5"/><line x1="1322.01" y1="40.30" x2="1322.01" y2="521.40" stroke="#f3f3f3" stroke-width="1.1"/><line x1="1333.57" y1="40.30" x2="1333.57" y2="521.40" stroke="#ebebeb" stroke-width="1.5"/><line x1="1345.12" y1="40.30" x2="1345.12" y2="521.40" stroke="#f3f3f3" stroke-width="1.1"/><line x1="1356.67" y1="40.30" x2="1356.67" y2="521.40" stroke="#ebebeb" stroke-width="1.5"/><line x1="1368.23" y1="40.30" x2="1368.23" y2="521.40" stroke="#f3f3f3" stroke-width="1.1"/><line x1="1379.78" y1="40.30" x2="1379.78" y2="521.40" stroke="#ebebeb" stroke-width="1.5"/><line x1="1391.34" y1="40.30" x2="1391.34" y2="521.40" stroke="#f3f3f3" stroke-width="1.1"/><line x1="1402.89" y1="40.30" x2="1402.89" y2="521.40" stroke="#ebebeb" stroke-width="1.5"/><line x1="1414.45" y1="40.30" x2="1414.45" y2="521.40" stroke="#f3f3f3" stroke-width="1.1"/><line x1="1426.00" y1="40.30" x2="1426.00" y2="521.40" stroke="#ebebeb" stroke-width="1.5"/><line x1="1437.55" y1="40.30" x2="1437.55" y2="521.40" stroke="#f3f3f3" stroke-width="1.1"/><line x1="1135.10" y1="498.00" x2="1439.60" y2="498.00" stroke="#ebebeb" stroke-width="1.5"/><line x1="1135.10" y1="457.71" x2="1439.60" y2="457.71" stroke="#ebebeb" stroke-width="1.5"/><line x1="1135.10" y1="417.42" x2="1439.60" y2="417.42" stroke="#ebebeb" stroke-width="1.5"/><line x1="1135.10" y1="377.13" x2="1439.60" y2="377.13" stroke="#ebebeb" stroke-width="1.5"/><line x1="1135.10" y1="336.84" x2="1439.60" y2="336.84" stroke="#ebebeb" stroke-width="1.5"/><line x1="1135.10" y1="296.55" x2="1439.60" y2="296.55" stroke="#ebebeb" stroke-width="1.5"/><line x1="1135.10" y1="256.26" x2="1439.60" y2="256.26" stroke="#ebebeb" stroke-width="1.5"/><line x1="1135.10" y1="215.97" x2="1439.60" y2="215.97" stroke="#ebebeb" stroke-width="1.5"/><line x1="1135.10" y1="175.68" x2="1439.60" y2="175.68" stroke="#ebebeb" stroke-width="1.5"/><line x1="1135.10" y1="135.39" x2="1439.60" y2="135.39" stroke="#ebebeb" stroke-width="1.5"/><line x1="1135.10" y1="95.10" x2="1439.60" y2="95.10" stroke="#ebebeb" stroke-width="1.5"/></g>
<g clip-path="url(#clipC)"><path d="M1148.7 94.5 1155.6 93 1159.7 92.6 1163.1 92.9 1171.8 94.4 1180.5 94.8 1192 94.8 1207 93.6 1213.4 92.4 1227.3 89 1253.8 80.4 1257.9 78.9 1261.4 77.4 1264.2 75.7 1266.6 74 1270.6 70.5 1275.2 65.9 1283.9 56.8 1292 47.9 1295.4 44.5 1297.7 42.7 1299.5 41.7 1301.8 40.9 1304.1 40.7 1307.6 41.1 1313.9 43.2 1316.2 43.6 1319.7 43.7 1327.2 43.1 1330.7 43.4 1334.1 44.4 1338.2 46.7 1342.8 50.2 1347.4 55 1356.1 65.2 1366.5 78.6 1372.3 85.3 1374.6 87.6 1376.9 89.5 1378.6 90.7 1380.9 91.9 1383.8 93 1387.3 93.8 1394.2 94.7 1402.9 95 1426 95.1L1426 95.1L1148.7 95.1Z" fill="url(#gC2020)"/><path d="M1148.7 94.5 1155.6 93 1159.7 92.6 1163.1 92.9 1171.8 94.4 1180.5 94.8 1192 94.8 1207 93.6 1213.4 92.4 1227.3 89 1253.8 80.4 1257.9 78.9 1261.4 77.4 1264.2 75.7 1266.6 74 1270.6 70.5 1275.2 65.9 1283.9 56.8 1292 47.9 1295.4 44.5 1297.7 42.7 1299.5 41.7 1301.8 40.9 1304.1 40.7 1307.6 41.1 1313.9 43.2 1316.2 43.6 1319.7 43.7 1327.2 43.1 1330.7 43.4 1334.1 44.4 1338.2 46.7 1342.8 50.2 1347.4 55 1356.1 65.2 1366.5 78.6 1372.3 85.3 1374.6 87.6 1376.9 89.5 1378.6 90.7 1380.9 91.9 1383.8 93 1387.3 93.8 1394.2 94.7 1402.9 95 1426 95.1" fill="none" stroke="#161616" stroke-width="1.10" stroke-linejoin="round"/><path d="M1148.7 135 1155.6 133.9 1160.8 133.5 1164.9 133.6 1174.7 134.9 1188.6 135.3 1199.5 134.8 1207 134 1210.5 133.3 1219.2 131.1 1236.5 127.3 1240.6 125.9 1248.1 122.2 1253.3 120.1 1256.7 119.1 1264.2 117.8 1268.3 116.6 1271.8 115.1 1274.6 113.3 1277.5 110.9 1280.4 108 1284.5 102.6 1296 85.1 1297.7 82.7 1299.5 80.8 1302.4 78.6 1305.8 76.9 1309.3 75.8 1312.2 75.5 1315.1 75.7 1317.4 76.2 1319.7 77 1322 78 1324.3 79.3 1327.2 81.2 1334.1 87 1336.5 88.6 1339.9 90.4 1347.4 93.2 1349.7 94.5 1351.5 95.8 1353.8 98.1 1356.7 101.7 1359 105.2 1365.9 116.7 1371.1 123.7 1374 127.1 1376.3 129.4 1378.6 131.2 1380.9 132.6 1382.7 133.4 1385 134.2 1387.9 134.8 1390.8 135.1 1426 135.4L1426 135.4L1148.7 135.4Z" fill="url(#gC2019)"/><path d="M1148.7 135 1155.6 133.9 1160.8 133.5 1164.9 133.6 1174.7 134.9 1188.6 135.3 1199.5 134.8 1207 134 1210.5 133.3 1219.2 131.1 1236.5 127.3 1240.6 125.9 1248.1 122.2 1253.3 120.1 1256.7 119.1 1264.2 117.8 1268.3 116.6 1271.8 115.1 1274.6 113.3 1277.5 110.9 1280.4 108 1284.5 102.6 1296 85.1 1297.7 82.7 1299.5 80.8 1302.4 78.6 1305.8 76.9 1309.3 75.8 1312.2 75.5 1315.1 75.7 1317.4 76.2 1319.7 77 1322 78 1324.3 79.3 1327.2 81.2 1334.1 87 1336.5 88.6 1339.9 90.4 1347.4 93.2 1349.7 94.5 1351.5 95.8 1353.8 98.1 1356.7 101.7 1359 105.2 1365.9 116.7 1371.1 123.7 1374 127.1 1376.3 129.4 1378.6 131.2 1380.9 132.6 1382.7 133.4 1385 134.2 1387.9 134.8 1390.8 135.1 1426 135.4" fill="none" stroke="#161616" stroke-width="1.10" stroke-linejoin="round"/><path d="M1148.7 175.5 1157.9 174.6 1165.5 174.4 1169.5 174.5 1178.2 175.2 1185.7 175.5 1192 175.5 1197.8 175.2 1205.3 174.4 1210.5 173.6 1216.3 172.3 1225 169.9 1229 169.1 1233.6 168.7 1240.6 168.9 1243.4 168.8 1247.5 168.2 1251.5 167.1 1255 165.7 1258.5 163.8 1261.9 161.4 1266 158.1 1268.3 155.9 1270.6 153.3 1279.8 141.2 1281.6 139.4 1283.9 137.5 1286.8 135.8 1293.1 133.7 1296 132.2 1299.5 129.6 1306.4 123.2 1310.5 120.4 1314.5 118.7 1316.8 118.2 1318.5 118.1 1321.4 118.4 1323.7 119.3 1326.1 120.6 1331.8 124.8 1334.7 126.5 1337.6 127.7 1345.1 130 1347.4 131.2 1349.7 133 1352.6 136 1356.1 140.7 1359 145.3 1365.9 157 1371.1 164.5 1373.4 167.3 1375.2 169.1 1377.5 171 1379.8 172.4 1382.1 173.4 1385 174.4 1387.9 175 1390.8 175.3 1401.2 175.6 1426 175.7L1426 175.7L1148.7 175.7Z" fill="url(#gC2018)"/><path d="M1148.7 175.5 1157.9 174.6 1165.5 174.4 1169.5 174.5 1178.2 175.2 1185.7 175.5 1192 175.5 1197.8 175.2 1205.3 174.4 1210.5 173.6 1216.3 172.3 1225 169.9 1229 169.1 1233.6 168.7 1240.6 168.9 1243.4 168.8 1247.5 168.2 1251.5 167.1 1255 165.7 1258.5 163.8 1261.9 161.4 1266 158.1 1268.3 155.9 1270.6 153.3 1279.8 141.2 1281.6 139.4 1283.9 137.5 1286.8 135.8 1293.1 133.7 1296 132.2 1299.5 129.6 1306.4 123.2 1310.5 120.4 1314.5 118.7 1316.8 118.2 1318.5 118.1 1321.4 118.4 1323.7 119.3 1326.1 120.6 1331.8 124.8 1334.7 126.5 1337.6 127.7 1345.1 130 1347.4 131.2 1349.7 133 1352.6 136 1356.1 140.7 1359 145.3 1365.9 157 1371.1 164.5 1373.4 167.3 1375.2 169.1 1377.5 171 1379.8 172.4 1382.1 173.4 1385 174.4 1387.9 175 1390.8 175.3 1401.2 175.6 1426 175.7" fill="none" stroke="#161616" stroke-width="1.10" stroke-linejoin="round"/><path d="M1148.7 215.8 1157.9 215 1166 214.7 1171.2 214.8 1181.1 215.5 1188.6 215.8 1197.2 215.7 1207.6 215.1 1218.6 214 1240 211.4 1247.5 210 1253.8 208.4 1257.9 206.9 1261.9 205 1267.7 201.7 1271.2 199.3 1277 194.2 1298.3 172.9 1301.2 170.5 1307 166.1 1311.6 163 1315.7 161.1 1320.3 159.7 1333.6 157.8 1341.7 156.2 1344 156.1 1346.3 156.4 1348.6 157.4 1350.9 159.3 1353.2 162.2 1355.5 165.8 1358.4 171.1 1367.1 189.6 1371.7 198.3 1374.6 202.7 1376.9 205.6 1379.8 208.6 1382.1 210.5 1385 212.2 1388.4 213.7 1391.9 214.5 1396.5 215.3 1404 215.8 1426 216L1426 216L1148.7 216Z" fill="url(#gC2017)"/><path d="M1148.7 215.8 1157.9 215 1166 214.7 1171.2 214.8 1181.1 215.5 1188.6 215.8 1197.2 215.7 1207.6 215.1 1218.6 214 1240 211.4 1247.5 210 1253.8 208.4 1257.9 206.9 1261.9 205 1267.7 201.7 1271.2 199.3 1277 194.2 1298.3 172.9 1301.2 170.5 1307 166.1 1311.6 163 1315.7 161.1 1320.3 159.7 1333.6 157.8 1341.7 156.2 1344 156.1 1346.3 156.4 1348.6 157.4 1350.9 159.3 1353.2 162.2 1355.5 165.8 1358.4 171.1 1367.1 189.6 1371.7 198.3 1374.6 202.7 1376.9 205.6 1379.8 208.6 1382.1 210.5 1385 212.2 1388.4 213.7 1391.9 214.5 1396.5 215.3 1404 215.8 1426 216" fill="none" stroke="#161616" stroke-width="1.10" stroke-linejoin="round"/><path d="M1148.7 256 1157.9 255.3 1166.6 255 1174.1 255.1 1185.1 256 1190.9 256.2 1216.3 255.2 1225 254.5 1233 253.4 1240.6 251.9 1247.5 250 1254.4 247.4 1260.8 244.4 1264.8 242 1274.1 235.8 1282.2 231.4 1286.2 228.9 1291.4 225.2 1295.4 221.6 1298.9 218 1306.4 209.2 1309.9 205.7 1312.8 203.3 1315.1 201.7 1318 200.3 1321.4 199.4 1324.3 199.1 1326.1 199.2 1328.4 199.7 1335.9 202.1 1338.8 202.9 1346.3 204 1348.6 204.5 1351.5 205.7 1353.8 207.4 1356.7 210.5 1359.6 214.9 1361.9 219.2 1369.4 234.3 1371.7 238.4 1374 242 1376.3 245.1 1379.2 248.2 1382.1 250.6 1385 252.5 1387.9 253.9 1390.2 254.7 1393.6 255.4 1397.7 255.9 1404 256.2 1426 256.3L1426 256.3L1148.7 256.3Z" fill="url(#gC2016)"/><path d="M1148.7 256 1157.9 255.3 1166.6 255 1174.1 255.1 1185.1 256 1190.9 256.2 1216.3 255.2 1225 254.5 1233 253.4 1240.6 251.9 1247.5 250 1254.4 247.4 1260.8 244.4 1264.8 242 1274.1 235.8 1282.2 231.4 1286.2 228.9 1291.4 225.2 1295.4 221.6 1298.9 218 1306.4 209.2 1309.9 205.7 1312.8 203.3 1315.1 201.7 1318 200.3 1321.4 199.4 1324.3 199.1 1326.1 199.2 1328.4 199.7 1335.9 202.1 1338.8 202.9 1346.3 204 1348.6 204.5 1351.5 205.7 1353.8 207.4 1356.7 210.5 1359.6 214.9 1361.9 219.2 1369.4 234.3 1371.7 238.4 1374 242 1376.3 245.1 1379.2 248.2 1382.1 250.6 1385 252.5 1387.9 253.9 1390.2 254.7 1393.6 255.4 1397.7 255.9 1404 256.2 1426 256.3" fill="none" stroke="#161616" stroke-width="1.10" stroke-linejoin="round"/><path d="M1148.7 296.4 1159.1 295.7 1168.9 295.6 1174.1 295.6 1189.7 296.5 1207.6 296.2 1233 294.4 1240.6 293.4 1245.8 292.2 1250.4 290.6 1254.4 288.8 1257.9 286.7 1266 281.5 1268.9 279.9 1271.8 278.7 1278.7 276.6 1280.4 275.8 1282.2 274.8 1285 272.3 1292.5 264.5 1304.1 250.5 1307 247.8 1309.9 245.8 1313.3 244.4 1318 243.5 1322 243.3 1329.5 243.9 1333.6 243.5 1335.3 243 1337 242.2 1344.5 237.8 1346.3 237.2 1348 237 1349.7 237.4 1352.1 238.8 1354.4 241.1 1356.7 244.3 1361.3 252.5 1375.7 281.3 1379.8 287.6 1381.5 289.7 1383.8 291.8 1386.1 293.4 1389 294.7 1391.9 295.5 1395.4 296 1402.9 296.5 1426 296.5L1426 296.6L1148.7 296.6Z" fill="url(#gC2015)"/><path d="M1148.7 296.4 1159.1 295.7 1168.9 295.6 1174.1 295.6 1189.7 296.5 1207.6 296.2 1233 294.4 1240.6 293.4 1245.8 292.2 1250.4 290.6 1254.4 288.8 1257.9 286.7 1266 281.5 1268.9 279.9 1271.8 278.7 1278.7 276.6 1280.4 275.8 1282.2 274.8 1285 272.3 1292.5 264.5 1304.1 250.5 1307 247.8 1309.9 245.8 1313.3 244.4 1318 243.5 1322 243.3 1329.5 243.9 1333.6 243.5 1335.3 243 1337 242.2 1344.5 237.8 1346.3 237.2 1348 237 1349.7 237.4 1352.1 238.8 1354.4 241.1 1356.7 244.3 1361.3 252.5 1375.7 281.3 1379.8 287.6 1381.5 289.7 1383.8 291.8 1386.1 293.4 1389 294.7 1391.9 295.5 1395.4 296 1402.9 296.5 1426 296.5" fill="none" stroke="#161616" stroke-width="1.10" stroke-linejoin="round"/><path d="M1148.7 336.7 1170.7 336.4 1191.5 336.8 1215.7 336.2 1223.8 335.5 1227.8 334.8 1231.3 334 1234.8 332.8 1244 329.1 1248.1 327.6 1252.1 326.5 1260.8 324.7 1264.8 323.4 1275.2 318.5 1283.3 315.1 1289.7 311.7 1292.5 309.6 1295.4 306.8 1298.9 302 1304.1 293.4 1307 289.1 1309.9 285.9 1311 285.1 1312.8 284.1 1315.7 283.2 1318.5 283.2 1321.4 283.7 1328.4 285.7 1330.7 286 1333 285.9 1334.7 285.6 1336.5 284.9 1342.2 281.8 1344.5 280.8 1346.3 280.3 1348 280.1 1350.3 280.4 1352.6 281.5 1354.4 282.9 1356.7 285.7 1360.7 292.5 1370 311 1375.2 320.3 1378.1 324.6 1380.4 327.5 1382.7 329.9 1385 331.9 1387.9 333.7 1390.2 334.7 1393.1 335.5 1397.7 336.2 1404.6 336.7 1426 336.8L1426 336.8L1148.7 336.8Z" fill="url(#gC2014)"/><path d="M1148.7 336.7 1170.7 336.4 1191.5 336.8 1215.7 336.2 1223.8 335.5 1227.8 334.8 1231.3 334 1234.8 332.8 1244 329.1 1248.1 327.6 1252.1 326.5 1260.8 324.7 1264.8 323.4 1275.2 318.5 1283.3 315.1 1289.7 311.7 1292.5 309.6 1295.4 306.8 1298.9 302 1304.1 293.4 1307 289.1 1309.9 285.9 1311 285.1 1312.8 284.1 1315.7 283.2 1318.5 283.2 1321.4 283.7 1328.4 285.7 1330.7 286 1333 285.9 1334.7 285.6 1336.5 284.9 1342.2 281.8 1344.5 280.8 1346.3 280.3 1348 280.1 1350.3 280.4 1352.6 281.5 1354.4 282.9 1356.7 285.7 1360.7 292.5 1370 311 1375.2 320.3 1378.1 324.6 1380.4 327.5 1382.7 329.9 1385 331.9 1387.9 333.7 1390.2 334.7 1393.1 335.5 1397.7 336.2 1404.6 336.7 1426 336.8" fill="none" stroke="#161616" stroke-width="1.10" stroke-linejoin="round"/><path d="M1148.7 377 1154.5 376.8 1160.8 376.3 1163.7 375.8 1169.5 374.4 1171.8 374.2 1174.7 374.5 1182.2 376.3 1187.4 376.9 1193.2 377 1203.6 376.7 1210.5 376.2 1234.8 373.7 1240 372.9 1244 372 1246.9 371.1 1249.8 369.8 1263.1 362 1267.7 359.6 1275.2 356.4 1287.3 351.7 1291.4 349.7 1293.7 348.3 1296 346.5 1306.4 336.7 1309.3 334.6 1311.6 333.4 1316.8 331.5 1333 327.4 1342.2 324.2 1345.1 323.5 1347.4 323.3 1350.3 323.6 1352.1 324.1 1353.8 324.9 1357.3 327.3 1360.1 330.2 1363 334 1366.5 339.5 1370 345.7 1375.7 356.8 1379.2 362.5 1381.5 365.7 1383.2 367.7 1385.6 369.9 1387.9 371.8 1390.2 373.2 1393.1 374.5 1397.1 375.8 1400.6 376.5 1407.5 376.9 1426 377.1L1426 377.1L1148.7 377.1Z" fill="url(#gC2013)"/><path d="M1148.7 377 1154.5 376.8 1160.8 376.3 1163.7 375.8 1169.5 374.4 1171.8 374.2 1174.7 374.5 1182.2 376.3 1187.4 376.9 1193.2 377 1203.6 376.7 1210.5 376.2 1234.8 373.7 1240 372.9 1244 372 1246.9 371.1 1249.8 369.8 1263.1 362 1267.7 359.6 1275.2 356.4 1287.3 351.7 1291.4 349.7 1293.7 348.3 1296 346.5 1306.4 336.7 1309.3 334.6 1311.6 333.4 1316.8 331.5 1333 327.4 1342.2 324.2 1345.1 323.5 1347.4 323.3 1350.3 323.6 1352.1 324.1 1353.8 324.9 1357.3 327.3 1360.1 330.2 1363 334 1366.5 339.5 1370 345.7 1375.7 356.8 1379.2 362.5 1381.5 365.7 1383.2 367.7 1385.6 369.9 1387.9 371.8 1390.2 373.2 1393.1 374.5 1397.1 375.8 1400.6 376.5 1407.5 376.9 1426 377.1" fill="none" stroke="#161616" stroke-width="1.10" stroke-linejoin="round"/><path d="M1148.7 417.2 1154.5 416.9 1159.1 416.3 1162 415.3 1168.3 412.2 1170.7 411.5 1172.4 411.3 1174.7 411.5 1177 412.1 1179.3 413 1185.7 416.2 1188 416.9 1190.3 417.2 1195.5 417.3 1207.6 416.9 1221.5 415.9 1234.2 414.1 1240.6 412.7 1244 411.4 1255.6 406 1260.2 404.5 1264.2 403.9 1273.5 403.5 1277.5 402.8 1280.4 401.7 1282.7 400.4 1285.6 398.3 1287.9 396.1 1292 391.3 1298.9 381.2 1301.8 377.3 1304.1 374.9 1307 372.7 1311 370.9 1315.7 369.5 1326.6 367 1333.6 365.9 1337 365.1 1339.9 364 1346.3 360.8 1348.6 360.2 1350.3 360 1352.6 360.3 1354.9 361.3 1357.3 363.2 1359.6 366 1363.6 372.8 1372.9 391.3 1378.1 400.6 1383.2 408.7 1385 410.8 1387.3 413 1389.6 414.5 1392.5 415.8 1395.4 416.5 1398.8 417 1404.6 417.4 1426 417.4L1426 417.4L1148.7 417.4Z" fill="url(#gC2012)"/><path d="M1148.7 417.2 1154.5 416.9 1159.1 416.3 1162 415.3 1168.3 412.2 1170.7 411.5 1172.4 411.3 1174.7 411.5 1177 412.1 1179.3 413 1185.7 416.2 1188 416.9 1190.3 417.2 1195.5 417.3 1207.6 416.9 1221.5 415.9 1234.2 414.1 1240.6 412.7 1244 411.4 1255.6 406 1260.2 404.5 1264.2 403.9 1273.5 403.5 1277.5 402.8 1280.4 401.7 1282.7 400.4 1285.6 398.3 1287.9 396.1 1292 391.3 1298.9 381.2 1301.8 377.3 1304.1 374.9 1307 372.7 1311 370.9 1315.7 369.5 1326.6 367 1333.6 365.9 1337 365.1 1339.9 364 1346.3 360.8 1348.6 360.2 1350.3 360 1352.6 360.3 1354.9 361.3 1357.3 363.2 1359.6 366 1363.6 372.8 1372.9 391.3 1378.1 400.6 1383.2 408.7 1385 410.8 1387.3 413 1389.6 414.5 1392.5 415.8 1395.4 416.5 1398.8 417 1404.6 417.4 1426 417.4" fill="none" stroke="#161616" stroke-width="1.10" stroke-linejoin="round"/><path d="M1148.7 457.6 1162 456.9 1173.5 455.7 1176.4 455.5 1180.5 455.8 1188 457.1 1190.9 457.5 1197.2 457.4 1208.2 457 1224.4 455.8 1230.2 455.1 1236.5 453.9 1243.4 452.1 1263.7 445.4 1275.2 439.9 1283.3 436.6 1287.3 434.4 1291.4 431.6 1296.6 427.2 1300.6 423.2 1307.6 415.4 1310.5 412.4 1313.9 409.5 1316.8 407.8 1319.1 406.8 1322 405.8 1333.6 403.4 1342.8 399.8 1345.1 399.2 1347.4 398.9 1350.3 399.2 1353.2 400.4 1355.5 402.3 1358.4 405.7 1361.3 409.9 1364.8 415.8 1374.6 435.3 1378.1 441.4 1380.4 444.8 1382.7 447.7 1385 450 1387.3 452 1389.6 453.5 1392.5 454.8 1396 455.9 1400 456.7 1403.5 457.1 1409.2 457.4 1426 457.7L1426 457.7L1148.7 457.7Z" fill="url(#gC2011)"/><path d="M1148.7 457.6 1162 456.9 1173.5 455.7 1176.4 455.5 1180.5 455.8 1188 457.1 1190.9 457.5 1197.2 457.4 1208.2 457 1224.4 455.8 1230.2 455.1 1236.5 453.9 1243.4 452.1 1263.7 445.4 1275.2 439.9 1283.3 436.6 1287.3 434.4 1291.4 431.6 1296.6 427.2 1300.6 423.2 1307.6 415.4 1310.5 412.4 1313.9 409.5 1316.8 407.8 1319.1 406.8 1322 405.8 1333.6 403.4 1342.8 399.8 1345.1 399.2 1347.4 398.9 1350.3 399.2 1353.2 400.4 1355.5 402.3 1358.4 405.7 1361.3 409.9 1364.8 415.8 1374.6 435.3 1378.1 441.4 1380.4 444.8 1382.7 447.7 1385 450 1387.3 452 1389.6 453.5 1392.5 454.8 1396 455.9 1400 456.7 1403.5 457.1 1409.2 457.4 1426 457.7" fill="none" stroke="#161616" stroke-width="1.10" stroke-linejoin="round"/><path d="M1148.7 497.9 1164.9 497.1 1178.7 496.1 1182.2 496.3 1188.6 497.5 1192 497.8 1214.6 497 1219.8 496.6 1223.8 495.9 1230.7 494.4 1242.3 491.5 1250.4 489 1260.2 485.3 1263.7 484.2 1266.6 483.6 1275.8 482.5 1280.4 481.3 1282.7 480.4 1285 479.1 1287.3 477.2 1289.7 474.8 1296.6 465.7 1305.3 452.3 1308.7 447.9 1310.5 446.4 1312.2 445.4 1313.9 444.8 1315.7 444.6 1317.4 444.8 1319.1 445.4 1327.8 450.1 1330.1 450.9 1332.4 451.4 1335.3 451.4 1338.2 451 1345.7 448.7 1350.3 447.7 1353.2 447.7 1354.9 448.1 1356.1 448.5 1357.8 449.6 1359.6 451 1361.3 452.8 1363.6 455.8 1367.1 461.2 1375.2 475.4 1379.8 482.2 1384.4 487.6 1386.7 489.7 1389 491.6 1391.9 493.4 1395.4 495.1 1398.8 496.3 1401.7 497 1405.2 497.4 1411.6 497.7 1426 498L1426 498L1148.7 498Z" fill="url(#gC2010)"/><path d="M1148.7 497.9 1164.9 497.1 1178.7 496.1 1182.2 496.3 1188.6 497.5 1192 497.8 1214.6 497 1219.8 496.6 1223.8 495.9 1230.7 494.4 1242.3 491.5 1250.4 489 1260.2 485.3 1263.7 484.2 1266.6 483.6 1275.8 482.5 1280.4 481.3 1282.7 480.4 1285 479.1 1287.3 477.2 1289.7 474.8 1296.6 465.7 1305.3 452.3 1308.7 447.9 1310.5 446.4 1312.2 445.4 1313.9 444.8 1315.7 444.6 1317.4 444.8 1319.1 445.4 1327.8 450.1 1330.1 450.9 1332.4 451.4 1335.3 451.4 1338.2 451 1345.7 448.7 1350.3 447.7 1353.2 447.7 1354.9 448.1 1356.1 448.5 1357.8 449.6 1359.6 451 1361.3 452.8 1363.6 455.8 1367.1 461.2 1375.2 475.4 1379.8 482.2 1384.4 487.6 1386.7 489.7 1389 491.6 1391.9 493.4 1395.4 495.1 1398.8 496.3 1401.7 497 1405.2 497.4 1411.6 497.7 1426 498" fill="none" stroke="#161616" stroke-width="1.10" stroke-linejoin="round"/></g>
<rect x="1135.10" y="40.30" width="304.50" height="481.10" fill="none" stroke="#858585" stroke-width="1.5"/>
<path d="M1148.70 521.40v5.2M1171.81 521.40v5.2M1194.92 521.40v5.2M1218.03 521.40v5.2M1241.13 521.40v5.2M1264.24 521.40v5.2M1287.35 521.40v5.2M1310.46 521.40v5.2M1333.57 521.40v5.2M1356.67 521.40v5.2M1379.78 521.40v5.2M1402.89 521.40v5.2M1426.00 521.40v5.2M1135.10 498.00h-5.0M1135.10 457.71h-5.0M1135.10 417.42h-5.0M1135.10 377.13h-5.0M1135.10 336.84h-5.0M1135.10 296.55h-5.0M1135.10 256.26h-5.0M1135.10 215.97h-5.0M1135.10 175.68h-5.0M1135.10 135.39h-5.0M1135.10 95.10h-5.0" stroke="#333" stroke-width="1.4" fill="none"/>
<g><text transform="translate(1125.60 503.81) scale(0.8320 1)" font-size="16.60" fill="#1f1f1f" stroke="#1f1f1f" text-anchor="end">2010</text><text transform="translate(1125.60 463.52) scale(0.8320 1)" font-size="16.60" fill="#1f1f1f" stroke="#1f1f1f" text-anchor="end">2011</text><text transform="translate(1125.60 423.23) scale(0.8320 1)" font-size="16.60" fill="#1f1f1f" stroke="#1f1f1f" text-anchor="end">2012</text><text transform="translate(1125.60 382.94) scale(0.8320 1)" font-size="16.60" fill="#1f1f1f" stroke="#1f1f1f" text-anchor="end">2013</text><text transform="translate(1125.60 342.65) scale(0.8320 1)" font-size="16.60" fill="#1f1f1f" stroke="#1f1f1f" text-anchor="end">2014</text><text transform="translate(1125.60 302.36) scale(0.8320 1)" font-size="16.60" fill="#1f1f1f" stroke="#1f1f1f" text-anchor="end">2015</text><text transform="translate(1125.60 262.07) scale(0.8320 1)" font-size="16.60" fill="#1f1f1f" stroke="#1f1f1f" text-anchor="end">2016</text><text transform="translate(1125.60 221.78) scale(0.8320 1)" font-size="16.60" fill="#1f1f1f" stroke="#1f1f1f" text-anchor="end">2017</text><text transform="translate(1125.60 181.49) scale(0.8320 1)" font-size="16.60" fill="#1f1f1f" stroke="#1f1f1f" text-anchor="end">2018</text><text transform="translate(1125.60 141.20) scale(0.8320 1)" font-size="16.60" fill="#1f1f1f" stroke="#1f1f1f" text-anchor="end">2019</text><text transform="translate(1125.60 100.91) scale(0.8320 1)" font-size="16.60" fill="#1f1f1f" stroke="#1f1f1f" text-anchor="end">2020</text><text transform="translate(1148.70 540.72) scale(0.8320 1)" font-size="16.60" fill="#5e5e5e" stroke="#5e5e5e" text-anchor="middle">0</text><text transform="translate(1171.81 540.72) scale(0.8320 1)" font-size="16.60" fill="#5e5e5e" stroke="#5e5e5e" text-anchor="middle">10</text><text transform="translate(1194.92 540.72) scale(0.8320 1)" font-size="16.60" fill="#5e5e5e" stroke="#5e5e5e" text-anchor="middle">20</text><text transform="translate(1218.03 540.72) scale(0.8320 1)" font-size="16.60" fill="#5e5e5e" stroke="#5e5e5e" text-anchor="middle">30</text><text transform="translate(1241.13 540.72) scale(0.8320 1)" font-size="16.60" fill="#5e5e5e" stroke="#5e5e5e" text-anchor="middle">40</text><text transform="translate(1264.24 540.72) scale(0.8320 1)" font-size="16.60" fill="#5e5e5e" stroke="#5e5e5e" text-anchor="middle">50</text><text transform="translate(1287.35 540.72) scale(0.8320 1)" font-size="16.60" fill="#5e5e5e" stroke="#5e5e5e" text-anchor="middle">60</text><text transform="translate(1310.46 540.72) scale(0.8320 1)" font-size="16.60" fill="#5e5e5e" stroke="#5e5e5e" text-anchor="middle">70</text><text transform="translate(1333.57 540.72) scale(0.8320 1)" font-size="16.60" fill="#5e5e5e" stroke="#5e5e5e" text-anchor="middle">80</text><text transform="translate(1356.67 540.72) scale(0.8320 1)" font-size="16.60" fill="#5e5e5e" stroke="#5e5e5e" text-anchor="middle">90</text><text transform="translate(1379.78 540.72) scale(0.8320 1)" font-size="16.60" fill="#5e5e5e" stroke="#5e5e5e" text-anchor="middle">100</text><text transform="translate(1402.89 540.72) scale(0.8320 1)" font-size="16.60" fill="#5e5e5e" stroke="#5e5e5e" text-anchor="middle">110</text><text transform="translate(1426.00 540.72) scale(0.8320 1)" font-size="16.60" fill="#5e5e5e" stroke="#5e5e5e" text-anchor="middle">120</text></g>
<text transform="translate(1276.72 561.70) scale(0.8905 1)" font-size="18.50" fill="#000" stroke="#000">Age</text>
<text transform="translate(1079.70 280.00) scale(0.9046 1) rotate(-90)" font-size="19.55" fill="#000" stroke="#000" x="-19.84">Year</text>
<text transform="translate(1221.50 28.70) scale(0.8581 1)" font-size="19.00" fill="#000" stroke="#000">Female (incidence)</text>
<text transform="translate(1052.52 28.90) scale(0.9822 1)" font-size="30.00" fill="#000" stroke="#000" font-weight="bold">C</text>
<rect x="1464.40" y="222.70" width="25.50" height="143.50" fill="url(#legC)"/>
<path d="M1464.40 315.73h5.10M1484.80 315.73h5.10" stroke="#fff" stroke-width="1" opacity="0.8"/><text transform="translate(1497.65 321.54) scale(0.8320 1)" font-size="16.60" fill="#1f1f1f" stroke="#1f1f1f">0.01</text><path d="M1464.40 264.76h5.10M1484.80 264.76h5.10" stroke="#fff" stroke-width="1" opacity="0.8"/><text transform="translate(1497.65 270.57) scale(0.8320 1)" font-size="16.60" fill="#1f1f1f" stroke="#1f1f1f">0.02</text>
<text transform="translate(1463.95 211.40) scale(0.8936 1)" font-size="18.30" fill="#000" stroke="#000">density</text>
<rect x="89.80" y="614.20" width="350.20" height="481.60" fill="#fff"/>
<g><line x1="91.70" y1="614.20" x2="91.70" y2="1095.80" stroke="#f3f3f3" stroke-width="1.1"/><line x1="105.00" y1="614.20" x2="105.00" y2="1095.80" stroke="#ebebeb" stroke-width="1.5"/><line x1="118.30" y1="614.20" x2="118.30" y2="1095.80" stroke="#f3f3f3" stroke-width="1.1"/><line x1="131.59" y1="614.20" x2="131.59" y2="1095.80" stroke="#ebebeb" stroke-width="1.5"/><line x1="144.89" y1="614.20" x2="144.89" y2="1095.80" stroke="#f3f3f3" stroke-width="1.1"/><line x1="158.18" y1="614.20" x2="158.18" y2="1095.80" stroke="#ebebeb" stroke-width="1.5"/><line x1="171.48" y1="614.20" x2="171.48" y2="1095.80" stroke="#f3f3f3" stroke-width="1.1"/><line x1="184.78" y1="614.20" x2="184.78" y2="1095.80" stroke="#ebebeb" stroke-width="1.5"/><line x1="198.07" y1="614.20" x2="198.07" y2="1095.80" stroke="#f3f3f3" stroke-width="1.1"/><line x1="211.37" y1="614.20" x2="211.37" y2="1095.80" stroke="#ebebeb" stroke-width="1.5"/><line x1="224.66" y1="614.20" x2="224.66" y2="1095.80" stroke="#f3f3f3" stroke-width="1.1"/><line x1="237.96" y1="614.20" x2="237.96" y2="1095.80" stroke="#ebebeb" stroke-width="1.5"/><line x1="251.25" y1="614.20" x2="251.25" y2="1095.80" stroke="#f3f3f3" stroke-width="1.1"/><line x1="264.55" y1="614.20" x2="264.55" y2="1095.80" stroke="#ebebeb" stroke-width="1.5"/><line x1="277.85" y1="614.20" x2="277.85" y2="1095.80" stroke="#f3f3f3" stroke-width="1.1"/><line x1="291.14" y1="614.20" x2="291.14" y2="1095.80" stroke="#ebebeb" stroke-width="1.5"/><line x1="304.44" y1="614.20" x2="304.44" y2="1095.80" stroke="#f3f3f3" stroke-width="1.1"/><line x1="317.73" y1="614.20" x2="317.73" y2="1095.80" stroke="#ebebeb" stroke-width="1.5"/><line x1="331.03" y1="614.20" x2="331.03" y2="1095.80" stroke="#f3f3f3" stroke-width="1.1"/><line x1="344.32" y1="614.20" x2="344.32" y2="1095.80" stroke="#ebebeb" stroke-width="1.5"/><line x1="357.62" y1="614.20" x2="357.62" y2="1095.80" stroke="#f3f3f3" stroke-width="1.1"/><line x1="370.92" y1="614.20" x2="370.92" y2="1095.80" stroke="#ebebeb" stroke-width="1.5"/><line x1="384.21" y1="614.20" x2="384.21" y2="1095.80" stroke="#f3f3f3" stroke-width="1.1"/><line x1="397.51" y1="614.20" x2="397.51" y2="1095.80" stroke="#ebebeb" stroke-width="1.5"/><line x1="410.80" y1="614.20" x2="410.80" y2="1095.80" stroke="#f3f3f3" stroke-width="1.1"/><line x1="424.10" y1="614.20" x2="424.10" y2="1095.80" stroke="#ebebeb" stroke-width="1.5"/><line x1="437.40" y1="614.20" x2="437.40" y2="1095.80" stroke="#f3f3f3" stroke-width="1.1"/><line x1="89.80" y1="1072.20" x2="440.00" y2="1072.20" stroke="#ebebeb" stroke-width="1.5"/><line x1="89.80" y1="1032.37" x2="440.00" y2="1032.37" stroke="#ebebeb" stroke-width="1.5"/><line x1="89.80" y1="992.54" x2="440.00" y2="992.54" stroke="#ebebeb" stroke-width="1.5"/><line x1="89.80" y1="952.71" x2="440.00" y2="952.71" stroke="#ebebeb" stroke-width="1.5"/><line x1="89.80" y1="912.88" x2="440.00" y2="912.88" stroke="#ebebeb" stroke-width="1.5"/><line x1="89.80" y1="873.05" x2="440.00" y2="873.05" stroke="#ebebeb" stroke-width="1.5"/><line x1="89.80" y1="833.22" x2="440.00" y2="833.22" stroke="#ebebeb" stroke-width="1.5"/><line x1="89.80" y1="793.39" x2="440.00" y2="793.39" stroke="#ebebeb" stroke-width="1.5"/><line x1="89.80" y1="753.56" x2="440.00" y2="753.56" stroke="#ebebeb" stroke-width="1.5"/><line x1="89.80" y1="713.73" x2="440.00" y2="713.73" stroke="#ebebeb" stroke-width="1.5"/><line x1="89.80" y1="673.90" x2="440.00" y2="673.90" stroke="#ebebeb" stroke-width="1.5"/></g>
<g clip-path="url(#clipD)"><path d="M105 673.8 118.3 673.4 156.9 673.8 174.1 673.7 182.1 672.9 189.4 671.9 196.7 670.3 203.4 668.3 211.4 665.4 217.3 662.7 221.3 660.3 228.7 655.1 234 651 241.9 644.1 247.9 638.7 259.2 628 263.9 624.2 266.5 622.6 277.8 616.9 280.5 616 282.5 615.8 283.8 616 285.8 616.6 287.2 617.3 289.1 618.8 291.8 621.2 297.8 627.6 301.8 631.4 306.4 635.4 309.8 637.6 312.4 638.9 315.7 640.1 327 642.7 329.7 643.8 332.4 645.3 337 649 347 659 352.3 663.7 355.6 666.2 359 668.3 362.3 670.2 364.9 671.4 368.3 672.5 370.9 673.1 378.2 673.7 386.9 673.8 424.1 673.9L424.1 673.9L105 673.9Z" fill="url(#gD2020)"/><path d="M105 673.8 118.3 673.4 156.9 673.8 174.1 673.7 182.1 672.9 189.4 671.9 196.7 670.3 203.4 668.3 211.4 665.4 217.3 662.7 221.3 660.3 228.7 655.1 234 651 241.9 644.1 247.9 638.7 259.2 628 263.9 624.2 266.5 622.6 277.8 616.9 280.5 616 282.5 615.8 283.8 616 285.8 616.6 287.2 617.3 289.1 618.8 291.8 621.2 297.8 627.6 301.8 631.4 306.4 635.4 309.8 637.6 312.4 638.9 315.7 640.1 327 642.7 329.7 643.8 332.4 645.3 337 649 347 659 352.3 663.7 355.6 666.2 359 668.3 362.3 670.2 364.9 671.4 368.3 672.5 370.9 673.1 378.2 673.7 386.9 673.8 424.1 673.9" fill="none" stroke="#161616" stroke-width="1.40" stroke-linejoin="round"/><path d="M105 713.7 118.3 713.3 157.5 713.6 173.5 713.4 182.1 712.5 190.1 711.3 200.1 709.2 207.4 707.2 213.4 704.9 216.7 703.1 219.3 701.3 224 697.5 235.3 687.3 240 683.9 251.3 678 260.6 671.6 271.2 665.7 281.2 658.9 283.8 657.7 286.5 657.2 288.5 657.4 290.5 658 292.5 659.1 295.1 661.2 299.8 665.9 309.8 677.5 312.4 680 314.4 681.4 316.4 682.6 318.4 683.4 326.4 685.1 331 686.4 335 687.7 338.3 689.3 342.3 692.1 355 702.8 359.6 706.5 363.6 709.3 367.6 711.3 370.3 712.3 372.9 712.8 380.9 713.6 424.1 713.7L424.1 713.7L105 713.7Z" fill="url(#gD2019)"/><path d="M105 713.7 118.3 713.3 157.5 713.6 173.5 713.4 182.1 712.5 190.1 711.3 200.1 709.2 207.4 707.2 213.4 704.9 216.7 703.1 219.3 701.3 224 697.5 235.3 687.3 240 683.9 251.3 678 260.6 671.6 271.2 665.7 281.2 658.9 283.8 657.7 286.5 657.2 288.5 657.4 290.5 658 292.5 659.1 295.1 661.2 299.8 665.9 309.8 677.5 312.4 680 314.4 681.4 316.4 682.6 318.4 683.4 326.4 685.1 331 686.4 335 687.7 338.3 689.3 342.3 692.1 355 702.8 359.6 706.5 363.6 709.3 367.6 711.3 370.3 712.3 372.9 712.8 380.9 713.6 424.1 713.7" fill="none" stroke="#161616" stroke-width="1.40" stroke-linejoin="round"/><path d="M105 753.5 119.6 753.2 158.8 753.5 170.1 753.4 176.1 753.1 182.1 752.6 186.8 752 198.1 749.4 208 747.7 212.7 746.6 216.7 745.2 220.7 743.1 229.3 737 234.6 732.8 238.6 729.1 250.6 716.9 259.2 706.7 261.2 704.8 263.2 703.3 265.9 702.1 268.5 701.5 277.8 700.6 284.5 699.6 287.2 699.4 289.8 699.7 291.8 700.4 294.5 701.7 297.1 703.4 301.1 706.8 309.8 715.9 312.4 718 315.1 719.6 317.7 720.7 321.1 721.5 331.7 722.5 334.4 723.5 336.3 724.6 338.3 726.2 340.3 728.1 349 737.9 355 743.8 360.3 748.1 362.9 749.7 365.6 751 368.3 751.9 371.6 752.6 380.2 753.4 424.1 753.6L424.1 753.6L105 753.6Z" fill="url(#gD2018)"/><path d="M105 753.5 119.6 753.2 158.8 753.5 170.1 753.4 176.1 753.1 182.1 752.6 186.8 752 198.1 749.4 208 747.7 212.7 746.6 216.7 745.2 220.7 743.1 229.3 737 234.6 732.8 238.6 729.1 250.6 716.9 259.2 706.7 261.2 704.8 263.2 703.3 265.9 702.1 268.5 701.5 277.8 700.6 284.5 699.6 287.2 699.4 289.8 699.7 291.8 700.4 294.5 701.7 297.1 703.4 301.1 706.8 309.8 715.9 312.4 718 315.1 719.6 317.7 720.7 321.1 721.5 331.7 722.5 334.4 723.5 336.3 724.6 338.3 726.2 340.3 728.1 349 737.9 355 743.8 360.3 748.1 362.9 749.7 365.6 751 368.3 751.9 371.6 752.6 380.2 753.4 424.1 753.6" fill="none" stroke="#161616" stroke-width="1.40" stroke-linejoin="round"/><path d="M105 793.4 121.6 793.1 168.8 793.3 176.8 793.1 184.1 792.5 189.4 791.7 204.1 788.4 210 786.8 215.4 784.7 220.7 781.8 237.3 769.8 249.9 761.2 253.9 758.1 263.2 750.2 265.9 748.6 271.2 746.1 273.9 744.5 283.8 736.6 285.8 735.6 287.8 735.4 289.1 735.6 291.1 736.2 293.1 737.2 295.8 739 302.4 744.9 311.1 753.4 313.1 755 315.1 756.3 317.1 757 319.1 757.4 327 757.2 330.4 757.5 333 758.2 335.7 759.6 337.7 761.1 340.3 763.7 351 776.4 356.3 782 359.6 784.9 362.9 787.4 366.3 789.4 368.9 790.7 371.6 791.7 374.2 792.3 378.2 792.9 382.2 793.2 424.1 793.4L424.1 793.4L105 793.4Z" fill="url(#gD2017)"/><path d="M105 793.4 121.6 793.1 168.8 793.3 176.8 793.1 184.1 792.5 189.4 791.7 204.1 788.4 210 786.8 215.4 784.7 220.7 781.8 237.3 769.8 249.9 761.2 253.9 758.1 263.2 750.2 265.9 748.6 271.2 746.1 273.9 744.5 283.8 736.6 285.8 735.6 287.8 735.4 289.1 735.6 291.1 736.2 293.1 737.2 295.8 739 302.4 744.9 311.1 753.4 313.1 755 315.1 756.3 317.1 757 319.1 757.4 327 757.2 330.4 757.5 333 758.2 335.7 759.6 337.7 761.1 340.3 763.7 351 776.4 356.3 782 359.6 784.9 362.9 787.4 366.3 789.4 368.9 790.7 371.6 791.7 374.2 792.3 378.2 792.9 382.2 793.2 424.1 793.4" fill="none" stroke="#161616" stroke-width="1.40" stroke-linejoin="round"/><path d="M105 833.2 122.9 832.9 158.8 833.1 174.8 832.9 184.8 832.3 192.1 831.5 198.7 830.5 204.1 829.2 215.4 825.5 218.7 824.1 222 822.4 228.7 818.1 238.6 810.3 247.9 804.9 250.6 803.2 257.9 796.9 261.2 794.4 264.6 792.6 271.2 789.5 278.5 784.7 281.8 782.9 285.2 781.6 288.5 781.1 290.5 781.2 292.5 781.7 295.1 782.6 297.8 783.8 301.8 786.1 311.8 792.9 314.4 794.5 317.1 795.7 319.7 796.7 323.1 797.6 331.7 798.8 334.4 799.7 336.3 800.8 338.3 802.3 340.3 804.2 348.3 813.7 352.3 817.8 362.9 826.8 365.6 828.6 368.9 830.2 371.6 831.1 374.9 831.8 378.9 832.4 382.9 832.8 398.8 833.1 424.1 833.2L424.1 833.2L105 833.2Z" fill="url(#gD2016)"/><path d="M105 833.2 122.9 832.9 158.8 833.1 174.8 832.9 184.8 832.3 192.1 831.5 198.7 830.5 204.1 829.2 215.4 825.5 218.7 824.1 222 822.4 228.7 818.1 238.6 810.3 247.9 804.9 250.6 803.2 257.9 796.9 261.2 794.4 264.6 792.6 271.2 789.5 278.5 784.7 281.8 782.9 285.2 781.6 288.5 781.1 290.5 781.2 292.5 781.7 295.1 782.6 297.8 783.8 301.8 786.1 311.8 792.9 314.4 794.5 317.1 795.7 319.7 796.7 323.1 797.6 331.7 798.8 334.4 799.7 336.3 800.8 338.3 802.3 340.3 804.2 348.3 813.7 352.3 817.8 362.9 826.8 365.6 828.6 368.9 830.2 371.6 831.1 374.9 831.8 378.9 832.4 382.9 832.8 398.8 833.1 424.1 833.2" fill="none" stroke="#161616" stroke-width="1.40" stroke-linejoin="round"/><path d="M105 873 128.3 872.8 164.8 872.9 178.1 872.6 187.4 871.9 196.1 870.7 208.7 868.6 216.7 866.7 220 865.6 222.7 864.4 225.3 863 227.3 861.6 236 854.1 243.9 846.1 246.6 844.2 251.9 841.3 255.2 839.1 258.6 836.2 265.2 829.6 269.2 826.5 273.9 823.4 277.2 821.4 279.8 820.3 282.5 819.9 285.2 820.1 287.8 820.9 293.8 823.2 298.5 825.2 303.8 828.1 311.1 833.4 313.1 834.4 315.1 835.1 317.7 835.6 320.4 835.7 329 834.6 331 834.5 333.7 834.9 336.3 836.1 339 837.9 342.3 841.1 352.3 853.7 362.3 864.8 364.9 867.2 366.9 868.7 368.9 869.9 370.9 870.8 373.6 871.6 376.2 872.1 383.5 872.8 424.1 873L424.1 873L105 873Z" fill="url(#gD2015)"/><path d="M105 873 128.3 872.8 164.8 872.9 178.1 872.6 187.4 871.9 196.1 870.7 208.7 868.6 216.7 866.7 220 865.6 222.7 864.4 225.3 863 227.3 861.6 236 854.1 243.9 846.1 246.6 844.2 251.9 841.3 255.2 839.1 258.6 836.2 265.2 829.6 269.2 826.5 273.9 823.4 277.2 821.4 279.8 820.3 282.5 819.9 285.2 820.1 287.8 820.9 293.8 823.2 298.5 825.2 303.8 828.1 311.1 833.4 313.1 834.4 315.1 835.1 317.7 835.6 320.4 835.7 329 834.6 331 834.5 333.7 834.9 336.3 836.1 339 837.9 342.3 841.1 352.3 853.7 362.3 864.8 364.9 867.2 366.9 868.7 368.9 869.9 370.9 870.8 373.6 871.6 376.2 872.1 383.5 872.8 424.1 873" fill="none" stroke="#161616" stroke-width="1.40" stroke-linejoin="round"/><path d="M105 912.9 129.6 912.6 165.5 912.8 179.5 912.4 188.8 911.8 197.4 910.7 205.4 909.3 212 907.7 215.4 906.6 218.7 905.2 222 903.5 225.3 901.4 230.6 897.7 239.3 890.7 249.9 883.5 261.9 874.7 271.9 868.6 279.2 862 281.8 860 283.8 858.8 285.8 857.9 287.8 857.3 289.8 857.2 291.1 857.3 293.1 857.9 295.1 858.8 297.8 860.4 301.8 863.5 311.8 872.6 314.4 874.6 316.4 875.6 319.1 876.3 321.7 876.4 325 876.2 329.7 875.4 331.7 875.4 334.4 876 337 877.2 339.7 879.2 342.3 881.8 356.3 897.3 361.6 902.8 364.3 905.1 366.9 907 368.9 908.3 371.6 909.5 374.9 910.7 378.2 911.5 384.2 912.4 400.8 912.7 424.1 912.9L424.1 912.9L105 912.9Z" fill="url(#gD2014)"/><path d="M105 912.9 129.6 912.6 165.5 912.8 179.5 912.4 188.8 911.8 197.4 910.7 205.4 909.3 212 907.7 215.4 906.6 218.7 905.2 222 903.5 225.3 901.4 230.6 897.7 239.3 890.7 249.9 883.5 261.9 874.7 271.9 868.6 279.2 862 281.8 860 283.8 858.8 285.8 857.9 287.8 857.3 289.8 857.2 291.1 857.3 293.1 857.9 295.1 858.8 297.8 860.4 301.8 863.5 311.8 872.6 314.4 874.6 316.4 875.6 319.1 876.3 321.7 876.4 325 876.2 329.7 875.4 331.7 875.4 334.4 876 337 877.2 339.7 879.2 342.3 881.8 356.3 897.3 361.6 902.8 364.3 905.1 366.9 907 368.9 908.3 371.6 909.5 374.9 910.7 378.2 911.5 384.2 912.4 400.8 912.7 424.1 912.9" fill="none" stroke="#161616" stroke-width="1.40" stroke-linejoin="round"/><path d="M105 952.7 119.6 952.3 128.9 951.1 131.6 950.9 134.9 951.1 142.2 952.1 149.5 952.5 170.8 952.6 180.1 952.3 186.1 951.8 190.8 951.2 208 948.3 215.4 946.6 219.3 945.2 222.7 943.5 226 941.3 233.3 935.4 236.6 933 239.3 931.5 245.3 928.5 248.6 926.4 255.9 920.6 267.2 910.2 273.9 905.1 277.2 903.2 279.8 902.1 282.5 901.4 285.2 901.1 287.2 901.4 289.1 901.9 298.5 906 315.1 911.6 319.7 912.6 330.4 914 333 914.7 336.3 916.2 339 917.7 342.3 920 349.6 925.8 356.3 932 366.3 942.4 369.6 945.5 372.9 947.8 377.6 950 382.2 951.3 387.5 951.8 404.8 952.5 424.1 952.7L424.1 952.7L105 952.7Z" fill="url(#gD2013)"/><path d="M105 952.7 119.6 952.3 128.9 951.1 131.6 950.9 134.9 951.1 142.2 952.1 149.5 952.5 170.8 952.6 180.1 952.3 186.1 951.8 190.8 951.2 208 948.3 215.4 946.6 219.3 945.2 222.7 943.5 226 941.3 233.3 935.4 236.6 933 239.3 931.5 245.3 928.5 248.6 926.4 255.9 920.6 267.2 910.2 273.9 905.1 277.2 903.2 279.8 902.1 282.5 901.4 285.2 901.1 287.2 901.4 289.1 901.9 298.5 906 315.1 911.6 319.7 912.6 330.4 914 333 914.7 336.3 916.2 339 917.7 342.3 920 349.6 925.8 356.3 932 366.3 942.4 369.6 945.5 372.9 947.8 377.6 950 382.2 951.3 387.5 951.8 404.8 952.5 424.1 952.7" fill="none" stroke="#161616" stroke-width="1.40" stroke-linejoin="round"/><path d="M105 992.5 113.6 992.3 118.3 991.6 121 990.7 128.3 987.2 130.3 986.6 132.3 986.2 134.3 986.3 136.2 986.7 138.9 987.7 145.6 990.7 149.5 991.7 156.9 992.3 170.1 992.4 183.4 991.9 194.1 990.9 202.1 989.7 214.7 987.5 219.3 986.6 222.7 985.7 226 984.4 229.3 982.8 232 981.1 235.3 978.5 250.6 964.8 257.2 958.5 266.5 948.8 270.5 945.1 273.9 942.4 277.2 940 280.5 938.2 283.2 937.2 285.8 936.8 287.8 937 289.8 937.5 296.5 940.4 306.4 945.8 316.4 952 319.7 953.5 322.4 954.4 324.4 954.8 331 954.9 333 955.2 335.7 956 337.7 957.1 339.7 958.6 342.3 961.2 351.6 972 362.9 983.9 366.9 987.2 368.9 988.4 370.9 989.4 373.6 990.3 376.9 991.1 380.2 991.7 383.5 992 399.5 992.4 424.1 992.5L424.1 992.5L105 992.5Z" fill="url(#gD2012)"/><path d="M105 992.5 113.6 992.3 118.3 991.6 121 990.7 128.3 987.2 130.3 986.6 132.3 986.2 134.3 986.3 136.2 986.7 138.9 987.7 145.6 990.7 149.5 991.7 156.9 992.3 170.1 992.4 183.4 991.9 194.1 990.9 202.1 989.7 214.7 987.5 219.3 986.6 222.7 985.7 226 984.4 229.3 982.8 232 981.1 235.3 978.5 250.6 964.8 257.2 958.5 266.5 948.8 270.5 945.1 273.9 942.4 277.2 940 280.5 938.2 283.2 937.2 285.8 936.8 287.8 937 289.8 937.5 296.5 940.4 306.4 945.8 316.4 952 319.7 953.5 322.4 954.4 324.4 954.8 331 954.9 333 955.2 335.7 956 337.7 957.1 339.7 958.6 342.3 961.2 351.6 972 362.9 983.9 366.9 987.2 368.9 988.4 370.9 989.4 373.6 990.3 376.9 991.1 380.2 991.7 383.5 992 399.5 992.4 424.1 992.5" fill="none" stroke="#161616" stroke-width="1.40" stroke-linejoin="round"/><path d="M105 1032.4 122.3 1032.1 136.9 1031.4 148.2 1032 156.9 1032.2 171.5 1032.2 182.8 1032 190.1 1031.6 201.4 1030.4 207.4 1029.6 212 1028.6 216 1027.3 220.7 1025.2 245.9 1011 251.3 1007.1 257.9 1001.1 261.2 998.4 279.2 986.4 282.5 984.7 285.2 983.9 288.5 983.5 293.1 983.3 298.5 983.6 302.4 984.3 305.8 985.4 313.1 988.7 317.1 989.6 319.1 989.7 321.1 989.6 327.7 988.1 330.4 987.7 333 987.9 335.7 988.8 339 991 343 994.7 353.6 1007.9 360.9 1015.9 367.6 1022.8 370.3 1025.1 372.2 1026.5 374.9 1028 378.2 1029.4 380.9 1030.3 384.2 1031.1 392.9 1032 400.8 1032.3 424.1 1032.4L424.1 1032.4L105 1032.4Z" fill="url(#gD2011)"/><path d="M105 1032.4 122.3 1032.1 136.9 1031.4 148.2 1032 156.9 1032.2 171.5 1032.2 182.8 1032 190.1 1031.6 201.4 1030.4 207.4 1029.6 212 1028.6 216 1027.3 220.7 1025.2 245.9 1011 251.3 1007.1 257.9 1001.1 261.2 998.4 279.2 986.4 282.5 984.7 285.2 983.9 288.5 983.5 293.1 983.3 298.5 983.6 302.4 984.3 305.8 985.4 313.1 988.7 317.1 989.6 319.1 989.7 321.1 989.6 327.7 988.1 330.4 987.7 333 987.9 335.7 988.8 339 991 343 994.7 353.6 1007.9 360.9 1015.9 367.6 1022.8 370.3 1025.1 372.2 1026.5 374.9 1028 378.2 1029.4 380.9 1030.3 384.2 1031.1 392.9 1032 400.8 1032.3 424.1 1032.4" fill="none" stroke="#161616" stroke-width="1.40" stroke-linejoin="round"/><path d="M105 1072.2 124.3 1071.9 141.6 1071.4 165.5 1072 177.5 1071.9 191.4 1071.3 200.1 1070.7 207.4 1069.8 213.4 1068.5 217.3 1067.1 221.3 1065.3 234 1057.5 237.3 1055.7 240.6 1054.3 248.6 1051.6 251.9 1050.1 256.6 1046.9 272.5 1033.7 282.5 1026.4 286.5 1024 290.5 1022 293.8 1020.8 296.5 1020.4 299.1 1020.7 301.8 1021.9 304.4 1023.6 311.1 1028.8 313.7 1030.2 315.7 1030.9 317.7 1031.3 320.4 1031.3 323.7 1030.8 330.4 1029.5 333 1029.2 335 1029.4 337 1029.8 340.3 1031.3 343.7 1033.7 347.6 1037.8 353.6 1044.8 363.6 1057.3 367.6 1061.7 370.3 1064.1 372.9 1066 375.6 1067.6 378.9 1069.1 381.6 1070.1 384.9 1070.9 393.5 1071.9 400.8 1072.1 424.1 1072.2L424.1 1072.2L105 1072.2Z" fill="url(#gD2010)"/><path d="M105 1072.2 124.3 1071.9 141.6 1071.4 165.5 1072 177.5 1071.9 191.4 1071.3 200.1 1070.7 207.4 1069.8 213.4 1068.5 217.3 1067.1 221.3 1065.3 234 1057.5 237.3 1055.7 240.6 1054.3 248.6 1051.6 251.9 1050.1 256.6 1046.9 272.5 1033.7 282.5 1026.4 286.5 1024 290.5 1022 293.8 1020.8 296.5 1020.4 299.1 1020.7 301.8 1021.9 304.4 1023.6 311.1 1028.8 313.7 1030.2 315.7 1030.9 317.7 1031.3 320.4 1031.3 323.7 1030.8 330.4 1029.5 333 1029.2 335 1029.4 337 1029.8 340.3 1031.3 343.7 1033.7 347.6 1037.8 353.6 1044.8 363.6 1057.3 367.6 1061.7 370.3 1064.1 372.9 1066 375.6 1067.6 378.9 1069.1 381.6 1070.1 384.9 1070.9 393.5 1071.9 400.8 1072.1 424.1 1072.2" fill="none" stroke="#161616" stroke-width="1.40" stroke-linejoin="round"/></g>
<rect x="89.80" y="614.20" width="350.20" height="481.60" fill="none" stroke="#858585" stroke-width="1.5"/>
<path d="M105.00 1095.80v5.2M131.59 1095.80v5.2M158.18 1095.80v5.2M184.78 1095.80v5.2M211.37 1095.80v5.2M237.96 1095.80v5.2M264.55 1095.80v5.2M291.14 1095.80v5.2M317.73 1095.80v5.2M344.32 1095.80v5.2M370.92 1095.80v5.2M397.51 1095.80v5.2M424.10 1095.80v5.2M89.80 1072.20h-5.0M89.80 1032.37h-5.0M89.80 992.54h-5.0M89.80 952.71h-5.0M89.80 912.88h-5.0M89.80 873.05h-5.0M89.80 833.22h-5.0M89.80 793.39h-5.0M89.80 753.56h-5.0M89.80 713.73h-5.0M89.80 673.90h-5.0" stroke="#333" stroke-width="1.4" fill="none"/>
<g><text transform="translate(78.90 1077.98) scale(0.9620 1)" font-size="16.50" fill="#1f1f1f" stroke="#1f1f1f" text-anchor="end">2010</text><text transform="translate(78.90 1038.15) scale(0.9620 1)" font-size="16.50" fill="#1f1f1f" stroke="#1f1f1f" text-anchor="end">2011</text><text transform="translate(78.90 998.32) scale(0.9620 1)" font-size="16.50" fill="#1f1f1f" stroke="#1f1f1f" text-anchor="end">2012</text><text transform="translate(78.90 958.49) scale(0.9620 1)" font-size="16.50" fill="#1f1f1f" stroke="#1f1f1f" text-anchor="end">2013</text><text transform="translate(78.90 918.65) scale(0.9620 1)" font-size="16.50" fill="#1f1f1f" stroke="#1f1f1f" text-anchor="end">2014</text><text transform="translate(78.90 878.82) scale(0.9620 1)" font-size="16.50" fill="#1f1f1f" stroke="#1f1f1f" text-anchor="end">2015</text><text transform="translate(78.90 839.00) scale(0.9620 1)" font-size="16.50" fill="#1f1f1f" stroke="#1f1f1f" text-anchor="end">2016</text><text transform="translate(78.90 799.16) scale(0.9620 1)" font-size="16.50" fill="#1f1f1f" stroke="#1f1f1f" text-anchor="end">2017</text><text transform="translate(78.90 759.33) scale(0.9620 1)" font-size="16.50" fill="#1f1f1f" stroke="#1f1f1f" text-anchor="end">2018</text><text transform="translate(78.90 719.50) scale(0.9620 1)" font-size="16.50" fill="#1f1f1f" stroke="#1f1f1f" text-anchor="end">2019</text><text transform="translate(78.90 679.67) scale(0.9620 1)" font-size="16.50" fill="#1f1f1f" stroke="#1f1f1f" text-anchor="end">2020</text><text transform="translate(105.00 1114.95) scale(0.9620 1)" font-size="16.50" fill="#1f1f1f" stroke="#1f1f1f" text-anchor="middle">0</text><text transform="translate(131.59 1114.95) scale(0.9620 1)" font-size="16.50" fill="#1f1f1f" stroke="#1f1f1f" text-anchor="middle">10</text><text transform="translate(158.18 1114.95) scale(0.9620 1)" font-size="16.50" fill="#1f1f1f" stroke="#1f1f1f" text-anchor="middle">20</text><text transform="translate(184.78 1114.95) scale(0.9620 1)" font-size="16.50" fill="#1f1f1f" stroke="#1f1f1f" text-anchor="middle">30</text><text transform="translate(211.37 1114.95) scale(0.9620 1)" font-size="16.50" fill="#1f1f1f" stroke="#1f1f1f" text-anchor="middle">40</text><text transform="translate(237.96 1114.95) scale(0.9620 1)" font-size="16.50" fill="#1f1f1f" stroke="#1f1f1f" text-anchor="middle">50</text><text transform="translate(264.55 1114.95) scale(0.9620 1)" font-size="16.50" fill="#1f1f1f" stroke="#1f1f1f" text-anchor="middle">60</text><text transform="translate(291.14 1114.95) scale(0.9620 1)" font-size="16.50" fill="#1f1f1f" stroke="#1f1f1f" text-anchor="middle">70</text><text transform="translate(317.73 1114.95) scale(0.9620 1)" font-size="16.50" fill="#1f1f1f" stroke="#1f1f1f" text-anchor="middle">80</text><text transform="translate(344.32 1114.95) scale(0.9620 1)" font-size="16.50" fill="#1f1f1f" stroke="#1f1f1f" text-anchor="middle">90</text><text transform="translate(370.92 1114.95) scale(0.9620 1)" font-size="16.50" fill="#1f1f1f" stroke="#1f1f1f" text-anchor="middle">100</text><text transform="translate(397.51 1114.95) scale(0.9620 1)" font-size="16.50" fill="#1f1f1f" stroke="#1f1f1f" text-anchor="middle">110</text><text transform="translate(424.10 1114.95) scale(0.9620 1)" font-size="16.50" fill="#1f1f1f" stroke="#1f1f1f" text-anchor="middle">120</text></g>
<text transform="translate(252.00 1135.70) scale(1.0436 1)" font-size="18.50" fill="#000" stroke="#000">Age</text>
<text transform="translate(26.00 854.30) scale(1.0696 1) rotate(-90)" font-size="19.65" fill="#000" stroke="#000" x="-19.94">Year</text>
<text transform="translate(140.22 600.80) scale(1.0367 1)" font-size="18.40" fill="#000" stroke="#000">Total population</text>
<text transform="translate(264.68 602.80) scale(1.3853 1)" font-size="18.40" fill="#000" stroke="#000" font-family="Noto Sans CJK SC" font-weight="300" style="stroke:none">（</text>
<text transform="translate(290.97 600.80) scale(1.0254 1)" font-size="18.40" fill="#000" stroke="#000">mortality</text>
<text transform="translate(362.53 602.80) scale(1.3853 1)" font-size="18.40" fill="#000" stroke="#000" font-family="Noto Sans CJK SC" font-weight="300" style="stroke:none">）</text>
<text transform="translate(18.00 587.50) scale(1.0244 1)" font-size="30.00" fill="#000" stroke="#000" font-weight="bold">D</text>
<rect x="468.50" y="796.40" width="29.70" height="143.50" fill="url(#legD)"/>
<path d="M468.50 939.90h5.94M492.26 939.90h5.94" stroke="#fff" stroke-width="1" opacity="0.8"/><text transform="translate(506.87 945.67) scale(0.9620 1)" font-size="16.50" fill="#1f1f1f" stroke="#1f1f1f">0.00</text><path d="M468.50 893.00h5.94M492.26 893.00h5.94" stroke="#fff" stroke-width="1" opacity="0.8"/><text transform="translate(506.87 898.78) scale(0.9620 1)" font-size="16.50" fill="#1f1f1f" stroke="#1f1f1f">0.01</text><path d="M468.50 846.11h5.94M492.26 846.11h5.94" stroke="#fff" stroke-width="1" opacity="0.8"/><text transform="translate(506.87 851.88) scale(0.9620 1)" font-size="16.50" fill="#1f1f1f" stroke="#1f1f1f">0.02</text><path d="M468.50 799.21h5.94M492.26 799.21h5.94" stroke="#fff" stroke-width="1" opacity="0.8"/><text transform="translate(506.87 804.99) scale(0.9620 1)" font-size="16.50" fill="#1f1f1f" stroke="#1f1f1f">0.03</text>
<text transform="translate(468.25 785.60) scale(1.0247 1)" font-size="18.30" fill="#000" stroke="#000">density</text>
<rect x="631.70" y="614.20" width="321.60" height="483.30" fill="#fff"/>
<g><line x1="634.12" y1="614.20" x2="634.12" y2="1097.50" stroke="#f3f3f3" stroke-width="1.1"/><line x1="646.30" y1="614.20" x2="646.30" y2="1097.50" stroke="#ebebeb" stroke-width="1.5"/><line x1="658.48" y1="614.20" x2="658.48" y2="1097.50" stroke="#f3f3f3" stroke-width="1.1"/><line x1="670.66" y1="614.20" x2="670.66" y2="1097.50" stroke="#ebebeb" stroke-width="1.5"/><line x1="682.84" y1="614.20" x2="682.84" y2="1097.50" stroke="#f3f3f3" stroke-width="1.1"/><line x1="695.02" y1="614.20" x2="695.02" y2="1097.50" stroke="#ebebeb" stroke-width="1.5"/><line x1="707.20" y1="614.20" x2="707.20" y2="1097.50" stroke="#f3f3f3" stroke-width="1.1"/><line x1="719.38" y1="614.20" x2="719.38" y2="1097.50" stroke="#ebebeb" stroke-width="1.5"/><line x1="731.55" y1="614.20" x2="731.55" y2="1097.50" stroke="#f3f3f3" stroke-width="1.1"/><line x1="743.73" y1="614.20" x2="743.73" y2="1097.50" stroke="#ebebeb" stroke-width="1.5"/><line x1="755.91" y1="614.20" x2="755.91" y2="1097.50" stroke="#f3f3f3" stroke-width="1.1"/><line x1="768.09" y1="614.20" x2="768.09" y2="1097.50" stroke="#ebebeb" stroke-width="1.5"/><line x1="780.27" y1="614.20" x2="780.27" y2="1097.50" stroke="#f3f3f3" stroke-width="1.1"/><line x1="792.45" y1="614.20" x2="792.45" y2="1097.50" stroke="#ebebeb" stroke-width="1.5"/><line x1="804.63" y1="614.20" x2="804.63" y2="1097.50" stroke="#f3f3f3" stroke-width="1.1"/><line x1="816.81" y1="614.20" x2="816.81" y2="1097.50" stroke="#ebebeb" stroke-width="1.5"/><line x1="828.99" y1="614.20" x2="828.99" y2="1097.50" stroke="#f3f3f3" stroke-width="1.1"/><line x1="841.17" y1="614.20" x2="841.17" y2="1097.50" stroke="#ebebeb" stroke-width="1.5"/><line x1="853.35" y1="614.20" x2="853.35" y2="1097.50" stroke="#f3f3f3" stroke-width="1.1"/><line x1="865.52" y1="614.20" x2="865.52" y2="1097.50" stroke="#ebebeb" stroke-width="1.5"/><line x1="877.70" y1="614.20" x2="877.70" y2="1097.50" stroke="#f3f3f3" stroke-width="1.1"/><line x1="889.88" y1="614.20" x2="889.88" y2="1097.50" stroke="#ebebeb" stroke-width="1.5"/><line x1="902.06" y1="614.20" x2="902.06" y2="1097.50" stroke="#f3f3f3" stroke-width="1.1"/><line x1="914.24" y1="614.20" x2="914.24" y2="1097.50" stroke="#ebebeb" stroke-width="1.5"/><line x1="926.42" y1="614.20" x2="926.42" y2="1097.50" stroke="#f3f3f3" stroke-width="1.1"/><line x1="938.60" y1="614.20" x2="938.60" y2="1097.50" stroke="#ebebeb" stroke-width="1.5"/><line x1="950.78" y1="614.20" x2="950.78" y2="1097.50" stroke="#f3f3f3" stroke-width="1.1"/><line x1="631.70" y1="1074.30" x2="953.30" y2="1074.30" stroke="#ebebeb" stroke-width="1.5"/><line x1="631.70" y1="1034.20" x2="953.30" y2="1034.20" stroke="#ebebeb" stroke-width="1.5"/><line x1="631.70" y1="994.10" x2="953.30" y2="994.10" stroke="#ebebeb" stroke-width="1.5"/><line x1="631.70" y1="954.00" x2="953.30" y2="954.00" stroke="#ebebeb" stroke-width="1.5"/><line x1="631.70" y1="913.90" x2="953.30" y2="913.90" stroke="#ebebeb" stroke-width="1.5"/><line x1="631.70" y1="873.80" x2="953.30" y2="873.80" stroke="#ebebeb" stroke-width="1.5"/><line x1="631.70" y1="833.70" x2="953.30" y2="833.70" stroke="#ebebeb" stroke-width="1.5"/><line x1="631.70" y1="793.60" x2="953.30" y2="793.60" stroke="#ebebeb" stroke-width="1.5"/><line x1="631.70" y1="753.50" x2="953.30" y2="753.50" stroke="#ebebeb" stroke-width="1.5"/><line x1="631.70" y1="713.40" x2="953.30" y2="713.40" stroke="#ebebeb" stroke-width="1.5"/><line x1="631.70" y1="673.30" x2="953.30" y2="673.30" stroke="#ebebeb" stroke-width="1.5"/></g>
<g clip-path="url(#clipE)"><path d="M646.3 673.3 657.9 673 695.6 673.2 709.6 673 716.3 672.4 721.8 671.6 726.7 670.4 734 668 740.1 665.6 746.2 662.6 751 659.7 755.9 656.2 762 650.9 773 639.4 784.5 628.3 787.6 625.6 790.6 623.3 795.5 620.2 802.2 616.8 805.2 615.6 808.3 615.2 810.1 615.3 811.3 615.7 812.5 616.4 813.8 617.5 815.6 619.7 821.7 628.4 827.2 635.7 830.8 639.7 834.5 642.9 837.5 645 839.9 646.4 849.1 649.9 855.2 653.1 860.7 656.7 872.2 665.6 875.9 667.8 880.1 669.9 883.8 671.4 886.8 672.2 890.5 672.7 894.8 673.1 902.7 673.3 938.6 673.3L938.6 673.3L646.3 673.3Z" fill="url(#gE2020)"/><path d="M646.3 673.3 657.9 673 695.6 673.2 709.6 673 716.3 672.4 721.8 671.6 726.7 670.4 734 668 740.1 665.6 746.2 662.6 751 659.7 755.9 656.2 762 650.9 773 639.4 784.5 628.3 787.6 625.6 790.6 623.3 795.5 620.2 802.2 616.8 805.2 615.6 808.3 615.2 810.1 615.3 811.3 615.7 812.5 616.4 813.8 617.5 815.6 619.7 821.7 628.4 827.2 635.7 830.8 639.7 834.5 642.9 837.5 645 839.9 646.4 849.1 649.9 855.2 653.1 860.7 656.7 872.2 665.6 875.9 667.8 880.1 669.9 883.8 671.4 886.8 672.2 890.5 672.7 894.8 673.1 902.7 673.3 938.6 673.3" fill="none" stroke="#161616" stroke-width="1.20" stroke-linejoin="round"/><path d="M646.3 713.4 658.5 713.1 698.7 713.3 710.8 713 718.8 712.3 724.2 711.5 732.2 709.7 738.9 707.7 742.5 706.4 746.2 704.7 749.2 702.9 752.3 700.8 757.7 695.7 768.1 684.6 770.5 682.5 773.6 680.3 794.3 666.5 806.5 659.5 808.9 658.5 811.3 658.1 813.2 658.3 815.6 659.2 818 660.8 819.9 662.5 824.1 667.6 833.3 680.2 836.3 683.7 838.7 685.8 841.8 687.7 849.7 690.4 854.6 692.7 863.1 698 875.3 706.5 878.9 708.6 882 710.1 885 711.3 888.1 712.1 891.1 712.6 896 713 905.7 713.3 938.6 713.4L938.6 713.4L646.3 713.4Z" fill="url(#gE2019)"/><path d="M646.3 713.4 658.5 713.1 698.7 713.3 710.8 713 718.8 712.3 724.2 711.5 732.2 709.7 738.9 707.7 742.5 706.4 746.2 704.7 749.2 702.9 752.3 700.8 757.7 695.7 768.1 684.6 770.5 682.5 773.6 680.3 794.3 666.5 806.5 659.5 808.9 658.5 811.3 658.1 813.2 658.3 815.6 659.2 818 660.8 819.9 662.5 824.1 667.6 833.3 680.2 836.3 683.7 838.7 685.8 841.8 687.7 849.7 690.4 854.6 692.7 863.1 698 875.3 706.5 878.9 708.6 882 710.1 885 711.3 888.1 712.1 891.1 712.6 896 713 905.7 713.3 938.6 713.4" fill="none" stroke="#161616" stroke-width="1.20" stroke-linejoin="round"/><path d="M646.3 753.5 660.9 753.2 698.1 753.4 713.3 752.9 720 752.3 724.9 751.6 734.6 749.3 741.3 747.4 747.4 745 752.3 742.2 758.3 737.7 768.7 729.1 772.4 725.6 775.4 722.1 779.1 717.4 787 706.3 789.4 703.4 791.2 701.8 793.7 700.5 796.1 699.9 799.1 699.8 804.6 700 811.3 698.9 813.2 699.1 815 699.7 816.8 700.6 818.6 702 821.1 704.5 833.3 718.5 836.3 721.5 839.3 724.1 841.8 725.6 844.2 726.6 847.3 727.4 853.3 728.6 855.8 729.5 858.2 730.7 861.3 732.7 864.3 735.1 872.2 742.7 875.9 745.8 880.1 748.6 884.4 750.7 887.4 751.8 889.9 752.4 892.9 752.9 897.8 753.3 905.1 753.4 938.6 753.5L938.6 753.5L646.3 753.5Z" fill="url(#gE2018)"/><path d="M646.3 753.5 660.9 753.2 698.1 753.4 713.3 752.9 720 752.3 724.9 751.6 734.6 749.3 741.3 747.4 747.4 745 752.3 742.2 758.3 737.7 768.7 729.1 772.4 725.6 775.4 722.1 779.1 717.4 787 706.3 789.4 703.4 791.2 701.8 793.7 700.5 796.1 699.9 799.1 699.8 804.6 700 811.3 698.9 813.2 699.1 815 699.7 816.8 700.6 818.6 702 821.1 704.5 833.3 718.5 836.3 721.5 839.3 724.1 841.8 725.6 844.2 726.6 847.3 727.4 853.3 728.6 855.8 729.5 858.2 730.7 861.3 732.7 864.3 735.1 872.2 742.7 875.9 745.8 880.1 748.6 884.4 750.7 887.4 751.8 889.9 752.4 892.9 752.9 897.8 753.3 905.1 753.4 938.6 753.5" fill="none" stroke="#161616" stroke-width="1.20" stroke-linejoin="round"/><path d="M646.3 793.6 660.9 793.3 704.2 793.5 715.1 793.1 722.4 792.4 730.3 791.1 740.1 789 746.8 787 751 785.1 754.7 782.6 757.7 779.7 763.8 772.8 768.1 768.6 773 764.5 782.7 757.3 793.1 748 801.6 742.1 808.9 735.7 810.7 734.6 812.5 734.3 813.8 734.5 815 735.1 816.2 736 818 737.8 819.9 740.1 825.9 749.4 830.2 755.3 833.9 759.7 837.5 763.2 839.3 764.4 841.8 765.4 843.6 765.7 849.7 766 852.1 766.4 854.6 767.1 856.4 768.1 858.8 769.8 861.3 771.9 875.3 785.8 878.3 788.2 881.4 789.8 885 791.3 888.7 792.2 892.9 792.9 897.8 793.3 905.1 793.5 938.6 793.6L938.6 793.6L646.3 793.6Z" fill="url(#gE2017)"/><path d="M646.3 793.6 660.9 793.3 704.2 793.5 715.1 793.1 722.4 792.4 730.3 791.1 740.1 789 746.8 787 751 785.1 754.7 782.6 757.7 779.7 763.8 772.8 768.1 768.6 773 764.5 782.7 757.3 793.1 748 801.6 742.1 808.9 735.7 810.7 734.6 812.5 734.3 813.8 734.5 815 735.1 816.2 736 818 737.8 819.9 740.1 825.9 749.4 830.2 755.3 833.9 759.7 837.5 763.2 839.3 764.4 841.8 765.4 843.6 765.7 849.7 766 852.1 766.4 854.6 767.1 856.4 768.1 858.8 769.8 861.3 771.9 875.3 785.8 878.3 788.2 881.4 789.8 885 791.3 888.7 792.2 892.9 792.9 897.8 793.3 905.1 793.5 938.6 793.6" fill="none" stroke="#161616" stroke-width="1.20" stroke-linejoin="round"/><path d="M646.3 833.7 663.4 833.4 695 833.6 709.6 833.4 718.8 832.9 726.1 832.2 731.6 831.4 735.8 830.2 749.2 825.2 752.3 823.8 754.7 822.3 759 819.1 766.3 812.3 768.7 810.3 777.2 804.8 780.3 802.5 783.3 799.7 790 792.6 793.1 790 796.1 788.1 803.4 784.3 808.3 781.5 810.7 780.5 812.5 780.3 814.4 780.5 816.2 781 818 781.8 819.9 783 822.9 785.6 829 792.1 832 795 836.3 798.6 839.9 801.2 842.4 802.5 845.4 803.9 855.2 807.1 859.4 809.5 861.9 811.4 864.3 813.6 872.2 822.1 875.9 825.6 879.5 828.3 883.8 830.4 886.8 831.6 889.9 832.3 894.1 833 899 833.4 908.2 833.6 938.6 833.7L938.6 833.7L646.3 833.7Z" fill="url(#gE2016)"/><path d="M646.3 833.7 663.4 833.4 695 833.6 709.6 833.4 718.8 832.9 726.1 832.2 731.6 831.4 735.8 830.2 749.2 825.2 752.3 823.8 754.7 822.3 759 819.1 766.3 812.3 768.7 810.3 777.2 804.8 780.3 802.5 783.3 799.7 790 792.6 793.1 790 796.1 788.1 803.4 784.3 808.3 781.5 810.7 780.5 812.5 780.3 814.4 780.5 816.2 781 818 781.8 819.9 783 822.9 785.6 829 792.1 832 795 836.3 798.6 839.9 801.2 842.4 802.5 845.4 803.9 855.2 807.1 859.4 809.5 861.9 811.4 864.3 813.6 872.2 822.1 875.9 825.6 879.5 828.3 883.8 830.4 886.8 831.6 889.9 832.3 894.1 833 899 833.4 908.2 833.6 938.6 833.7" fill="none" stroke="#161616" stroke-width="1.20" stroke-linejoin="round"/><path d="M646.3 873.8 667.6 873.5 697.5 873.7 711.5 873.4 721.2 872.7 740.1 870.4 744.3 869.8 748 868.9 750.4 867.9 752.3 866.8 754.7 864.9 758.3 861.5 762.6 857.1 769.3 848.7 773 845.1 775.4 843.3 780.3 840.4 782.7 838.6 785.8 836 794.3 827.9 799.8 823.5 803.4 821 805.8 819.6 807.7 818.9 809.5 818.6 811.3 818.8 813.2 819.4 815.6 820.6 817.4 821.9 821.1 825.4 830.8 836 833.9 838.6 836.9 840.7 839.3 841.8 841.8 842.6 844.8 843.1 850.9 843.6 853.3 844.1 855.8 845 858.2 846.5 860.7 848.5 863.1 851.1 871.6 862 875.3 866.1 878.9 869.2 882.6 871.2 885 872.1 888.1 872.8 896 873.6 903.9 873.7 938.6 873.8L938.6 873.8L646.3 873.8Z" fill="url(#gE2015)"/><path d="M646.3 873.8 667.6 873.5 697.5 873.7 711.5 873.4 721.2 872.7 740.1 870.4 744.3 869.8 748 868.9 750.4 867.9 752.3 866.8 754.7 864.9 758.3 861.5 762.6 857.1 769.3 848.7 773 845.1 775.4 843.3 780.3 840.4 782.7 838.6 785.8 836 794.3 827.9 799.8 823.5 803.4 821 805.8 819.6 807.7 818.9 809.5 818.6 811.3 818.8 813.2 819.4 815.6 820.6 817.4 821.9 821.1 825.4 830.8 836 833.9 838.6 836.9 840.7 839.3 841.8 841.8 842.6 844.8 843.1 850.9 843.6 853.3 844.1 855.8 845 858.2 846.5 860.7 848.5 863.1 851.1 871.6 862 875.3 866.1 878.9 869.2 882.6 871.2 885 872.1 888.1 872.8 896 873.6 903.9 873.7 938.6 873.8" fill="none" stroke="#161616" stroke-width="1.20" stroke-linejoin="round"/><path d="M646.3 913.9 669.4 913.5 703.5 913.8 717.5 913.4 725.5 912.9 734.6 911.8 741.3 910.6 746.2 909.3 748.6 908.4 751 907.2 755.3 904.3 760.2 899.8 767.5 892.1 770.5 889.2 773.6 886.8 782.7 880.1 791.2 872.3 793.7 870.3 799.1 866.6 804.6 862.1 807.1 860.4 810.1 859 813.2 858.6 815 858.8 816.8 859.3 818.6 860.2 820.5 861.4 823.5 864.2 830.2 871.5 834.5 875.8 838.1 879.1 840.6 880.7 843 881.8 845.4 882.4 852.1 883 854 883.3 856.4 884.2 858.8 885.6 861.9 888 871.6 896.7 882.6 905.9 886.2 908.6 889.9 910.6 892.9 911.7 896 912.5 902.1 913.3 917.9 913.7 938.6 913.9L938.6 913.9L646.3 913.9Z" fill="url(#gE2014)"/><path d="M646.3 913.9 669.4 913.5 703.5 913.8 717.5 913.4 725.5 912.9 734.6 911.8 741.3 910.6 746.2 909.3 748.6 908.4 751 907.2 755.3 904.3 760.2 899.8 767.5 892.1 770.5 889.2 773.6 886.8 782.7 880.1 791.2 872.3 793.7 870.3 799.1 866.6 804.6 862.1 807.1 860.4 810.1 859 813.2 858.6 815 858.8 816.8 859.3 818.6 860.2 820.5 861.4 823.5 864.2 830.2 871.5 834.5 875.8 838.1 879.1 840.6 880.7 843 881.8 845.4 882.4 852.1 883 854 883.3 856.4 884.2 858.8 885.6 861.9 888 871.6 896.7 882.6 905.9 886.2 908.6 889.9 910.6 892.9 911.7 896 912.5 902.1 913.3 917.9 913.7 938.6 913.9" fill="none" stroke="#161616" stroke-width="1.20" stroke-linejoin="round"/><path d="M646.3 954 659.1 953.7 670.7 952.8 682.8 953.6 688.9 953.9 708.4 953.8 721.2 953.5 729.1 953 734.6 952.5 740.7 951.4 745.6 950.1 749.2 948.8 752.3 947.3 755.3 945.5 759 942.9 769.9 933.4 780.3 926.2 784.5 922.7 787.6 919.7 795.5 910.5 801.6 904.9 804.6 902.5 806.5 901.3 808.3 900.5 809.5 900.3 811.3 900.6 813.8 901.7 823.5 908.3 830.2 912.4 836.9 916.8 839.3 918.2 841.2 918.9 843 919.4 849.7 920.2 852.1 920.6 854 921.3 855.8 922.3 860 925.7 869.2 933.8 880.1 944.8 882.6 947.1 885.6 949.3 888.7 950.8 891.1 951.7 894.8 952.6 901.5 953.5 917.3 953.9 938.6 954L938.6 954L646.3 954Z" fill="url(#gE2013)"/><path d="M646.3 954 659.1 953.7 670.7 952.8 682.8 953.6 688.9 953.9 708.4 953.8 721.2 953.5 729.1 953 734.6 952.5 740.7 951.4 745.6 950.1 749.2 948.8 752.3 947.3 755.3 945.5 759 942.9 769.9 933.4 780.3 926.2 784.5 922.7 787.6 919.7 795.5 910.5 801.6 904.9 804.6 902.5 806.5 901.3 808.3 900.5 809.5 900.3 811.3 900.6 813.8 901.7 823.5 908.3 830.2 912.4 836.9 916.8 839.3 918.2 841.2 918.9 843 919.4 849.7 920.2 852.1 920.6 854 921.3 855.8 922.3 860 925.7 869.2 933.8 880.1 944.8 882.6 947.1 885.6 949.3 888.7 950.8 891.1 951.7 894.8 952.6 901.5 953.5 917.3 953.9 938.6 954" fill="none" stroke="#161616" stroke-width="1.20" stroke-linejoin="round"/><path d="M646.3 994.1 654.2 993.8 658.5 993.2 660.9 992.4 667.6 989.1 669.4 988.5 671.3 988.2 673.1 988.3 675.5 988.9 682.8 992.1 685.9 993 690.8 993.7 698.1 994 710.2 993.9 731.6 992.7 744.3 991.3 748.6 990.5 751.6 989.7 755.3 988.1 760.2 985.4 764.4 982.4 768.7 978.8 773.6 974 782.1 964.9 785.8 960.6 791.8 952.7 794.9 949.7 797.3 947.8 803.4 943.7 809.5 939.1 811.3 938.3 813.2 938 815 938.3 816.8 938.9 820.5 941 823.5 943.4 831.4 950.6 836.9 954.8 839.9 956.8 843.6 958.5 852.7 961.3 854.6 962.2 856.4 963.4 863.7 969.5 874.1 979.6 880.7 985.6 885.6 989.5 889.3 991.6 891.7 992.4 894.1 993 900.8 993.8 938.6 994.1L938.6 994.1L646.3 994.1Z" fill="url(#gE2012)"/><path d="M646.3 994.1 654.2 993.8 658.5 993.2 660.9 992.4 667.6 989.1 669.4 988.5 671.3 988.2 673.1 988.3 675.5 988.9 682.8 992.1 685.9 993 690.8 993.7 698.1 994 710.2 993.9 731.6 992.7 744.3 991.3 748.6 990.5 751.6 989.7 755.3 988.1 760.2 985.4 764.4 982.4 768.7 978.8 773.6 974 782.1 964.9 785.8 960.6 791.8 952.7 794.9 949.7 797.3 947.8 803.4 943.7 809.5 939.1 811.3 938.3 813.2 938 815 938.3 816.8 938.9 820.5 941 823.5 943.4 831.4 950.6 836.9 954.8 839.9 956.8 843.6 958.5 852.7 961.3 854.6 962.2 856.4 963.4 863.7 969.5 874.1 979.6 880.7 985.6 885.6 989.5 889.3 991.6 891.7 992.4 894.1 993 900.8 993.8 938.6 994.1" fill="none" stroke="#161616" stroke-width="1.20" stroke-linejoin="round"/><path d="M646.3 1034.2 661.5 1033.9 674.9 1033.4 693.8 1034 715.1 1033.7 723.6 1033.3 732.8 1032.4 739.5 1031.5 743.7 1030.6 748 1028.9 754.7 1025.2 759.6 1021.9 768.1 1015.6 774.2 1012.1 776.6 1010.5 782.1 1006 792.5 996 795.5 993.5 799.8 990.5 804 987.7 807.1 986 809.5 985.1 811.3 984.9 815 985.4 822.3 987 825.3 987.9 829.6 989.8 837.5 994.1 839.9 995.1 841.8 995.4 843.6 995.4 852.1 994.7 854.6 995.1 856.4 996 859.4 998.3 863.1 1002.1 868 1007.9 875.3 1017.2 878.9 1021.2 882 1024 886.8 1027.8 889.3 1029.4 891.7 1030.5 894.8 1031.5 899 1032.3 910 1033.7 918.5 1034 938.6 1034.2L938.6 1034.2L646.3 1034.2Z" fill="url(#gE2011)"/><path d="M646.3 1034.2 661.5 1033.9 674.9 1033.4 693.8 1034 715.1 1033.7 723.6 1033.3 732.8 1032.4 739.5 1031.5 743.7 1030.6 748 1028.9 754.7 1025.2 759.6 1021.9 768.1 1015.6 774.2 1012.1 776.6 1010.5 782.1 1006 792.5 996 795.5 993.5 799.8 990.5 804 987.7 807.1 986 809.5 985.1 811.3 984.9 815 985.4 822.3 987 825.3 987.9 829.6 989.8 837.5 994.1 839.9 995.1 841.8 995.4 843.6 995.4 852.1 994.7 854.6 995.1 856.4 996 859.4 998.3 863.1 1002.1 868 1007.9 875.3 1017.2 878.9 1021.2 882 1024 886.8 1027.8 889.3 1029.4 891.7 1030.5 894.8 1031.5 899 1032.3 910 1033.7 918.5 1034 938.6 1034.2" fill="none" stroke="#161616" stroke-width="1.20" stroke-linejoin="round"/><path d="M646.3 1074.3 679.8 1073.6 701.7 1074.1 712.7 1074 726.7 1073.4 733.4 1073 739.5 1072.2 745 1070.9 749.2 1069.4 754.1 1066.9 759 1063.7 766.3 1058.2 769.3 1056.2 773 1054.6 779.1 1052.6 782.1 1051 785.1 1048.5 794.3 1039.6 797.9 1036.2 801.6 1033.4 807.7 1029.5 811.3 1027.4 814.4 1026.1 818 1025 821.1 1024.5 823.5 1024.9 826.6 1026.3 829 1028.2 834.5 1033.2 836.3 1034.5 838.7 1035.6 841.2 1036.1 843.6 1036.1 846.6 1035.7 851.5 1034.8 853.3 1034.7 854.6 1034.8 856.4 1035.3 859.4 1036.8 863.1 1039.7 868.6 1045 880.1 1057.9 887.4 1065.5 891.1 1068.4 895.4 1070.6 898.4 1071.7 901.5 1072.5 905.7 1073.3 910.6 1073.9 917.3 1074.2 938.6 1074.3L938.6 1074.3L646.3 1074.3Z" fill="url(#gE2010)"/><path d="M646.3 1074.3 679.8 1073.6 701.7 1074.1 712.7 1074 726.7 1073.4 733.4 1073 739.5 1072.2 745 1070.9 749.2 1069.4 754.1 1066.9 759 1063.7 766.3 1058.2 769.3 1056.2 773 1054.6 779.1 1052.6 782.1 1051 785.1 1048.5 794.3 1039.6 797.9 1036.2 801.6 1033.4 807.7 1029.5 811.3 1027.4 814.4 1026.1 818 1025 821.1 1024.5 823.5 1024.9 826.6 1026.3 829 1028.2 834.5 1033.2 836.3 1034.5 838.7 1035.6 841.2 1036.1 843.6 1036.1 846.6 1035.7 851.5 1034.8 853.3 1034.7 854.6 1034.8 856.4 1035.3 859.4 1036.8 863.1 1039.7 868.6 1045 880.1 1057.9 887.4 1065.5 891.1 1068.4 895.4 1070.6 898.4 1071.7 901.5 1072.5 905.7 1073.3 910.6 1073.9 917.3 1074.2 938.6 1074.3" fill="none" stroke="#161616" stroke-width="1.20" stroke-linejoin="round"/></g>
<rect x="631.70" y="614.20" width="321.60" height="483.30" fill="none" stroke="#858585" stroke-width="1.5"/>
<path d="M646.30 1097.50v5.2M670.66 1097.50v5.2M695.02 1097.50v5.2M719.38 1097.50v5.2M743.73 1097.50v5.2M768.09 1097.50v5.2M792.45 1097.50v5.2M816.81 1097.50v5.2M841.17 1097.50v5.2M865.52 1097.50v5.2M889.88 1097.50v5.2M914.24 1097.50v5.2M938.60 1097.50v5.2M631.70 1074.30h-5.0M631.70 1034.20h-5.0M631.70 994.10h-5.0M631.70 954.00h-5.0M631.70 913.90h-5.0M631.70 873.80h-5.0M631.70 833.70h-5.0M631.70 793.60h-5.0M631.70 753.50h-5.0M631.70 713.40h-5.0M631.70 673.30h-5.0" stroke="#333" stroke-width="1.4" fill="none"/>
<g><text transform="translate(622.20 1080.18) scale(0.8650 1)" font-size="16.80" fill="#1f1f1f" stroke="#1f1f1f" text-anchor="end">2010</text><text transform="translate(622.20 1040.08) scale(0.8650 1)" font-size="16.80" fill="#1f1f1f" stroke="#1f1f1f" text-anchor="end">2011</text><text transform="translate(622.20 999.98) scale(0.8650 1)" font-size="16.80" fill="#1f1f1f" stroke="#1f1f1f" text-anchor="end">2012</text><text transform="translate(622.20 959.88) scale(0.8650 1)" font-size="16.80" fill="#1f1f1f" stroke="#1f1f1f" text-anchor="end">2013</text><text transform="translate(619.60 919.78) scale(0.8650 1)" font-size="16.80" fill="#1f1f1f" stroke="#1f1f1f" text-anchor="end">2014</text><text transform="translate(619.60 879.68) scale(0.8650 1)" font-size="16.80" fill="#1f1f1f" stroke="#1f1f1f" text-anchor="end">2015</text><text transform="translate(619.60 839.58) scale(0.8650 1)" font-size="16.80" fill="#1f1f1f" stroke="#1f1f1f" text-anchor="end">2016</text><text transform="translate(619.60 799.48) scale(0.8650 1)" font-size="16.80" fill="#1f1f1f" stroke="#1f1f1f" text-anchor="end">2017</text><text transform="translate(619.60 759.38) scale(0.8650 1)" font-size="16.80" fill="#1f1f1f" stroke="#1f1f1f" text-anchor="end">2018</text><text transform="translate(619.60 719.28) scale(0.8650 1)" font-size="16.80" fill="#1f1f1f" stroke="#1f1f1f" text-anchor="end">2019</text><text transform="translate(619.60 679.18) scale(0.8650 1)" font-size="16.80" fill="#1f1f1f" stroke="#1f1f1f" text-anchor="end">2020</text><text transform="translate(646.30 1116.96) scale(0.8650 1)" font-size="16.80" fill="#5e5e5e" stroke="#5e5e5e" text-anchor="middle">0</text><text transform="translate(670.66 1116.96) scale(0.8650 1)" font-size="16.80" fill="#5e5e5e" stroke="#5e5e5e" text-anchor="middle">10</text><text transform="translate(695.02 1116.96) scale(0.8650 1)" font-size="16.80" fill="#5e5e5e" stroke="#5e5e5e" text-anchor="middle">20</text><text transform="translate(719.38 1116.96) scale(0.8650 1)" font-size="16.80" fill="#5e5e5e" stroke="#5e5e5e" text-anchor="middle">30</text><text transform="translate(743.73 1116.96) scale(0.8650 1)" font-size="16.80" fill="#5e5e5e" stroke="#5e5e5e" text-anchor="middle">40</text><text transform="translate(768.09 1116.96) scale(0.8650 1)" font-size="16.80" fill="#5e5e5e" stroke="#5e5e5e" text-anchor="middle">50</text><text transform="translate(792.45 1116.96) scale(0.8650 1)" font-size="16.80" fill="#5e5e5e" stroke="#5e5e5e" text-anchor="middle">60</text><text transform="translate(816.81 1116.96) scale(0.8650 1)" font-size="16.80" fill="#5e5e5e" stroke="#5e5e5e" text-anchor="middle">70</text><text transform="translate(841.17 1116.96) scale(0.8650 1)" font-size="16.80" fill="#5e5e5e" stroke="#5e5e5e" text-anchor="middle">80</text><text transform="translate(865.52 1116.96) scale(0.8650 1)" font-size="16.80" fill="#5e5e5e" stroke="#5e5e5e" text-anchor="middle">90</text><text transform="translate(889.88 1116.96) scale(0.8650 1)" font-size="16.80" fill="#5e5e5e" stroke="#5e5e5e" text-anchor="middle">100</text><text transform="translate(914.24 1116.96) scale(0.8650 1)" font-size="16.80" fill="#5e5e5e" stroke="#5e5e5e" text-anchor="middle">110</text><text transform="translate(938.60 1116.96) scale(0.8650 1)" font-size="16.80" fill="#5e5e5e" stroke="#5e5e5e" text-anchor="middle">120</text></g>
<text transform="translate(781.01 1137.70) scale(0.9405 1)" font-size="18.50" fill="#000" stroke="#000">Age</text>
<text transform="translate(573.30 855.10) scale(0.9221 1) rotate(-90)" font-size="19.65" fill="#000" stroke="#000" x="-19.94">Year</text>
<text transform="translate(733.61 601.90) scale(0.9105 1)" font-size="19.10" fill="#000" stroke="#000">Male (mortality)</text>
<text transform="translate(536.16 587.60) scale(0.9440 1)" font-size="30.00" fill="#000" stroke="#000" font-weight="bold">E</text>
<rect x="979.40" y="797.70" width="26.90" height="143.40" fill="url(#legE)"/>
<path d="M979.40 941.10h5.38M1000.92 941.10h5.38" stroke="#fff" stroke-width="1" opacity="0.8"/><text transform="translate(1014.72 946.98) scale(0.8650 1)" font-size="16.80" fill="#1f1f1f" stroke="#1f1f1f">0.00</text><path d="M979.40 897.38h5.38M1000.92 897.38h5.38" stroke="#fff" stroke-width="1" opacity="0.8"/><text transform="translate(1014.72 903.26) scale(0.8650 1)" font-size="16.80" fill="#1f1f1f" stroke="#1f1f1f">0.01</text><path d="M979.40 853.66h5.38M1000.92 853.66h5.38" stroke="#fff" stroke-width="1" opacity="0.8"/><text transform="translate(1014.72 859.54) scale(0.8650 1)" font-size="16.80" fill="#1f1f1f" stroke="#1f1f1f">0.02</text><path d="M979.40 809.94h5.38M1000.92 809.94h5.38" stroke="#fff" stroke-width="1" opacity="0.8"/><text transform="translate(1014.72 815.82) scale(0.8650 1)" font-size="16.80" fill="#1f1f1f" stroke="#1f1f1f">0.03</text>
<text transform="translate(979.22 785.60) scale(0.9285 1)" font-size="18.30" fill="#000" stroke="#000">density</text>
<rect x="1134.50" y="614.20" width="302.10" height="481.50" fill="#fff"/>
<g><line x1="1136.55" y1="614.20" x2="1136.55" y2="1095.70" stroke="#f3f3f3" stroke-width="1.1"/><line x1="1148.00" y1="614.20" x2="1148.00" y2="1095.70" stroke="#ebebeb" stroke-width="1.5"/><line x1="1159.45" y1="614.20" x2="1159.45" y2="1095.70" stroke="#f3f3f3" stroke-width="1.1"/><line x1="1170.90" y1="614.20" x2="1170.90" y2="1095.70" stroke="#ebebeb" stroke-width="1.5"/><line x1="1182.35" y1="614.20" x2="1182.35" y2="1095.70" stroke="#f3f3f3" stroke-width="1.1"/><line x1="1193.80" y1="614.20" x2="1193.80" y2="1095.70" stroke="#ebebeb" stroke-width="1.5"/><line x1="1205.25" y1="614.20" x2="1205.25" y2="1095.70" stroke="#f3f3f3" stroke-width="1.1"/><line x1="1216.70" y1="614.20" x2="1216.70" y2="1095.70" stroke="#ebebeb" stroke-width="1.5"/><line x1="1228.15" y1="614.20" x2="1228.15" y2="1095.70" stroke="#f3f3f3" stroke-width="1.1"/><line x1="1239.60" y1="614.20" x2="1239.60" y2="1095.70" stroke="#ebebeb" stroke-width="1.5"/><line x1="1251.05" y1="614.20" x2="1251.05" y2="1095.70" stroke="#f3f3f3" stroke-width="1.1"/><line x1="1262.50" y1="614.20" x2="1262.50" y2="1095.70" stroke="#ebebeb" stroke-width="1.5"/><line x1="1273.95" y1="614.20" x2="1273.95" y2="1095.70" stroke="#f3f3f3" stroke-width="1.1"/><line x1="1285.40" y1="614.20" x2="1285.40" y2="1095.70" stroke="#ebebeb" stroke-width="1.5"/><line x1="1296.85" y1="614.20" x2="1296.85" y2="1095.70" stroke="#f3f3f3" stroke-width="1.1"/><line x1="1308.30" y1="614.20" x2="1308.30" y2="1095.70" stroke="#ebebeb" stroke-width="1.5"/><line x1="1319.75" y1="614.20" x2="1319.75" y2="1095.70" stroke="#f3f3f3" stroke-width="1.1"/><line x1="1331.20" y1="614.20" x2="1331.20" y2="1095.70" stroke="#ebebeb" stroke-width="1.5"/><line x1="1342.65" y1="614.20" x2="1342.65" y2="1095.70" stroke="#f3f3f3" stroke-width="1.1"/><line x1="1354.10" y1="614.20" x2="1354.10" y2="1095.70" stroke="#ebebeb" stroke-width="1.5"/><line x1="1365.55" y1="614.20" x2="1365.55" y2="1095.70" stroke="#f3f3f3" stroke-width="1.1"/><line x1="1377.00" y1="614.20" x2="1377.00" y2="1095.70" stroke="#ebebeb" stroke-width="1.5"/><line x1="1388.45" y1="614.20" x2="1388.45" y2="1095.70" stroke="#f3f3f3" stroke-width="1.1"/><line x1="1399.90" y1="614.20" x2="1399.90" y2="1095.70" stroke="#ebebeb" stroke-width="1.5"/><line x1="1411.35" y1="614.20" x2="1411.35" y2="1095.70" stroke="#f3f3f3" stroke-width="1.1"/><line x1="1422.80" y1="614.20" x2="1422.80" y2="1095.70" stroke="#ebebeb" stroke-width="1.5"/><line x1="1434.25" y1="614.20" x2="1434.25" y2="1095.70" stroke="#f3f3f3" stroke-width="1.1"/><line x1="1134.50" y1="1071.90" x2="1436.60" y2="1071.90" stroke="#ebebeb" stroke-width="1.5"/><line x1="1134.50" y1="1031.32" x2="1436.60" y2="1031.32" stroke="#ebebeb" stroke-width="1.5"/><line x1="1134.50" y1="990.74" x2="1436.60" y2="990.74" stroke="#ebebeb" stroke-width="1.5"/><line x1="1134.50" y1="950.16" x2="1436.60" y2="950.16" stroke="#ebebeb" stroke-width="1.5"/><line x1="1134.50" y1="909.58" x2="1436.60" y2="909.58" stroke="#ebebeb" stroke-width="1.5"/><line x1="1134.50" y1="869.00" x2="1436.60" y2="869.00" stroke="#ebebeb" stroke-width="1.5"/><line x1="1134.50" y1="828.42" x2="1436.60" y2="828.42" stroke="#ebebeb" stroke-width="1.5"/><line x1="1134.50" y1="787.84" x2="1436.60" y2="787.84" stroke="#ebebeb" stroke-width="1.5"/><line x1="1134.50" y1="747.26" x2="1436.60" y2="747.26" stroke="#ebebeb" stroke-width="1.5"/><line x1="1134.50" y1="706.68" x2="1436.60" y2="706.68" stroke="#ebebeb" stroke-width="1.5"/><line x1="1134.50" y1="666.10" x2="1436.60" y2="666.10" stroke="#ebebeb" stroke-width="1.5"/></g>
<g clip-path="url(#clipF)"><path d="M1148 666.1 1170.3 665.5 1190.9 666 1201.2 665.4 1209.8 664.3 1228.7 660.4 1249.9 657.8 1254.5 657.1 1257.9 656.3 1261.9 654.7 1266.5 651.9 1269.4 649.6 1276.8 642.6 1280.8 639.3 1284.8 636.3 1294 630.2 1299.7 625.9 1302 624.3 1305.4 622.8 1316.3 619.4 1324.9 615.9 1328.9 615.1 1333.5 614.9 1337.5 615.2 1340.4 616 1343.8 618 1346.7 620.4 1349.5 623.5 1353 628 1363.3 643.8 1367.8 650 1371.3 653.9 1374.1 656.6 1377 658.9 1379.9 660.7 1383.9 662.8 1387.3 664.1 1390.2 664.9 1394.2 665.6 1401 666 1422.8 666.1L1422.8 666.1L1148 666.1Z" fill="url(#gF2020)"/><path d="M1148 666.1 1170.3 665.5 1190.9 666 1201.2 665.4 1209.8 664.3 1228.7 660.4 1249.9 657.8 1254.5 657.1 1257.9 656.3 1261.9 654.7 1266.5 651.9 1269.4 649.6 1276.8 642.6 1280.8 639.3 1284.8 636.3 1294 630.2 1299.7 625.9 1302 624.3 1305.4 622.8 1316.3 619.4 1324.9 615.9 1328.9 615.1 1333.5 614.9 1337.5 615.2 1340.4 616 1343.8 618 1346.7 620.4 1349.5 623.5 1353 628 1363.3 643.8 1367.8 650 1371.3 653.9 1374.1 656.6 1377 658.9 1379.9 660.7 1383.9 662.8 1387.3 664.1 1390.2 664.9 1394.2 665.6 1401 666 1422.8 666.1" fill="none" stroke="#161616" stroke-width="1.30" stroke-linejoin="round"/><path d="M1148 706.7 1165.7 706.4 1192.1 706.6 1199.5 706.3 1207 705.7 1214.4 704.5 1240.2 699.5 1249.3 697.3 1258.5 694.5 1266.5 693.3 1269.9 692.5 1273.4 691.2 1277.4 689.1 1282 686.1 1285.4 683.3 1287.7 680.9 1290.6 677.5 1301.4 662.8 1303.7 660.2 1306 658.1 1308.3 656.5 1310.6 655.6 1312.9 655 1316.3 654.8 1318.6 655 1320.3 655.3 1329.5 658.5 1342.1 661.5 1344.9 662.7 1347.2 664.1 1350.1 666.7 1353 670.2 1355.8 674.3 1363.3 685.8 1368.4 692.6 1372.4 697.2 1375.3 700 1378.1 702.4 1381 704.1 1385 705.6 1389.6 706.3 1402.8 706.6 1422.8 706.7L1422.8 706.7L1148 706.7Z" fill="url(#gF2019)"/><path d="M1148 706.7 1165.7 706.4 1192.1 706.6 1199.5 706.3 1207 705.7 1214.4 704.5 1240.2 699.5 1249.3 697.3 1258.5 694.5 1266.5 693.3 1269.9 692.5 1273.4 691.2 1277.4 689.1 1282 686.1 1285.4 683.3 1287.7 680.9 1290.6 677.5 1301.4 662.8 1303.7 660.2 1306 658.1 1308.3 656.5 1310.6 655.6 1312.9 655 1316.3 654.8 1318.6 655 1320.3 655.3 1329.5 658.5 1342.1 661.5 1344.9 662.7 1347.2 664.1 1350.1 666.7 1353 670.2 1355.8 674.3 1363.3 685.8 1368.4 692.6 1372.4 697.2 1375.3 700 1378.1 702.4 1381 704.1 1385 705.6 1389.6 706.3 1402.8 706.6 1422.8 706.7" fill="none" stroke="#161616" stroke-width="1.30" stroke-linejoin="round"/><path d="M1148 747.2 1164.6 747 1190.9 747.1 1200.1 746.8 1206.4 746.4 1211.5 745.9 1227.6 743.2 1232.7 743.1 1241.3 743.6 1244.8 743.2 1247.6 742.5 1251.6 741 1256.2 738.4 1273.4 726.1 1278 723.1 1290.6 716.6 1295.1 713.9 1299.1 710.8 1311.2 699.6 1313.5 697.7 1315.2 696.6 1316.9 695.7 1318.6 695.2 1320.3 695.1 1323.8 695.6 1331.2 698.1 1338.1 699.2 1340.9 699.9 1344.4 701.3 1347.2 703.3 1349.5 705.7 1351.8 708.7 1364.4 728.6 1369 735.1 1371.8 738.4 1374.1 740.6 1377 742.9 1379.9 744.6 1382.2 745.6 1384.4 746.3 1389 747 1422.8 747.3L1422.8 747.3L1148 747.3Z" fill="url(#gF2018)"/><path d="M1148 747.2 1164.6 747 1190.9 747.1 1200.1 746.8 1206.4 746.4 1211.5 745.9 1227.6 743.2 1232.7 743.1 1241.3 743.6 1244.8 743.2 1247.6 742.5 1251.6 741 1256.2 738.4 1273.4 726.1 1278 723.1 1290.6 716.6 1295.1 713.9 1299.1 710.8 1311.2 699.6 1313.5 697.7 1315.2 696.6 1316.9 695.7 1318.6 695.2 1320.3 695.1 1323.8 695.6 1331.2 698.1 1338.1 699.2 1340.9 699.9 1344.4 701.3 1347.2 703.3 1349.5 705.7 1351.8 708.7 1364.4 728.6 1369 735.1 1371.8 738.4 1374.1 740.6 1377 742.9 1379.9 744.6 1382.2 745.6 1384.4 746.3 1389 747 1422.8 747.3" fill="none" stroke="#161616" stroke-width="1.30" stroke-linejoin="round"/><path d="M1148 787.8 1164 787.6 1192.7 787.6 1215.6 786.8 1223 786.3 1240.7 784.6 1248.2 783.5 1252.8 782.5 1257.9 780.7 1263.1 778.5 1267.1 776.5 1270.5 774.3 1297.4 754.5 1302 750.8 1311.2 742.8 1315.7 739.6 1318.6 738.1 1322 736.8 1339.8 731.4 1341.5 731.1 1343.2 730.9 1345.5 731.3 1347.8 732.4 1349.5 733.9 1351.8 736.6 1354.1 740 1355.8 743.2 1363.8 760 1367.8 767.1 1371.3 772 1374.7 776.3 1377.6 779.2 1381 782.1 1383.9 783.9 1386.7 785.2 1390.7 786.3 1395.3 787.2 1401.6 787.7 1422.8 787.8L1422.8 787.8L1148 787.8Z" fill="url(#gF2017)"/><path d="M1148 787.8 1164 787.6 1192.7 787.6 1215.6 786.8 1223 786.3 1240.7 784.6 1248.2 783.5 1252.8 782.5 1257.9 780.7 1263.1 778.5 1267.1 776.5 1270.5 774.3 1297.4 754.5 1302 750.8 1311.2 742.8 1315.7 739.6 1318.6 738.1 1322 736.8 1339.8 731.4 1341.5 731.1 1343.2 730.9 1345.5 731.3 1347.8 732.4 1349.5 733.9 1351.8 736.6 1354.1 740 1355.8 743.2 1363.8 760 1367.8 767.1 1371.3 772 1374.7 776.3 1377.6 779.2 1381 782.1 1383.9 783.9 1386.7 785.2 1390.7 786.3 1395.3 787.2 1401.6 787.7 1422.8 787.8" fill="none" stroke="#161616" stroke-width="1.30" stroke-linejoin="round"/><path d="M1148 828.4 1165.2 828.1 1193.8 828.2 1215 827.6 1220.7 827.2 1239 825.4 1244.8 824.4 1249.9 823.2 1253.9 821.7 1263.6 817 1285.4 808.8 1288.8 807.2 1292.3 805.2 1295.7 802.7 1299.1 799.2 1304.3 792.7 1311.7 782.4 1314.6 779.3 1316.9 777.6 1319.2 776.4 1321.5 775.8 1324.3 775.5 1326.6 775.7 1332.3 776.9 1335.2 777.2 1338.1 777.1 1343.8 776.5 1347.2 776.6 1348.9 777 1350.1 777.4 1352.4 779 1354.7 781.3 1357.5 785.4 1359.8 789.6 1367.3 804.3 1370.7 810.2 1374.1 815.5 1376.4 818.5 1378.7 820.9 1381 822.7 1383.9 824.5 1386.7 825.8 1389.6 826.7 1393.6 827.5 1397 828 1402.8 828.3 1422.8 828.4L1422.8 828.4L1148 828.4Z" fill="url(#gF2016)"/><path d="M1148 828.4 1165.2 828.1 1193.8 828.2 1215 827.6 1220.7 827.2 1239 825.4 1244.8 824.4 1249.9 823.2 1253.9 821.7 1263.6 817 1285.4 808.8 1288.8 807.2 1292.3 805.2 1295.7 802.7 1299.1 799.2 1304.3 792.7 1311.7 782.4 1314.6 779.3 1316.9 777.6 1319.2 776.4 1321.5 775.8 1324.3 775.5 1326.6 775.7 1332.3 776.9 1335.2 777.2 1338.1 777.1 1343.8 776.5 1347.2 776.6 1348.9 777 1350.1 777.4 1352.4 779 1354.7 781.3 1357.5 785.4 1359.8 789.6 1367.3 804.3 1370.7 810.2 1374.1 815.5 1376.4 818.5 1378.7 820.9 1381 822.7 1383.9 824.5 1386.7 825.8 1389.6 826.7 1393.6 827.5 1397 828 1402.8 828.3 1422.8 828.4" fill="none" stroke="#161616" stroke-width="1.30" stroke-linejoin="round"/><path d="M1148 869 1164.6 868.8 1190.4 868.9 1197.8 868.6 1218.4 867.4 1230.4 866.4 1244.8 864.7 1251 863.4 1254.5 862.1 1261.9 858.3 1265.4 856.9 1268.8 855.9 1274.5 855 1277.4 854.3 1280.8 853.2 1283.7 851.8 1287.1 849.6 1291.7 846.1 1296.3 842.3 1303.1 836.1 1313.5 827.9 1315.7 826.6 1318 825.5 1326.6 822.8 1331.2 820.7 1333.5 819.3 1335.8 817.5 1342.7 811.4 1344.9 810 1346.7 809.6 1348.4 809.9 1350.1 810.8 1351.8 812.5 1353.5 814.8 1357 821.1 1369 846.7 1371.8 852.3 1374.1 856 1376.4 859.1 1378.7 861.7 1381.6 864.3 1383.9 865.8 1386.7 867.1 1389.6 867.9 1393 868.4 1400.5 868.9 1422.8 869L1422.8 869L1148 869Z" fill="url(#gF2015)"/><path d="M1148 869 1164.6 868.8 1190.4 868.9 1197.8 868.6 1218.4 867.4 1230.4 866.4 1244.8 864.7 1251 863.4 1254.5 862.1 1261.9 858.3 1265.4 856.9 1268.8 855.9 1274.5 855 1277.4 854.3 1280.8 853.2 1283.7 851.8 1287.1 849.6 1291.7 846.1 1296.3 842.3 1303.1 836.1 1313.5 827.9 1315.7 826.6 1318 825.5 1326.6 822.8 1331.2 820.7 1333.5 819.3 1335.8 817.5 1342.7 811.4 1344.9 810 1346.7 809.6 1348.4 809.9 1350.1 810.8 1351.8 812.5 1353.5 814.8 1357 821.1 1369 846.7 1371.8 852.3 1374.1 856 1376.4 859.1 1378.7 861.7 1381.6 864.3 1383.9 865.8 1386.7 867.1 1389.6 867.9 1393 868.4 1400.5 868.9 1422.8 869" fill="none" stroke="#161616" stroke-width="1.30" stroke-linejoin="round"/><path d="M1148 909.6 1193.8 909.4 1213.8 909 1221.3 908.6 1227.6 908 1232.7 907.1 1239.6 905.5 1249.3 902.8 1257.3 901.5 1260.2 900.9 1263.1 899.9 1265.9 898.7 1275.1 893.6 1286.5 889.1 1289.4 887.6 1291.7 886.1 1294 884.1 1296.3 881.6 1298 879.1 1302.6 871.7 1305.4 867.8 1308.3 864.8 1311.2 862.8 1313.5 862 1316.9 861.7 1320.3 862 1326.6 863.3 1328.9 863.3 1330.6 863.1 1332.3 862.5 1334.1 861.6 1342.7 855.7 1344.9 854.7 1346.7 854.5 1348.9 854.9 1350.7 855.8 1352.4 857.2 1354.1 859.2 1356.4 862.7 1358.7 866.6 1370.1 888.1 1373.6 893.9 1375.9 897.2 1378.7 900.7 1381.6 903.5 1383.9 905.4 1386.2 906.8 1389 907.9 1391.9 908.6 1395.9 909.2 1402.2 909.5 1422.8 909.6L1422.8 909.6L1148 909.6Z" fill="url(#gF2014)"/><path d="M1148 909.6 1193.8 909.4 1213.8 909 1221.3 908.6 1227.6 908 1232.7 907.1 1239.6 905.5 1249.3 902.8 1257.3 901.5 1260.2 900.9 1263.1 899.9 1265.9 898.7 1275.1 893.6 1286.5 889.1 1289.4 887.6 1291.7 886.1 1294 884.1 1296.3 881.6 1298 879.1 1302.6 871.7 1305.4 867.8 1308.3 864.8 1311.2 862.8 1313.5 862 1316.9 861.7 1320.3 862 1326.6 863.3 1328.9 863.3 1330.6 863.1 1332.3 862.5 1334.1 861.6 1342.7 855.7 1344.9 854.7 1346.7 854.5 1348.9 854.9 1350.7 855.8 1352.4 857.2 1354.1 859.2 1356.4 862.7 1358.7 866.6 1370.1 888.1 1373.6 893.9 1375.9 897.2 1378.7 900.7 1381.6 903.5 1383.9 905.4 1386.2 906.8 1389 907.9 1391.9 908.6 1395.9 909.2 1402.2 909.5 1422.8 909.6" fill="none" stroke="#161616" stroke-width="1.30" stroke-linejoin="round"/><path d="M1148 950 1160 949.5 1168 948.3 1170.9 948 1173.8 948.2 1180.6 949.3 1186.4 949.9 1190.4 950 1196.1 949.9 1213.8 949.1 1237.9 947.7 1241.9 947.2 1245.3 946.5 1247.6 945.8 1250.5 944.6 1260.8 939 1267.1 936.1 1275.7 933 1288.3 929.1 1293.4 927.1 1297.4 924.8 1307.7 917.3 1312.3 913.8 1315.2 912 1330.1 905.6 1337.5 901.5 1340.4 900.1 1344.4 898.8 1347.8 898.3 1351.2 898.7 1354.1 899.9 1356.4 901.5 1359.3 904.5 1362.1 908.6 1365 913.4 1369 920.8 1374.7 932.1 1377.6 937.2 1379.3 939.7 1381.6 942.4 1383.3 944.1 1385.6 946 1387.9 947.3 1390.2 948.3 1393.6 949.2 1397 949.8 1402.2 950.1 1422.8 950.2L1422.8 950.2L1148 950.2Z" fill="url(#gF2013)"/><path d="M1148 950 1160 949.5 1168 948.3 1170.9 948 1173.8 948.2 1180.6 949.3 1186.4 949.9 1190.4 950 1196.1 949.9 1213.8 949.1 1237.9 947.7 1241.9 947.2 1245.3 946.5 1247.6 945.8 1250.5 944.6 1260.8 939 1267.1 936.1 1275.7 933 1288.3 929.1 1293.4 927.1 1297.4 924.8 1307.7 917.3 1312.3 913.8 1315.2 912 1330.1 905.6 1337.5 901.5 1340.4 900.1 1344.4 898.8 1347.8 898.3 1351.2 898.7 1354.1 899.9 1356.4 901.5 1359.3 904.5 1362.1 908.6 1365 913.4 1369 920.8 1374.7 932.1 1377.6 937.2 1379.3 939.7 1381.6 942.4 1383.3 944.1 1385.6 946 1387.9 947.3 1390.2 948.3 1393.6 949.2 1397 949.8 1402.2 950.1 1422.8 950.2" fill="none" stroke="#161616" stroke-width="1.30" stroke-linejoin="round"/><path d="M1148 990.5 1153.2 990.3 1158.3 989.8 1161.2 989.2 1167.5 987.6 1169.8 987.2 1172 987 1176.1 987.4 1184.6 989.8 1189.2 990.4 1193.8 990.5 1215 990.2 1222.4 989.8 1228.7 989 1233.3 988.1 1252.8 982.4 1259.6 980.6 1263.1 980.1 1272.2 979.9 1276.2 979.1 1278.5 978.3 1280.8 977.1 1283.1 975.5 1286.5 972.7 1291.7 967.8 1299.7 958.7 1301.4 957.1 1303.1 955.9 1309.4 952.8 1318.6 947.7 1322 946.1 1324.9 945.2 1331.2 944.1 1334.1 943.1 1336.9 941.4 1342.7 936.8 1345.5 934.9 1348.4 933.6 1350.7 933.2 1352.4 933.5 1354.1 934.4 1355.8 936 1358.1 938.9 1361.5 944.6 1371.8 964.1 1378.1 975 1382.2 981.1 1383.9 983.1 1386.2 985.3 1388.5 986.8 1391.9 988.5 1395.3 989.7 1398.2 990.3 1403.3 990.6 1422.8 990.7L1422.8 990.7L1148 990.7Z" fill="url(#gF2012)"/><path d="M1148 990.5 1153.2 990.3 1158.3 989.8 1161.2 989.2 1167.5 987.6 1169.8 987.2 1172 987 1176.1 987.4 1184.6 989.8 1189.2 990.4 1193.8 990.5 1215 990.2 1222.4 989.8 1228.7 989 1233.3 988.1 1252.8 982.4 1259.6 980.6 1263.1 980.1 1272.2 979.9 1276.2 979.1 1278.5 978.3 1280.8 977.1 1283.1 975.5 1286.5 972.7 1291.7 967.8 1299.7 958.7 1301.4 957.1 1303.1 955.9 1309.4 952.8 1318.6 947.7 1322 946.1 1324.9 945.2 1331.2 944.1 1334.1 943.1 1336.9 941.4 1342.7 936.8 1345.5 934.9 1348.4 933.6 1350.7 933.2 1352.4 933.5 1354.1 934.4 1355.8 936 1358.1 938.9 1361.5 944.6 1371.8 964.1 1378.1 975 1382.2 981.1 1383.9 983.1 1386.2 985.3 1388.5 986.8 1391.9 988.5 1395.3 989.7 1398.2 990.3 1403.3 990.6 1422.8 990.7" fill="none" stroke="#161616" stroke-width="1.30" stroke-linejoin="round"/><path d="M1148 1031.2 1163.5 1030.7 1175.5 1029.5 1178.9 1029.7 1187.5 1030.8 1191.5 1031 1211 1030.8 1224.7 1030.2 1230.4 1029.6 1236.7 1028.4 1242.5 1027.1 1256.8 1023.3 1267.1 1020.1 1284.8 1014.2 1289.4 1012.3 1292.8 1010.4 1296.3 1007.8 1299.1 1004.8 1312.3 987.8 1315.2 985.1 1318 983.3 1319.8 982.5 1322 981.8 1332.9 979.8 1343.8 976.9 1347.2 976.5 1350.1 976.9 1352.4 977.9 1354.1 979.1 1356.4 981.7 1359.8 986.9 1367.8 1001 1376.4 1015.5 1378.1 1017.9 1380.4 1020.7 1382.7 1022.9 1385 1024.8 1387.9 1026.7 1390.7 1028 1394.7 1029.5 1398.2 1030.3 1401.6 1030.7 1407.3 1031 1422.8 1031.3L1422.8 1031.3L1148 1031.3Z" fill="url(#gF2011)"/><path d="M1148 1031.2 1163.5 1030.7 1175.5 1029.5 1178.9 1029.7 1187.5 1030.8 1191.5 1031 1211 1030.8 1224.7 1030.2 1230.4 1029.6 1236.7 1028.4 1242.5 1027.1 1256.8 1023.3 1267.1 1020.1 1284.8 1014.2 1289.4 1012.3 1292.8 1010.4 1296.3 1007.8 1299.1 1004.8 1312.3 987.8 1315.2 985.1 1318 983.3 1319.8 982.5 1322 981.8 1332.9 979.8 1343.8 976.9 1347.2 976.5 1350.1 976.9 1352.4 977.9 1354.1 979.1 1356.4 981.7 1359.8 986.9 1367.8 1001 1376.4 1015.5 1378.1 1017.9 1380.4 1020.7 1382.7 1022.9 1385 1024.8 1387.9 1026.7 1390.7 1028 1394.7 1029.5 1398.2 1030.3 1401.6 1030.7 1407.3 1031 1422.8 1031.3" fill="none" stroke="#161616" stroke-width="1.30" stroke-linejoin="round"/><path d="M1148 1071.9 1177.8 1071.1 1190.9 1071.6 1207.5 1071.5 1218.4 1071 1235.6 1069.5 1239.6 1069.1 1242.5 1068.4 1251.6 1065.5 1257.9 1063.8 1274.5 1060.5 1278 1059.5 1281.4 1058 1284.3 1056.4 1286.5 1054.6 1290 1051.2 1294.6 1045.9 1304.9 1032.9 1307.7 1030 1310 1028.5 1312.9 1027.5 1315.7 1027.4 1319.8 1028 1327.8 1029.9 1330.1 1030.1 1331.8 1029.9 1333.5 1029.5 1335.8 1028.4 1343.2 1023.4 1346.1 1021.8 1349.5 1020.7 1352.4 1020.4 1354.7 1020.8 1356.4 1021.6 1358.1 1022.8 1360.4 1025.3 1363.3 1029.4 1367.8 1036.4 1378.1 1053.5 1381.6 1058.9 1385 1063.4 1386.7 1065.2 1388.5 1066.7 1390.7 1068.2 1393.6 1069.5 1396.5 1070.5 1398.8 1071 1407.9 1071.6 1422.8 1071.9L1422.8 1071.9L1148 1071.9Z" fill="url(#gF2010)"/><path d="M1148 1071.9 1177.8 1071.1 1190.9 1071.6 1207.5 1071.5 1218.4 1071 1235.6 1069.5 1239.6 1069.1 1242.5 1068.4 1251.6 1065.5 1257.9 1063.8 1274.5 1060.5 1278 1059.5 1281.4 1058 1284.3 1056.4 1286.5 1054.6 1290 1051.2 1294.6 1045.9 1304.9 1032.9 1307.7 1030 1310 1028.5 1312.9 1027.5 1315.7 1027.4 1319.8 1028 1327.8 1029.9 1330.1 1030.1 1331.8 1029.9 1333.5 1029.5 1335.8 1028.4 1343.2 1023.4 1346.1 1021.8 1349.5 1020.7 1352.4 1020.4 1354.7 1020.8 1356.4 1021.6 1358.1 1022.8 1360.4 1025.3 1363.3 1029.4 1367.8 1036.4 1378.1 1053.5 1381.6 1058.9 1385 1063.4 1386.7 1065.2 1388.5 1066.7 1390.7 1068.2 1393.6 1069.5 1396.5 1070.5 1398.8 1071 1407.9 1071.6 1422.8 1071.9" fill="none" stroke="#161616" stroke-width="1.30" stroke-linejoin="round"/></g>
<rect x="1134.50" y="614.20" width="302.10" height="481.50" fill="none" stroke="#858585" stroke-width="1.5"/>
<path d="M1148.00 1095.70v5.2M1170.90 1095.70v5.2M1193.80 1095.70v5.2M1216.70 1095.70v5.2M1239.60 1095.70v5.2M1262.50 1095.70v5.2M1285.40 1095.70v5.2M1308.30 1095.70v5.2M1331.20 1095.70v5.2M1354.10 1095.70v5.2M1377.00 1095.70v5.2M1399.90 1095.70v5.2M1422.80 1095.70v5.2M1134.50 1071.90h-5.0M1134.50 1031.32h-5.0M1134.50 990.74h-5.0M1134.50 950.16h-5.0M1134.50 909.58h-5.0M1134.50 869.00h-5.0M1134.50 828.42h-5.0M1134.50 787.84h-5.0M1134.50 747.26h-5.0M1134.50 706.68h-5.0M1134.50 666.10h-5.0" stroke="#333" stroke-width="1.4" fill="none"/>
<g><text transform="translate(1125.60 1075.85) scale(0.8100 1)" font-size="17.00" fill="#1f1f1f" stroke="#1f1f1f" text-anchor="end">2010</text><text transform="translate(1125.60 1035.27) scale(0.8100 1)" font-size="17.00" fill="#1f1f1f" stroke="#1f1f1f" text-anchor="end">2011</text><text transform="translate(1125.60 994.69) scale(0.8100 1)" font-size="17.00" fill="#1f1f1f" stroke="#1f1f1f" text-anchor="end">2012</text><text transform="translate(1125.60 954.11) scale(0.8100 1)" font-size="17.00" fill="#1f1f1f" stroke="#1f1f1f" text-anchor="end">2013</text><text transform="translate(1125.60 913.53) scale(0.8100 1)" font-size="17.00" fill="#1f1f1f" stroke="#1f1f1f" text-anchor="end">2014</text><text transform="translate(1125.60 872.95) scale(0.8100 1)" font-size="17.00" fill="#1f1f1f" stroke="#1f1f1f" text-anchor="end">2015</text><text transform="translate(1125.60 832.37) scale(0.8100 1)" font-size="17.00" fill="#1f1f1f" stroke="#1f1f1f" text-anchor="end">2016</text><text transform="translate(1125.60 791.79) scale(0.8100 1)" font-size="17.00" fill="#1f1f1f" stroke="#1f1f1f" text-anchor="end">2017</text><text transform="translate(1125.60 751.21) scale(0.8100 1)" font-size="17.00" fill="#1f1f1f" stroke="#1f1f1f" text-anchor="end">2018</text><text transform="translate(1125.60 710.63) scale(0.8100 1)" font-size="17.00" fill="#1f1f1f" stroke="#1f1f1f" text-anchor="end">2019</text><text transform="translate(1125.60 670.05) scale(0.8100 1)" font-size="17.00" fill="#1f1f1f" stroke="#1f1f1f" text-anchor="end">2020</text><text transform="translate(1148.00 1115.00) scale(0.8100 1)" font-size="17.00" fill="#5e5e5e" stroke="#5e5e5e" text-anchor="middle">0</text><text transform="translate(1170.90 1115.00) scale(0.8100 1)" font-size="17.00" fill="#5e5e5e" stroke="#5e5e5e" text-anchor="middle">10</text><text transform="translate(1193.80 1115.00) scale(0.8100 1)" font-size="17.00" fill="#5e5e5e" stroke="#5e5e5e" text-anchor="middle">20</text><text transform="translate(1216.70 1115.00) scale(0.8100 1)" font-size="17.00" fill="#5e5e5e" stroke="#5e5e5e" text-anchor="middle">30</text><text transform="translate(1239.60 1115.00) scale(0.8100 1)" font-size="17.00" fill="#5e5e5e" stroke="#5e5e5e" text-anchor="middle">40</text><text transform="translate(1262.50 1115.00) scale(0.8100 1)" font-size="17.00" fill="#5e5e5e" stroke="#5e5e5e" text-anchor="middle">50</text><text transform="translate(1285.40 1115.00) scale(0.8100 1)" font-size="17.00" fill="#5e5e5e" stroke="#5e5e5e" text-anchor="middle">60</text><text transform="translate(1308.30 1115.00) scale(0.8100 1)" font-size="17.00" fill="#5e5e5e" stroke="#5e5e5e" text-anchor="middle">70</text><text transform="translate(1331.20 1115.00) scale(0.8100 1)" font-size="17.00" fill="#5e5e5e" stroke="#5e5e5e" text-anchor="middle">80</text><text transform="translate(1354.10 1115.00) scale(0.8100 1)" font-size="17.00" fill="#5e5e5e" stroke="#5e5e5e" text-anchor="middle">90</text><text transform="translate(1377.00 1115.00) scale(0.8100 1)" font-size="17.00" fill="#5e5e5e" stroke="#5e5e5e" text-anchor="middle">100</text><text transform="translate(1399.90 1115.00) scale(0.8100 1)" font-size="17.00" fill="#5e5e5e" stroke="#5e5e5e" text-anchor="middle">110</text><text transform="translate(1422.80 1115.00) scale(0.8100 1)" font-size="17.00" fill="#5e5e5e" stroke="#5e5e5e" text-anchor="middle">120</text></g>
<text transform="translate(1274.82 1135.60) scale(0.8905 1)" font-size="18.50" fill="#000" stroke="#000">Age</text>
<text transform="translate(1079.70 854.10) scale(0.9317 1) rotate(-90)" font-size="19.44" fill="#000" stroke="#000" x="-19.74">Year</text>
<text transform="translate(1224.30 601.70) scale(0.8558 1)" font-size="19.00" fill="#000" stroke="#000">Female (mortality)</text>
<text transform="translate(1052.55 587.50) scale(0.9477 1)" font-size="30.00" fill="#000" stroke="#000" font-weight="bold">F</text>
<rect x="1461.10" y="796.70" width="25.50" height="144.00" fill="url(#legF)"/>
<path d="M1461.10 896.09h5.10M1481.50 896.09h5.10" stroke="#fff" stroke-width="1" opacity="0.8"/><text transform="translate(1494.05 902.04) scale(0.8100 1)" font-size="17.00" fill="#1f1f1f" stroke="#1f1f1f">0.01</text><path d="M1461.10 851.04h5.10M1481.50 851.04h5.10" stroke="#fff" stroke-width="1" opacity="0.8"/><text transform="translate(1494.05 856.99) scale(0.8100 1)" font-size="17.00" fill="#1f1f1f" stroke="#1f1f1f">0.02</text><path d="M1461.10 805.98h5.10M1481.50 805.98h5.10" stroke="#fff" stroke-width="1" opacity="0.8"/><text transform="translate(1494.05 811.93) scale(0.8100 1)" font-size="17.00" fill="#1f1f1f" stroke="#1f1f1f">0.03</text>
<text transform="translate(1460.96 785.60) scale(0.8796 1)" font-size="18.30" fill="#000" stroke="#000">density</text></svg></body></html>
